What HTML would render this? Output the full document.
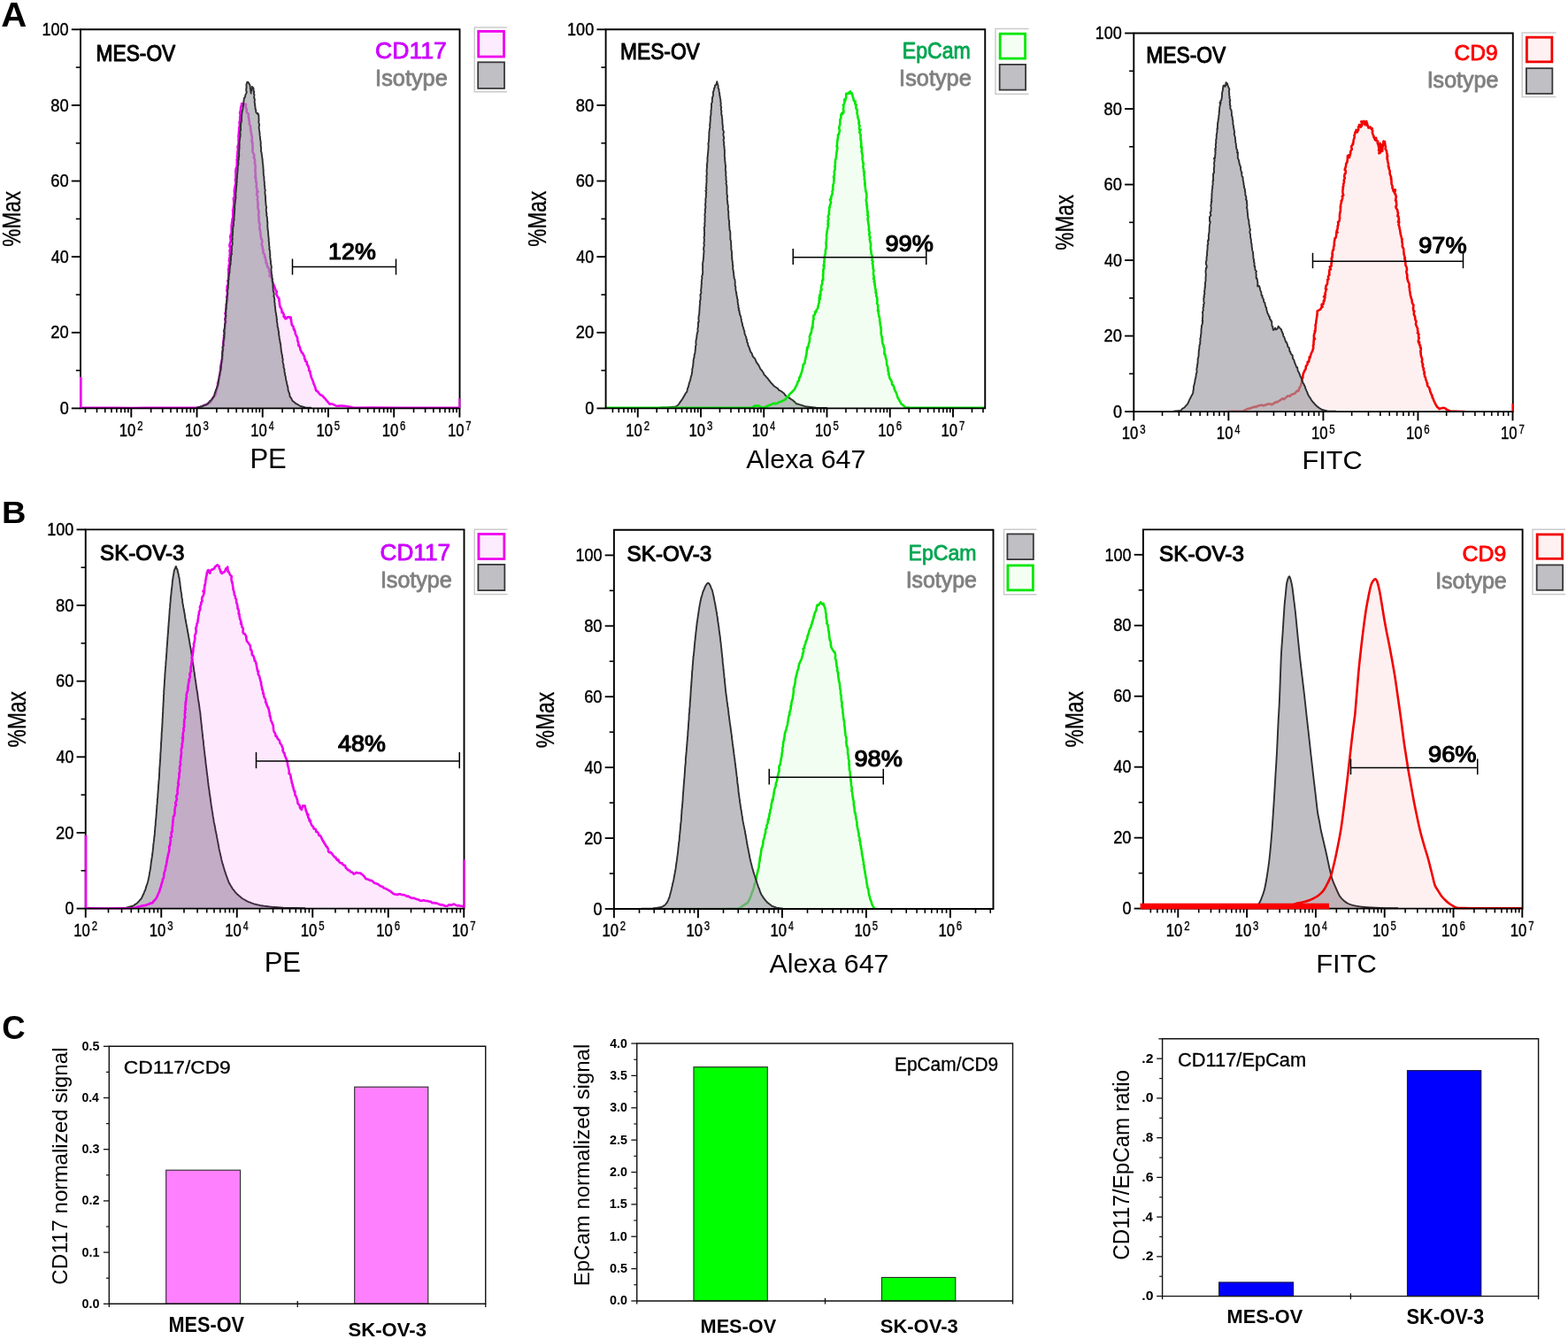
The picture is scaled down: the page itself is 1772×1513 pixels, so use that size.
<!DOCTYPE html>
<html lang="en"><head><meta charset="utf-8"><title>Flow cytometry of MES-OV and SK-OV-3: CD117, EpCam, CD9</title>
<style>
html,body{margin:0;padding:0;background:#fff}
body{width:1772px;height:1513px;overflow:hidden}
svg{display:block}
text{font-family:"Liberation Sans",Arial,Helvetica,sans-serif;white-space:pre}
</style></head><body>
<svg width="1772" height="1513" viewBox="0 0 1772 1513">
<rect width="1772" height="1513" fill="#fff"/>
<defs><clipPath id="cpA1"><rect x="89.8" y="33.3" width="430.9" height="428.95"/></clipPath><clipPath id="cpA2"><rect x="683.4" y="33.3" width="431.05" height="428.95"/></clipPath><clipPath id="cpA3"><rect x="1280.1" y="37.5" width="430.85" height="428.45"/></clipPath><clipPath id="cpB1"><rect x="95.55" y="598.4" width="430.15" height="429.05"/></clipPath><clipPath id="cpB2"><rect x="692.7" y="598.75" width="431" height="429.1"/></clipPath><clipPath id="cpB3"><rect x="1290.7" y="598.4" width="431.1" height="429.05"/></clipPath></defs>
<g clip-path="url(#cpA1)"><path d="M91.6,460.83L94.6,460.71L110,460.89L130,460.77L150,460.95L165,460.68L185,460.86L205,460.71L225,460.68L226.4,460.04L227.8,459.41L229.2,458.77L230.84,457.93L231.9,457.47L233.36,457.42L234.93,455.94L236.2,455.07L237.66,455.04L238.52,453.47L239.35,452.31L240.01,450.63L241.08,448.77L242.05,447.83L242.93,446.83L243.9,445.52L244.16,443.31L244.55,441.83L244.61,440.71L245.21,439.14L245.66,438.11L246.11,435.93L246.13,433.9L246.07,432.55L246.6,431.44L247.21,429.22L247.83,428.03L247.92,425.46L248.05,424.56L248.11,424.25L248.86,422.28L248.73,419.83L249.56,418.05L249.16,417.56L249.18,413.9L249.49,414.17L249.78,411.66L250.2,409.77L250.42,409.66L251.01,408.2L250.89,405.94L251.42,405.01L251.19,403.14L251.73,401.55L251.44,400.36L251.6,397.36L251.63,396.19L252.18,394.29L251.78,392.42L252.75,390.84L252.5,389.65L252.23,388.6L252.83,384.91L252.53,384.7L253.33,384.15L252.75,381.87L253.45,381.55L252.96,379.28L253.49,377.91L254.06,374.64L253.12,374.3L253.89,372.35L254.07,371L254.51,368.22L254.28,368.56L254.74,364.81L255.35,363.39L254.75,362.2L254.44,359.95L254.77,359.95L255.18,359.49L255.01,355.48L254.39,354.28L255.49,352.52L255.35,350.58L255.53,349.01L255.39,348.54L255.71,345.43L255.49,344.45L256.01,342.99L256.4,341.16L257.08,339.17L256.93,337.89L256.91,336.75L256.06,335.68L256.75,333.79L257.03,331.78L256.83,329.58L256.37,328.02L256.81,325.93L256.5,323.8L257.19,322.62L257.34,322.02L258.08,320.31L257.28,317.17L257.91,316.61L258.08,314.82L258.13,314.71L258.28,314.12L258.54,311.88L258.29,310.96L258.29,306.64L258.73,305.76L257.93,304.87L258.74,302.06L258.64,301.64L258.62,300.16L259.43,297.62L259.58,296.1L258.74,294.64L259.53,293.26L258.98,292.29L259.85,290.93L259.64,288L259.64,288.25L260,286.14L259.48,282.83L260.31,281.44L260.3,281.86L260.09,278.14L259.82,279.55L259.37,277.14L260.17,274.33L260.56,272.93L261.09,272.07L260.71,271.08L260.2,267.15L260.65,267.28L260.68,265.21L261.24,264.04L261.77,262.58L261.6,260.47L261.71,259L261.54,256.49L261.76,253.99L261.94,253.25L262.05,251.2L262.41,251.47L262.52,247.86L262.52,247.78L263.03,245.98L263.39,244.01L263.14,242.42L263.3,240.99L263.32,239.67L263.02,237.42L263.56,236.92L263.98,233.1L263.95,233.52L264.14,231.51L264.39,228.78L264.2,228.21L264.15,226.83L263.86,224.5L264.25,223.28L265.47,222.16L264.76,219.99L265.16,219.34L264.88,216.59L264.84,216.94L264.86,214.48L265.34,212.6L265.29,212.23L265.86,209.57L266.22,208.05L266.52,205.91L265.99,204.35L266.03,202.73L266.31,200.66L266.45,199.35L266.32,198.53L266.59,197.44L266.32,194.21L266.38,193.26L266.56,191.06L267.23,189.16L267.8,188.3L267.6,186.46L267.93,185.61L267.68,184.32L268.04,181.18L267.54,180.66L267.99,180.48L268.2,177.94L267.94,176.81L268.42,174.71L268.4,172.73L268.54,170.64L268.55,170.18L269.19,167.95L268.5,166.71L268.75,164.99L269.4,163.35L269.59,161.58L269.64,160.17L269.81,158.64L269.36,157.95L270.23,155.06L269.43,155.03L269.6,152.54L269.91,150.82L269.9,149.52L269.99,148.93L270.15,145.2L270.52,143.1L271.18,142.81L270.72,142.21L270.84,138.61L270.42,138.37L270.94,136.82L271.22,134.59L271.16,131.85L271.64,130.64L271.98,131.88L271.03,126.99L271.47,126.79L271.92,124.53L272.1,121.72L272.21,121.12L273.03,118.6L273.12,117.03L274.87,117.35L276.71,117.69L278.02,117.87L277.65,121.14L277.85,121.61L278.81,123.66L278.47,125.39L279.36,127.69L280.29,127.96L280.96,129.1L280.68,131.78L281.38,134.12L281.26,134.71L281.49,136.35L282.04,137.64L281.79,138.46L281.92,140.63L283.05,142.16L283.01,145.57L283.13,143.91L283.31,146.71L283.53,149.11L284.14,150.82L284.24,152.42L284.14,153.02L284.83,153.93L284.88,157.62L284.45,158.72L284.75,161.19L285.26,160.11L285.53,164.43L285.42,164.93L285.44,166.06L285.69,167.3L285.29,170.24L285.62,172.2L286.64,173.54L286.92,174.25L287.21,174.87L287.29,176.52L286.72,177.93L287.57,179.14L288.13,181.41L287.94,183.76L287.63,184.08L288.41,185.52L288.68,188.72L288.62,189.84L288.63,190.83L288.26,193.09L288.74,194.76L288.79,196.4L288.96,197.12L288.31,200.25L289.08,199.88L289.19,203.97L289.19,205.67L289.77,205.21L289.9,206.19L289.9,209.46L289.59,211.67L289.95,212.13L290.58,213.58L290.37,217.4L291.6,216.43L290.66,218.4L290,220.14L291.28,221.89L291.06,223.93L290.75,225.36L291.14,226.52L291.44,228.19L291.4,230.48L291.91,230.75L291.23,233.14L291.46,234.64L291.74,236.42L292.31,237.84L292.46,240.04L292.61,240.78L292.02,242.73L292.66,245.9L292.5,246.28L292.3,248.15L292.8,249.07L292.64,251.08L293.55,253.04L293.61,254.09L293.43,256.18L293.04,257.83L293.97,259.29L293.51,259.03L294.29,261.92L294.41,264.32L294.65,265.11L294.39,266.45L295.15,267.97L294.83,269.56L296.01,270.48L296.34,273.5L295.82,274.94L295.63,276.78L296.33,277.41L296.71,279.72L297.23,282.94L297.67,282.25L297.35,285.87L298.23,286.5L299.01,287.38L299,290.38L299.77,290.48L300.04,293.13L300.63,293.83L300.46,296.89L301.07,296.76L301.61,297.52L301.79,299.51L302.31,301.87L302.78,301.5L303.81,303.31L304.15,305.67L304.06,306.59L304.91,307.88L305.19,309.29L304.52,311.95L306.03,311.72L307.06,314.86L307.39,314.91L307.68,317.97L308.34,319.01L308.53,321.07L309.32,321.79L309.72,322.82L310.44,324.58L311.32,327.16L311.7,328.54L312.81,329.38L312.33,332.19L312.72,333.28L313.53,334.94L313.69,335.19L315.37,337.4L315.39,339.75L315.58,340.14L315.93,342.21L315.96,343.97L316.02,343.97L316.68,347L317.08,347.36L318.06,349.01L318.38,350.96L318.52,350.96L318.71,353.28L319.56,352.97L320.67,355L320.67,357.85L320.83,358.18L322.26,358.08L322.47,360.24L323.48,359.97L325.41,358.23L326.09,358.51L327.36,358.21L328.81,358.8L328.45,360.37L329.18,361.49L329.06,363.03L329.8,366.33L329.9,367.41L331.2,368.54L331.4,368.66L332.15,372.65L332.82,372.33L333.24,374.16L333.64,374.79L333.66,376.63L334.25,378.14L335.2,379.9L336.16,381.93L336.26,382.97L336.13,383.79L336.32,385.09L337.23,387.32L337.19,390.5L338.06,390.19L338.25,390.85L338.92,392.58L339.57,395.36L340.44,396.9L341.03,398.66L342.05,399.05L342.77,400.57L342.95,401.34L343.79,402.14L344.29,405.7L345.1,406.21L345.05,408.09L346.04,408.53L346.89,409.23L346.87,411.64L347.99,413.08L348.55,414.49L349.29,416.72L349.03,418.61L350.56,419.86L350.44,420.9L351.16,423.97L351.46,424.13L351.59,426.02L352.76,428.28L353.01,429.17L353.6,430.48L353.9,431.15L354.43,433.42L355.26,435.01L355.76,436.48L356.35,437.67L356.47,439.06L357.4,441.5L358.93,442.28L359.91,443.69L360.88,444.76L362.11,446.28L363.82,446.81L364.94,447.58L365.87,448.93L367.1,450.05L367.89,450.9L368.72,452.07L370.28,453.84L371.37,455.08L372.42,456.6L374.27,456.31L375.94,456.65L377.47,457.42L378.57,457.79L380,458.75L381.6,458.68L383.2,458.61L384.8,458.54L386.4,458.47L388.15,458.66L389.5,458.69L391,458.99L392.5,459.28L394,459.57L395.5,459.86L397,460.15L398.5,460.45L400,460.74L420,460.65L450,460.86L480,460.92L505,460.83L519.3,460.89L519.3,461.4L91.6,461.4Z" fill="#ee00ee" fill-opacity="0.09" stroke="none"/>
<path d="M91.6,460.83L94.6,460.71L110,460.89L130,460.77L150,460.95L165,460.68L185,460.86L205,460.71L225,460.68L226.4,460.04L227.8,459.41L229.2,458.77L230.84,457.93L231.9,457.47L233.36,457.42L234.93,455.94L236.2,455.07L237.66,455.04L238.52,453.47L239.35,452.31L240.01,450.63L241.08,448.77L242.05,447.83L242.93,446.83L243.9,445.52L244.16,443.31L244.55,441.83L244.61,440.71L245.21,439.14L245.66,438.11L246.11,435.93L246.13,433.9L246.07,432.55L246.6,431.44L247.21,429.22L247.83,428.03L247.92,425.46L248.05,424.56L248.11,424.25L248.86,422.28L248.73,419.83L249.56,418.05L249.16,417.56L249.18,413.9L249.49,414.17L249.78,411.66L250.2,409.77L250.42,409.66L251.01,408.2L250.89,405.94L251.42,405.01L251.19,403.14L251.73,401.55L251.44,400.36L251.6,397.36L251.63,396.19L252.18,394.29L251.78,392.42L252.75,390.84L252.5,389.65L252.23,388.6L252.83,384.91L252.53,384.7L253.33,384.15L252.75,381.87L253.45,381.55L252.96,379.28L253.49,377.91L254.06,374.64L253.12,374.3L253.89,372.35L254.07,371L254.51,368.22L254.28,368.56L254.74,364.81L255.35,363.39L254.75,362.2L254.44,359.95L254.77,359.95L255.18,359.49L255.01,355.48L254.39,354.28L255.49,352.52L255.35,350.58L255.53,349.01L255.39,348.54L255.71,345.43L255.49,344.45L256.01,342.99L256.4,341.16L257.08,339.17L256.93,337.89L256.91,336.75L256.06,335.68L256.75,333.79L257.03,331.78L256.83,329.58L256.37,328.02L256.81,325.93L256.5,323.8L257.19,322.62L257.34,322.02L258.08,320.31L257.28,317.17L257.91,316.61L258.08,314.82L258.13,314.71L258.28,314.12L258.54,311.88L258.29,310.96L258.29,306.64L258.73,305.76L257.93,304.87L258.74,302.06L258.64,301.64L258.62,300.16L259.43,297.62L259.58,296.1L258.74,294.64L259.53,293.26L258.98,292.29L259.85,290.93L259.64,288L259.64,288.25L260,286.14L259.48,282.83L260.31,281.44L260.3,281.86L260.09,278.14L259.82,279.55L259.37,277.14L260.17,274.33L260.56,272.93L261.09,272.07L260.71,271.08L260.2,267.15L260.65,267.28L260.68,265.21L261.24,264.04L261.77,262.58L261.6,260.47L261.71,259L261.54,256.49L261.76,253.99L261.94,253.25L262.05,251.2L262.41,251.47L262.52,247.86L262.52,247.78L263.03,245.98L263.39,244.01L263.14,242.42L263.3,240.99L263.32,239.67L263.02,237.42L263.56,236.92L263.98,233.1L263.95,233.52L264.14,231.51L264.39,228.78L264.2,228.21L264.15,226.83L263.86,224.5L264.25,223.28L265.47,222.16L264.76,219.99L265.16,219.34L264.88,216.59L264.84,216.94L264.86,214.48L265.34,212.6L265.29,212.23L265.86,209.57L266.22,208.05L266.52,205.91L265.99,204.35L266.03,202.73L266.31,200.66L266.45,199.35L266.32,198.53L266.59,197.44L266.32,194.21L266.38,193.26L266.56,191.06L267.23,189.16L267.8,188.3L267.6,186.46L267.93,185.61L267.68,184.32L268.04,181.18L267.54,180.66L267.99,180.48L268.2,177.94L267.94,176.81L268.42,174.71L268.4,172.73L268.54,170.64L268.55,170.18L269.19,167.95L268.5,166.71L268.75,164.99L269.4,163.35L269.59,161.58L269.64,160.17L269.81,158.64L269.36,157.95L270.23,155.06L269.43,155.03L269.6,152.54L269.91,150.82L269.9,149.52L269.99,148.93L270.15,145.2L270.52,143.1L271.18,142.81L270.72,142.21L270.84,138.61L270.42,138.37L270.94,136.82L271.22,134.59L271.16,131.85L271.64,130.64L271.98,131.88L271.03,126.99L271.47,126.79L271.92,124.53L272.1,121.72L272.21,121.12L273.03,118.6L273.12,117.03L274.87,117.35L276.71,117.69L278.02,117.87L277.65,121.14L277.85,121.61L278.81,123.66L278.47,125.39L279.36,127.69L280.29,127.96L280.96,129.1L280.68,131.78L281.38,134.12L281.26,134.71L281.49,136.35L282.04,137.64L281.79,138.46L281.92,140.63L283.05,142.16L283.01,145.57L283.13,143.91L283.31,146.71L283.53,149.11L284.14,150.82L284.24,152.42L284.14,153.02L284.83,153.93L284.88,157.62L284.45,158.72L284.75,161.19L285.26,160.11L285.53,164.43L285.42,164.93L285.44,166.06L285.69,167.3L285.29,170.24L285.62,172.2L286.64,173.54L286.92,174.25L287.21,174.87L287.29,176.52L286.72,177.93L287.57,179.14L288.13,181.41L287.94,183.76L287.63,184.08L288.41,185.52L288.68,188.72L288.62,189.84L288.63,190.83L288.26,193.09L288.74,194.76L288.79,196.4L288.96,197.12L288.31,200.25L289.08,199.88L289.19,203.97L289.19,205.67L289.77,205.21L289.9,206.19L289.9,209.46L289.59,211.67L289.95,212.13L290.58,213.58L290.37,217.4L291.6,216.43L290.66,218.4L290,220.14L291.28,221.89L291.06,223.93L290.75,225.36L291.14,226.52L291.44,228.19L291.4,230.48L291.91,230.75L291.23,233.14L291.46,234.64L291.74,236.42L292.31,237.84L292.46,240.04L292.61,240.78L292.02,242.73L292.66,245.9L292.5,246.28L292.3,248.15L292.8,249.07L292.64,251.08L293.55,253.04L293.61,254.09L293.43,256.18L293.04,257.83L293.97,259.29L293.51,259.03L294.29,261.92L294.41,264.32L294.65,265.11L294.39,266.45L295.15,267.97L294.83,269.56L296.01,270.48L296.34,273.5L295.82,274.94L295.63,276.78L296.33,277.41L296.71,279.72L297.23,282.94L297.67,282.25L297.35,285.87L298.23,286.5L299.01,287.38L299,290.38L299.77,290.48L300.04,293.13L300.63,293.83L300.46,296.89L301.07,296.76L301.61,297.52L301.79,299.51L302.31,301.87L302.78,301.5L303.81,303.31L304.15,305.67L304.06,306.59L304.91,307.88L305.19,309.29L304.52,311.95L306.03,311.72L307.06,314.86L307.39,314.91L307.68,317.97L308.34,319.01L308.53,321.07L309.32,321.79L309.72,322.82L310.44,324.58L311.32,327.16L311.7,328.54L312.81,329.38L312.33,332.19L312.72,333.28L313.53,334.94L313.69,335.19L315.37,337.4L315.39,339.75L315.58,340.14L315.93,342.21L315.96,343.97L316.02,343.97L316.68,347L317.08,347.36L318.06,349.01L318.38,350.96L318.52,350.96L318.71,353.28L319.56,352.97L320.67,355L320.67,357.85L320.83,358.18L322.26,358.08L322.47,360.24L323.48,359.97L325.41,358.23L326.09,358.51L327.36,358.21L328.81,358.8L328.45,360.37L329.18,361.49L329.06,363.03L329.8,366.33L329.9,367.41L331.2,368.54L331.4,368.66L332.15,372.65L332.82,372.33L333.24,374.16L333.64,374.79L333.66,376.63L334.25,378.14L335.2,379.9L336.16,381.93L336.26,382.97L336.13,383.79L336.32,385.09L337.23,387.32L337.19,390.5L338.06,390.19L338.25,390.85L338.92,392.58L339.57,395.36L340.44,396.9L341.03,398.66L342.05,399.05L342.77,400.57L342.95,401.34L343.79,402.14L344.29,405.7L345.1,406.21L345.05,408.09L346.04,408.53L346.89,409.23L346.87,411.64L347.99,413.08L348.55,414.49L349.29,416.72L349.03,418.61L350.56,419.86L350.44,420.9L351.16,423.97L351.46,424.13L351.59,426.02L352.76,428.28L353.01,429.17L353.6,430.48L353.9,431.15L354.43,433.42L355.26,435.01L355.76,436.48L356.35,437.67L356.47,439.06L357.4,441.5L358.93,442.28L359.91,443.69L360.88,444.76L362.11,446.28L363.82,446.81L364.94,447.58L365.87,448.93L367.1,450.05L367.89,450.9L368.72,452.07L370.28,453.84L371.37,455.08L372.42,456.6L374.27,456.31L375.94,456.65L377.47,457.42L378.57,457.79L380,458.75L381.6,458.68L383.2,458.61L384.8,458.54L386.4,458.47L388.15,458.66L389.5,458.69L391,458.99L392.5,459.28L394,459.57L395.5,459.86L397,460.15L398.5,460.45L400,460.74L420,460.65L450,460.86L480,460.92L505,460.83L519.3,460.89" fill="none" stroke="#ee00ee" stroke-width="2.6" stroke-linejoin="round" stroke-linecap="butt"/></g>
<g clip-path="url(#cpA1)"><path d="M222,460.6L228,459.3L229.4,458.69L230.72,458.1L232.27,457.59L233.69,456.75L235.01,456.29L235.9,454.99L236.94,453.38L238.05,452.58L239.23,451.34L240.28,450.19L241.24,448.8L242.02,447.05L242.37,445.57L242.86,444.08L243.44,442.4L243.87,441.21L244.58,439.5L245.1,438.42L245.42,436.3L246.23,435.44L246.56,433.5L247,431.66L247.03,430.15L247.25,427.95L247.57,426.69L247.78,425L248.22,424.15L248.31,422.08L248.8,420.41L249.08,419.3L249.44,417.53L249.9,415.46L249.87,414.19L249.91,412.26L250.09,410.91L250.39,409.71L250.34,407.76L250.76,406.7L250.94,404.91L250.83,403.2L251.16,402.11L251.2,399.39L251.26,398.15L251.57,396.67L251.95,395.98L251.77,393.72L251.62,393.07L251.82,391.09L252.6,390.31L252.39,387.88L252.58,385.69L252.85,383.73L253.05,382.46L253.45,381.1L253.36,378.81L253.41,378.35L253.68,376.65L253.39,375.3L253.35,372.44L253.82,371.77L253.88,370.41L253.95,368.83L254.02,366.42L254.4,365.82L254.58,364.25L254.72,362.84L254.35,360.87L254.81,359.55L254.81,357.8L255.4,357.06L255.01,354.7L255.29,353.35L254.96,352.22L255.22,349.54L255.74,349.22L255.73,346.47L255.76,345.96L255.96,343.72L256,342.53L256.24,340.52L255.99,339.27L256.59,337.96L256.49,336.37L257.08,334.17L257.06,332.52L257.29,331.3L257.14,329.72L257.17,328.07L257.63,326.47L257.85,324.66L257.87,323.93L257.8,322.56L258.09,319.21L258.2,318.58L257.92,317.32L258.55,316.05L258.3,312.88L258.76,312.05L258.71,311.07L258.93,309.3L259.53,307.92L259.52,306.3L259.59,304.65L259.78,302.82L259.85,301.49L260.23,299.14L260.66,298.59L260.55,296.73L260.85,294.18L261.13,293.08L260.81,291.56L261.14,290.28L261.2,287.99L261.98,287.36L261.56,284.62L261.93,283.2L261.88,282.56L261.96,280L261.83,278.2L262.5,277.02L262.74,274.95L262.52,273.52L262.41,271.06L262.94,270.11L262.54,268.56L262.57,266.99L262.85,266.15L263.04,263.72L263.15,262.84L263.15,260.79L262.94,258.86L263.42,257.81L263.36,256.07L264.07,254.74L263.97,252.9L263.95,252.07L264.09,249.62L264.77,248.1L264.22,246.25L264.65,245.07L264.7,243.96L264.82,241.68L264.99,240.3L265,238.74L265.24,236.85L265.35,235.51L264.92,234.17L265.38,232.87L265.39,230.63L265.82,228.9L265.72,227.63L266.09,225.25L266.34,224.78L266.43,223.33L266.4,221.72L266.43,219.31L266.28,218.21L266.67,216.84L266.74,215.1L266.84,213.54L267.12,211.86L267.03,210.39L267.53,208.72L267.18,207.35L267.8,205.71L267.47,203.39L267.85,202.11L267.9,200.56L267.96,199.16L268.09,197.24L268.39,195.65L268.18,194.82L268.57,193.36L268.72,191.33L268.67,189.42L269,187.3L269.37,185.94L269.48,184.51L269.29,182.75L269.11,181.63L269.79,180.52L269.75,178.31L270.1,176.77L270.31,175.02L269.95,173.86L270.17,172.01L270.3,170.19L270.31,169.41L270.61,166.57L270.44,164.94L270.71,163.32L270.54,161.87L270.58,159.86L270.89,158.47L271.03,157.27L271.19,155.36L271.55,154.14L271.58,153.08L271.7,151.16L271.13,149.2L271.64,148.41L272.17,146.17L271.86,143.74L272.03,142.97L272.02,141.45L272.37,139.2L272.34,138.75L272.95,136.7L273.09,135.25L272.96,134.07L273.14,131.81L273.2,129.31L273.41,127.99L273.61,126.83L273.81,125.54L274.25,124.03L274.63,121.89L274.46,121.3L274.88,120.07L275.12,117.53L275.32,115.73L275.37,114.45L275.81,111.89L275.7,110.93L276.81,110.09L277.18,108.15L277.46,106.94L278.04,105.86L278.75,104.35L278.23,102.23L278.31,100.44L278.58,98.17L278.65,97.62L278.34,95.94L278.89,94.15L279.36,92.78L280.59,93.02L281.42,94.5L282.45,96.27L282.87,98.73L282.77,99.75L283.09,100.98L283.31,102.91L283.7,105.59L283.59,104.38L284.32,101.58L284.58,100.34L284.95,99.08L284.92,97.85L286.59,99.85L286.46,101.04L286.59,103.12L287.22,103.41L286.9,106.18L287.38,106.88L287.4,108.14L287.04,110.1L287.83,111.92L287.81,113.79L287.57,115.21L287.96,116.91L288.08,119.01L288.29,119.34L288.5,121.09L288.57,123.03L289.27,124.49L289.24,126.6L290.83,128.73L291.28,127.87L292.22,129.54L292.44,131.94L292.45,133.27L292.53,135.48L292.57,136.49L292.33,137.55L292.44,138.71L293.12,141.07L292.71,142.69L292.6,143.64L292.82,146.14L292.96,146.85L293.37,149.19L293.49,150.82L293.58,152.63L293.72,153.65L294.12,155.49L293.88,156.51L294.27,158.11L294.53,159.71L294.79,161.56L294.67,162.79L294.61,164.14L294.86,165.71L295.12,167.46L295.08,169.01L294.91,170.44L295.55,172.55L295.77,173.9L295.72,174.33L296.23,176.84L296.21,177.8L296.64,180.08L296.67,180.94L296.82,183.54L297,185.17L297.3,186.28L297.32,188.17L297.48,190.04L297.58,191.89L297.81,192.43L297.64,194.68L297.8,195.68L297.86,197.68L298.1,198.76L298.56,200.58L298.34,201.26L298.55,204.03L298.78,205.61L298.86,206.2L298.81,209.12L299.2,210.46L299.21,211.79L299.2,213L299.86,214.73L299.44,216.47L299.38,218.34L299.74,219.8L299.78,220.85L300.11,223.43L300.02,223.1L300.03,225.63L300.17,226.94L300.37,229.19L300.48,230.67L300.6,232.26L301.22,234.44L300.96,235.22L300.73,236.75L300.92,238.79L301.15,240.8L301.55,241.53L301.13,243.39L301.72,244.94L301.87,246.18L301.98,247.92L302.06,250.35L302.37,250.57L302.37,253L302.27,254.49L302.28,256.43L302.7,257.78L302.4,258.85L302.91,260.62L302.93,262.07L303.23,263.99L303.15,265.03L303.41,266.84L303.5,268.86L303.78,269.4L303.63,272.18L303.93,273.17L304.19,274.65L304.08,276.97L304.22,277.46L304.59,279.91L304.27,281.55L304.86,282.71L305.04,284.7L305.28,285.68L305.14,287.76L305.35,287.98L305.18,290.66L305.64,292.56L305.69,294.01L306.06,295.73L305.82,296.99L306.38,298.62L306.31,299.56L306.81,301.16L306.83,302.33L306.39,304.91L306.65,306.1L306.83,308.37L307.04,310.25L307.54,311.5L307.37,312.34L307.46,313.73L307.87,315.32L307.72,317.18L308.12,319.49L308.18,320.02L308.5,320.99L308.33,323.96L308.56,324.68L308.68,326.82L308.73,329.11L308.96,329.38L309.59,330.82L309.65,332.96L309.36,335.12L309.78,335.34L309.83,336.11L310.4,338.96L310.02,340.45L310.44,342.31L310.73,342.95L310.54,345.16L311.1,346.94L311.04,349.19L311.38,350.22L311.28,351.08L311.75,353.21L312.09,355.14L312.15,356.59L312.57,357.46L312.62,359.96L313.05,360.56L312.72,361.95L313.16,364.34L313.42,365.73L313.63,367.9L313.49,368.71L314.03,370.09L314.4,371.39L314.59,373.71L315.01,374.75L315.17,376.41L314.93,377.45L315.53,379.72L315.72,381.92L316.05,383.27L316.36,385.7L316.56,385.85L316.53,387.54L317.12,388.35L317.27,391.11L317.4,392.13L317.66,394.4L317.79,396.54L318.11,397.56L318.37,399.1L318.45,400.23L319.04,401.71L318.99,403.93L319.52,405.21L319.73,406.49L319.44,408.18L319.76,409.68L320.15,411.09L320.64,413.29L320.44,414.91L321.14,416.53L321.43,417.22L321.36,418.39L321.53,420.63L322,421.42L322.06,423.7L322.42,424.58L322.9,426.16L323.03,427.9L323.35,429.73L323.74,430.85L324.09,432.6L324.26,433.76L324.7,435.6L325.18,437.05L325.5,438.67L325.49,440.33L325.92,441.77L326.37,443.18L326.97,444.33L327.37,445.96L327.49,447.82L328.27,448.92L329.29,450.1L329.87,451.75L330.86,453.21L332.28,454.06L333.54,455.4L335.04,456.41L336.34,456.96L337.53,457.75L338.78,458.53L340,459L345,460.5L352,460.8L352,461.4L222,461.4Z" fill="#9e9da4" fill-opacity="0.66" stroke="none"/>
<path d="M222,460.6L228,459.3L229.4,458.69L230.72,458.1L232.27,457.59L233.69,456.75L235.01,456.29L235.9,454.99L236.94,453.38L238.05,452.58L239.23,451.34L240.28,450.19L241.24,448.8L242.02,447.05L242.37,445.57L242.86,444.08L243.44,442.4L243.87,441.21L244.58,439.5L245.1,438.42L245.42,436.3L246.23,435.44L246.56,433.5L247,431.66L247.03,430.15L247.25,427.95L247.57,426.69L247.78,425L248.22,424.15L248.31,422.08L248.8,420.41L249.08,419.3L249.44,417.53L249.9,415.46L249.87,414.19L249.91,412.26L250.09,410.91L250.39,409.71L250.34,407.76L250.76,406.7L250.94,404.91L250.83,403.2L251.16,402.11L251.2,399.39L251.26,398.15L251.57,396.67L251.95,395.98L251.77,393.72L251.62,393.07L251.82,391.09L252.6,390.31L252.39,387.88L252.58,385.69L252.85,383.73L253.05,382.46L253.45,381.1L253.36,378.81L253.41,378.35L253.68,376.65L253.39,375.3L253.35,372.44L253.82,371.77L253.88,370.41L253.95,368.83L254.02,366.42L254.4,365.82L254.58,364.25L254.72,362.84L254.35,360.87L254.81,359.55L254.81,357.8L255.4,357.06L255.01,354.7L255.29,353.35L254.96,352.22L255.22,349.54L255.74,349.22L255.73,346.47L255.76,345.96L255.96,343.72L256,342.53L256.24,340.52L255.99,339.27L256.59,337.96L256.49,336.37L257.08,334.17L257.06,332.52L257.29,331.3L257.14,329.72L257.17,328.07L257.63,326.47L257.85,324.66L257.87,323.93L257.8,322.56L258.09,319.21L258.2,318.58L257.92,317.32L258.55,316.05L258.3,312.88L258.76,312.05L258.71,311.07L258.93,309.3L259.53,307.92L259.52,306.3L259.59,304.65L259.78,302.82L259.85,301.49L260.23,299.14L260.66,298.59L260.55,296.73L260.85,294.18L261.13,293.08L260.81,291.56L261.14,290.28L261.2,287.99L261.98,287.36L261.56,284.62L261.93,283.2L261.88,282.56L261.96,280L261.83,278.2L262.5,277.02L262.74,274.95L262.52,273.52L262.41,271.06L262.94,270.11L262.54,268.56L262.57,266.99L262.85,266.15L263.04,263.72L263.15,262.84L263.15,260.79L262.94,258.86L263.42,257.81L263.36,256.07L264.07,254.74L263.97,252.9L263.95,252.07L264.09,249.62L264.77,248.1L264.22,246.25L264.65,245.07L264.7,243.96L264.82,241.68L264.99,240.3L265,238.74L265.24,236.85L265.35,235.51L264.92,234.17L265.38,232.87L265.39,230.63L265.82,228.9L265.72,227.63L266.09,225.25L266.34,224.78L266.43,223.33L266.4,221.72L266.43,219.31L266.28,218.21L266.67,216.84L266.74,215.1L266.84,213.54L267.12,211.86L267.03,210.39L267.53,208.72L267.18,207.35L267.8,205.71L267.47,203.39L267.85,202.11L267.9,200.56L267.96,199.16L268.09,197.24L268.39,195.65L268.18,194.82L268.57,193.36L268.72,191.33L268.67,189.42L269,187.3L269.37,185.94L269.48,184.51L269.29,182.75L269.11,181.63L269.79,180.52L269.75,178.31L270.1,176.77L270.31,175.02L269.95,173.86L270.17,172.01L270.3,170.19L270.31,169.41L270.61,166.57L270.44,164.94L270.71,163.32L270.54,161.87L270.58,159.86L270.89,158.47L271.03,157.27L271.19,155.36L271.55,154.14L271.58,153.08L271.7,151.16L271.13,149.2L271.64,148.41L272.17,146.17L271.86,143.74L272.03,142.97L272.02,141.45L272.37,139.2L272.34,138.75L272.95,136.7L273.09,135.25L272.96,134.07L273.14,131.81L273.2,129.31L273.41,127.99L273.61,126.83L273.81,125.54L274.25,124.03L274.63,121.89L274.46,121.3L274.88,120.07L275.12,117.53L275.32,115.73L275.37,114.45L275.81,111.89L275.7,110.93L276.81,110.09L277.18,108.15L277.46,106.94L278.04,105.86L278.75,104.35L278.23,102.23L278.31,100.44L278.58,98.17L278.65,97.62L278.34,95.94L278.89,94.15L279.36,92.78L280.59,93.02L281.42,94.5L282.45,96.27L282.87,98.73L282.77,99.75L283.09,100.98L283.31,102.91L283.7,105.59L283.59,104.38L284.32,101.58L284.58,100.34L284.95,99.08L284.92,97.85L286.59,99.85L286.46,101.04L286.59,103.12L287.22,103.41L286.9,106.18L287.38,106.88L287.4,108.14L287.04,110.1L287.83,111.92L287.81,113.79L287.57,115.21L287.96,116.91L288.08,119.01L288.29,119.34L288.5,121.09L288.57,123.03L289.27,124.49L289.24,126.6L290.83,128.73L291.28,127.87L292.22,129.54L292.44,131.94L292.45,133.27L292.53,135.48L292.57,136.49L292.33,137.55L292.44,138.71L293.12,141.07L292.71,142.69L292.6,143.64L292.82,146.14L292.96,146.85L293.37,149.19L293.49,150.82L293.58,152.63L293.72,153.65L294.12,155.49L293.88,156.51L294.27,158.11L294.53,159.71L294.79,161.56L294.67,162.79L294.61,164.14L294.86,165.71L295.12,167.46L295.08,169.01L294.91,170.44L295.55,172.55L295.77,173.9L295.72,174.33L296.23,176.84L296.21,177.8L296.64,180.08L296.67,180.94L296.82,183.54L297,185.17L297.3,186.28L297.32,188.17L297.48,190.04L297.58,191.89L297.81,192.43L297.64,194.68L297.8,195.68L297.86,197.68L298.1,198.76L298.56,200.58L298.34,201.26L298.55,204.03L298.78,205.61L298.86,206.2L298.81,209.12L299.2,210.46L299.21,211.79L299.2,213L299.86,214.73L299.44,216.47L299.38,218.34L299.74,219.8L299.78,220.85L300.11,223.43L300.02,223.1L300.03,225.63L300.17,226.94L300.37,229.19L300.48,230.67L300.6,232.26L301.22,234.44L300.96,235.22L300.73,236.75L300.92,238.79L301.15,240.8L301.55,241.53L301.13,243.39L301.72,244.94L301.87,246.18L301.98,247.92L302.06,250.35L302.37,250.57L302.37,253L302.27,254.49L302.28,256.43L302.7,257.78L302.4,258.85L302.91,260.62L302.93,262.07L303.23,263.99L303.15,265.03L303.41,266.84L303.5,268.86L303.78,269.4L303.63,272.18L303.93,273.17L304.19,274.65L304.08,276.97L304.22,277.46L304.59,279.91L304.27,281.55L304.86,282.71L305.04,284.7L305.28,285.68L305.14,287.76L305.35,287.98L305.18,290.66L305.64,292.56L305.69,294.01L306.06,295.73L305.82,296.99L306.38,298.62L306.31,299.56L306.81,301.16L306.83,302.33L306.39,304.91L306.65,306.1L306.83,308.37L307.04,310.25L307.54,311.5L307.37,312.34L307.46,313.73L307.87,315.32L307.72,317.18L308.12,319.49L308.18,320.02L308.5,320.99L308.33,323.96L308.56,324.68L308.68,326.82L308.73,329.11L308.96,329.38L309.59,330.82L309.65,332.96L309.36,335.12L309.78,335.34L309.83,336.11L310.4,338.96L310.02,340.45L310.44,342.31L310.73,342.95L310.54,345.16L311.1,346.94L311.04,349.19L311.38,350.22L311.28,351.08L311.75,353.21L312.09,355.14L312.15,356.59L312.57,357.46L312.62,359.96L313.05,360.56L312.72,361.95L313.16,364.34L313.42,365.73L313.63,367.9L313.49,368.71L314.03,370.09L314.4,371.39L314.59,373.71L315.01,374.75L315.17,376.41L314.93,377.45L315.53,379.72L315.72,381.92L316.05,383.27L316.36,385.7L316.56,385.85L316.53,387.54L317.12,388.35L317.27,391.11L317.4,392.13L317.66,394.4L317.79,396.54L318.11,397.56L318.37,399.1L318.45,400.23L319.04,401.71L318.99,403.93L319.52,405.21L319.73,406.49L319.44,408.18L319.76,409.68L320.15,411.09L320.64,413.29L320.44,414.91L321.14,416.53L321.43,417.22L321.36,418.39L321.53,420.63L322,421.42L322.06,423.7L322.42,424.58L322.9,426.16L323.03,427.9L323.35,429.73L323.74,430.85L324.09,432.6L324.26,433.76L324.7,435.6L325.18,437.05L325.5,438.67L325.49,440.33L325.92,441.77L326.37,443.18L326.97,444.33L327.37,445.96L327.49,447.82L328.27,448.92L329.29,450.1L329.87,451.75L330.86,453.21L332.28,454.06L333.54,455.4L335.04,456.41L336.34,456.96L337.53,457.75L338.78,458.53L340,459L345,460.5L352,460.8" fill="none" stroke="#2e2e30" stroke-width="1.9" stroke-linejoin="round" stroke-linecap="butt"/></g>
<path d="M91,33.3L519.5,33.3L519.5,461.4L91,461.4Z" fill="none" stroke="#000" stroke-width="1.9"/>
<line x1="91.3" y1="426" x2="91.3" y2="460.8" stroke="#ee00ee" stroke-width="2.7"/>
<line x1="519.3" y1="450.3" x2="519.3" y2="460.8" stroke="#ee00ee" stroke-width="2.1"/>
<line x1="80.8" y1="461.4" x2="91" y2="461.4" stroke="#000" stroke-width="1.85" stroke-linecap="butt"/>
<text transform="matrix(0.8571 0.0000 0.0000 0.9639 67.6714 468.1180)" font-family='"Liberation Sans", Arial, Helvetica, sans-serif' font-size="21" fill="#000" stroke="#000" stroke-width="0.45" stroke-linejoin="round">0</text>
<line x1="85.8" y1="418.59" x2="91" y2="418.59" stroke="#000" stroke-width="1.6" stroke-linecap="butt"/>
<line x1="80.8" y1="375.78" x2="91" y2="375.78" stroke="#000" stroke-width="1.85" stroke-linecap="butt"/>
<text transform="matrix(0.8727 0.0000 0.0000 0.9639 57.2455 382.4980)" font-family='"Liberation Sans", Arial, Helvetica, sans-serif' font-size="21" fill="#000" stroke="#000" stroke-width="0.45" stroke-linejoin="round">20</text>
<line x1="85.8" y1="332.97" x2="91" y2="332.97" stroke="#000" stroke-width="1.6" stroke-linecap="butt"/>
<line x1="80.8" y1="290.16" x2="91" y2="290.16" stroke="#000" stroke-width="1.85" stroke-linecap="butt"/>
<text transform="matrix(0.8533 0.0000 0.0000 0.9639 57.6867 296.8780)" font-family='"Liberation Sans", Arial, Helvetica, sans-serif' font-size="21" fill="#000" stroke="#000" stroke-width="0.45" stroke-linejoin="round">40</text>
<line x1="85.8" y1="247.35" x2="91" y2="247.35" stroke="#000" stroke-width="1.6" stroke-linecap="butt"/>
<line x1="80.8" y1="204.54" x2="91" y2="204.54" stroke="#000" stroke-width="1.85" stroke-linecap="butt"/>
<text transform="matrix(0.8727 0.0000 0.0000 0.9639 57.2455 211.2580)" font-family='"Liberation Sans", Arial, Helvetica, sans-serif' font-size="21" fill="#000" stroke="#000" stroke-width="0.45" stroke-linejoin="round">60</text>
<line x1="85.8" y1="161.73" x2="91" y2="161.73" stroke="#000" stroke-width="1.6" stroke-linecap="butt"/>
<line x1="80.8" y1="118.92" x2="91" y2="118.92" stroke="#000" stroke-width="1.85" stroke-linecap="butt"/>
<text transform="matrix(0.8727 0.0000 0.0000 0.9639 57.2455 125.6380)" font-family='"Liberation Sans", Arial, Helvetica, sans-serif' font-size="21" fill="#000" stroke="#000" stroke-width="0.45" stroke-linejoin="round">80</text>
<line x1="85.8" y1="76.11" x2="91" y2="76.11" stroke="#000" stroke-width="1.6" stroke-linecap="butt"/>
<line x1="80.8" y1="33.3" x2="91" y2="33.3" stroke="#000" stroke-width="1.85" stroke-linecap="butt"/>
<text transform="matrix(0.8576 0.0000 0.0000 0.9639 47.5136 40.0180)" font-family='"Liberation Sans", Arial, Helvetica, sans-serif' font-size="21" fill="#000" stroke="#000" stroke-width="0.45" stroke-linejoin="round">100</text>
<line x1="96.42" y1="461.4" x2="96.42" y2="466.2" stroke="#000" stroke-width="1.6" stroke-linecap="butt"/>
<line x1="109.49" y1="461.4" x2="109.49" y2="466.2" stroke="#000" stroke-width="1.6" stroke-linecap="butt"/>
<line x1="118.76" y1="461.4" x2="118.76" y2="466.2" stroke="#000" stroke-width="1.6" stroke-linecap="butt"/>
<line x1="125.96" y1="461.4" x2="125.96" y2="466.2" stroke="#000" stroke-width="1.6" stroke-linecap="butt"/>
<line x1="131.83" y1="461.4" x2="131.83" y2="466.2" stroke="#000" stroke-width="1.6" stroke-linecap="butt"/>
<line x1="136.8" y1="461.4" x2="136.8" y2="466.2" stroke="#000" stroke-width="1.6" stroke-linecap="butt"/>
<line x1="141.11" y1="461.4" x2="141.11" y2="466.2" stroke="#000" stroke-width="1.6" stroke-linecap="butt"/>
<line x1="144.9" y1="461.4" x2="144.9" y2="466.2" stroke="#000" stroke-width="1.6" stroke-linecap="butt"/>
<line x1="148.3" y1="461.4" x2="148.3" y2="471.6" stroke="#000" stroke-width="1.9" stroke-linecap="butt"/>
<text transform="matrix(0.7953 0.0000 0.0000 0.9508 134.8071 492.7246)" font-family='"Liberation Sans", Arial, Helvetica, sans-serif' font-size="21" fill="#000" stroke="#000" stroke-width="0.45" stroke-linejoin="round">10</text>
<text transform="matrix(0.7857 0.0000 0.0000 0.9619 155.2071 485.8595)" font-family='"Liberation Sans", Arial, Helvetica, sans-serif' font-size="14.5" fill="#000" stroke="#000" stroke-width="0.35" stroke-linejoin="round">2</text>
<line x1="170.64" y1="461.4" x2="170.64" y2="466.2" stroke="#000" stroke-width="1.6" stroke-linecap="butt"/>
<line x1="183.71" y1="461.4" x2="183.71" y2="466.2" stroke="#000" stroke-width="1.6" stroke-linecap="butt"/>
<line x1="192.98" y1="461.4" x2="192.98" y2="466.2" stroke="#000" stroke-width="1.6" stroke-linecap="butt"/>
<line x1="200.18" y1="461.4" x2="200.18" y2="466.2" stroke="#000" stroke-width="1.6" stroke-linecap="butt"/>
<line x1="206.05" y1="461.4" x2="206.05" y2="466.2" stroke="#000" stroke-width="1.6" stroke-linecap="butt"/>
<line x1="211.02" y1="461.4" x2="211.02" y2="466.2" stroke="#000" stroke-width="1.6" stroke-linecap="butt"/>
<line x1="215.33" y1="461.4" x2="215.33" y2="466.2" stroke="#000" stroke-width="1.6" stroke-linecap="butt"/>
<line x1="219.12" y1="461.4" x2="219.12" y2="466.2" stroke="#000" stroke-width="1.6" stroke-linecap="butt"/>
<line x1="222.52" y1="461.4" x2="222.52" y2="471.6" stroke="#000" stroke-width="1.9" stroke-linecap="butt"/>
<text transform="matrix(0.7953 0.0000 0.0000 0.9508 209.0271 492.7246)" font-family='"Liberation Sans", Arial, Helvetica, sans-serif' font-size="21" fill="#000" stroke="#000" stroke-width="0.45" stroke-linejoin="round">10</text>
<text transform="matrix(0.7857 0.0000 0.0000 0.9619 229.4271 485.8595)" font-family='"Liberation Sans", Arial, Helvetica, sans-serif' font-size="14.5" fill="#000" stroke="#000" stroke-width="0.35" stroke-linejoin="round">3</text>
<line x1="244.86" y1="461.4" x2="244.86" y2="466.2" stroke="#000" stroke-width="1.6" stroke-linecap="butt"/>
<line x1="257.93" y1="461.4" x2="257.93" y2="466.2" stroke="#000" stroke-width="1.6" stroke-linecap="butt"/>
<line x1="267.2" y1="461.4" x2="267.2" y2="466.2" stroke="#000" stroke-width="1.6" stroke-linecap="butt"/>
<line x1="274.4" y1="461.4" x2="274.4" y2="466.2" stroke="#000" stroke-width="1.6" stroke-linecap="butt"/>
<line x1="280.27" y1="461.4" x2="280.27" y2="466.2" stroke="#000" stroke-width="1.6" stroke-linecap="butt"/>
<line x1="285.24" y1="461.4" x2="285.24" y2="466.2" stroke="#000" stroke-width="1.6" stroke-linecap="butt"/>
<line x1="289.55" y1="461.4" x2="289.55" y2="466.2" stroke="#000" stroke-width="1.6" stroke-linecap="butt"/>
<line x1="293.34" y1="461.4" x2="293.34" y2="466.2" stroke="#000" stroke-width="1.6" stroke-linecap="butt"/>
<line x1="296.74" y1="461.4" x2="296.74" y2="471.6" stroke="#000" stroke-width="1.9" stroke-linecap="butt"/>
<text transform="matrix(0.7953 0.0000 0.0000 0.9508 283.2471 492.7246)" font-family='"Liberation Sans", Arial, Helvetica, sans-serif' font-size="21" fill="#000" stroke="#000" stroke-width="0.45" stroke-linejoin="round">10</text>
<text transform="matrix(0.7333 0.0000 0.0000 0.9854 303.8567 485.8537)" font-family='"Liberation Sans", Arial, Helvetica, sans-serif' font-size="14.5" fill="#000" stroke="#000" stroke-width="0.35" stroke-linejoin="round">4</text>
<line x1="319.08" y1="461.4" x2="319.08" y2="466.2" stroke="#000" stroke-width="1.6" stroke-linecap="butt"/>
<line x1="332.15" y1="461.4" x2="332.15" y2="466.2" stroke="#000" stroke-width="1.6" stroke-linecap="butt"/>
<line x1="341.42" y1="461.4" x2="341.42" y2="466.2" stroke="#000" stroke-width="1.6" stroke-linecap="butt"/>
<line x1="348.62" y1="461.4" x2="348.62" y2="466.2" stroke="#000" stroke-width="1.6" stroke-linecap="butt"/>
<line x1="354.49" y1="461.4" x2="354.49" y2="466.2" stroke="#000" stroke-width="1.6" stroke-linecap="butt"/>
<line x1="359.46" y1="461.4" x2="359.46" y2="466.2" stroke="#000" stroke-width="1.6" stroke-linecap="butt"/>
<line x1="363.77" y1="461.4" x2="363.77" y2="466.2" stroke="#000" stroke-width="1.6" stroke-linecap="butt"/>
<line x1="367.56" y1="461.4" x2="367.56" y2="466.2" stroke="#000" stroke-width="1.6" stroke-linecap="butt"/>
<line x1="370.96" y1="461.4" x2="370.96" y2="471.6" stroke="#000" stroke-width="1.9" stroke-linecap="butt"/>
<text transform="matrix(0.7953 0.0000 0.0000 0.9508 357.4671 492.7246)" font-family='"Liberation Sans", Arial, Helvetica, sans-serif' font-size="21" fill="#000" stroke="#000" stroke-width="0.45" stroke-linejoin="round">10</text>
<text transform="matrix(0.7857 0.0000 0.0000 0.9854 377.8671 485.8537)" font-family='"Liberation Sans", Arial, Helvetica, sans-serif' font-size="14.5" fill="#000" stroke="#000" stroke-width="0.35" stroke-linejoin="round">5</text>
<line x1="393.3" y1="461.4" x2="393.3" y2="466.2" stroke="#000" stroke-width="1.6" stroke-linecap="butt"/>
<line x1="406.37" y1="461.4" x2="406.37" y2="466.2" stroke="#000" stroke-width="1.6" stroke-linecap="butt"/>
<line x1="415.64" y1="461.4" x2="415.64" y2="466.2" stroke="#000" stroke-width="1.6" stroke-linecap="butt"/>
<line x1="422.84" y1="461.4" x2="422.84" y2="466.2" stroke="#000" stroke-width="1.6" stroke-linecap="butt"/>
<line x1="428.71" y1="461.4" x2="428.71" y2="466.2" stroke="#000" stroke-width="1.6" stroke-linecap="butt"/>
<line x1="433.68" y1="461.4" x2="433.68" y2="466.2" stroke="#000" stroke-width="1.6" stroke-linecap="butt"/>
<line x1="437.99" y1="461.4" x2="437.99" y2="466.2" stroke="#000" stroke-width="1.6" stroke-linecap="butt"/>
<line x1="441.78" y1="461.4" x2="441.78" y2="466.2" stroke="#000" stroke-width="1.6" stroke-linecap="butt"/>
<line x1="445.18" y1="461.4" x2="445.18" y2="471.6" stroke="#000" stroke-width="1.9" stroke-linecap="butt"/>
<text transform="matrix(0.7953 0.0000 0.0000 0.9508 431.6871 492.7246)" font-family='"Liberation Sans", Arial, Helvetica, sans-serif' font-size="21" fill="#000" stroke="#000" stroke-width="0.45" stroke-linejoin="round">10</text>
<text transform="matrix(0.7857 0.0000 0.0000 0.9619 452.0871 485.8595)" font-family='"Liberation Sans", Arial, Helvetica, sans-serif' font-size="14.5" fill="#000" stroke="#000" stroke-width="0.35" stroke-linejoin="round">6</text>
<line x1="467.52" y1="461.4" x2="467.52" y2="466.2" stroke="#000" stroke-width="1.6" stroke-linecap="butt"/>
<line x1="480.59" y1="461.4" x2="480.59" y2="466.2" stroke="#000" stroke-width="1.6" stroke-linecap="butt"/>
<line x1="489.86" y1="461.4" x2="489.86" y2="466.2" stroke="#000" stroke-width="1.6" stroke-linecap="butt"/>
<line x1="497.06" y1="461.4" x2="497.06" y2="466.2" stroke="#000" stroke-width="1.6" stroke-linecap="butt"/>
<line x1="502.93" y1="461.4" x2="502.93" y2="466.2" stroke="#000" stroke-width="1.6" stroke-linecap="butt"/>
<line x1="507.9" y1="461.4" x2="507.9" y2="466.2" stroke="#000" stroke-width="1.6" stroke-linecap="butt"/>
<line x1="512.21" y1="461.4" x2="512.21" y2="466.2" stroke="#000" stroke-width="1.6" stroke-linecap="butt"/>
<line x1="516" y1="461.4" x2="516" y2="466.2" stroke="#000" stroke-width="1.6" stroke-linecap="butt"/>
<line x1="519.4" y1="461.4" x2="519.4" y2="471.6" stroke="#000" stroke-width="1.9" stroke-linecap="butt"/>
<text transform="matrix(0.7953 0.0000 0.0000 0.9508 505.9071 492.7246)" font-family='"Liberation Sans", Arial, Helvetica, sans-serif' font-size="21" fill="#000" stroke="#000" stroke-width="0.45" stroke-linejoin="round">10</text>
<text transform="matrix(0.7857 0.0000 0.0000 0.9854 526.3071 485.8537)" font-family='"Liberation Sans", Arial, Helvetica, sans-serif' font-size="14.5" fill="#000" stroke="#000" stroke-width="0.35" stroke-linejoin="round">7</text>
<text transform="matrix(0.8432 0.0000 0.0000 0.9259 108.5243 69.3056)" font-family='"Liberation Sans", Arial, Helvetica, sans-serif' font-size="27" fill="#000" stroke="#000" stroke-width="1.15" stroke-linejoin="round">MES-OV</text>
<text transform="matrix(0.9844 0.0000 0.0000 0.9550 424.0156 65.6838)" font-family='"Liberation Sans", Arial, Helvetica, sans-serif' font-size="27" fill="#cc00ff" stroke="#cc00ff" stroke-width="0.9" stroke-linejoin="round">CD117</text>
<text transform="matrix(0.9377 0.0000 0.0000 0.9500 424.1246 96.8000)" font-family='"Liberation Sans", Arial, Helvetica, sans-serif' font-size="27" fill="#808080" stroke="#808080" stroke-width="0.9" stroke-linejoin="round">Isotype</text>
<line x1="330.5" y1="301.6" x2="447.5" y2="301.6" stroke="#000" stroke-width="1.5" stroke-linecap="butt"/>
<line x1="330.5" y1="292.5" x2="330.5" y2="310.5" stroke="#000" stroke-width="1.5" stroke-linecap="butt"/>
<line x1="447.5" y1="292.5" x2="447.5" y2="310.5" stroke="#000" stroke-width="1.5" stroke-linecap="butt"/>
<text transform="matrix(0.9952 0.0000 0.0000 0.9333 371.0072 293.2000)" font-family='"Liberation Sans", Arial, Helvetica, sans-serif' font-size="27" fill="#000" stroke="#000" stroke-width="1.25" stroke-linejoin="round">12%</text>
<text transform="matrix(1.0345 0.0000 0.0000 1.0366 282.4138 528.7500)" font-family='"Liberation Sans", Arial, Helvetica, sans-serif' font-size="30" fill="#000">PE</text>
<path d="M573.2,31.1L536.3,31.1L536.3,103.65L573.2,103.65" fill="none" stroke="#cbcbcb" stroke-width="1.5"/>
<rect x="540.7" y="35.4" width="28.8" height="28.65" fill="#fdebfe" stroke="#ee00ee" stroke-width="2.8"/>
<rect x="540.2" y="70.3" width="29.8" height="29.6" fill="#c0bfc3" stroke="#38383a" stroke-width="1.8"/>
<text transform="matrix(0.0000 -0.8378 1.1039 0.0000 23.1981 278.6284)" font-family='"Liberation Sans", Arial, Helvetica, sans-serif' font-size="27" fill="#000" stroke="#000" stroke-width="0.3" stroke-linejoin="round">%Max</text>
<g clip-path="url(#cpA2)"><path d="M745,460.8L756,460.3L763.75,459.5L764.83,458.67L765.93,457.94L767.01,456.84L767.85,455.54L769.01,453.84L770.08,452.42L770.98,451.1L771.97,449.48L772.97,447.87L773.79,446.25L774.55,444.9L775.24,443.95L776.34,442.68L776.69,440.98L776.98,438.96L777.77,437.6L778.06,436.22L778.55,434.58L778.71,432.84L779.42,431.31L780,429.92L780.36,428.23L780.76,425.86L781.14,424.85L781.53,423.83L781.94,421.57L782.1,420.76L782.24,419.14L782.3,416.86L782.72,415.85L783.04,413.44L783.41,412.86L783.22,411.06L783.76,409.41L783.46,408.51L783.88,405.87L784.09,404.7L784.52,404.19L784.62,401.24L785.09,400.2L785.31,399.37L785.73,396.54L785.61,395.81L786.09,393.9L785.98,392.06L786.04,391.1L786.66,389.89L786.43,387.77L786.44,385.43L786.87,382.99L787.2,382.74L787.23,381.24L787.47,379.72L787.61,377.68L788.03,376.39L788.22,375.13L788.71,374.48L788.37,371.49L788.89,369.62L788.92,369.13L788.97,365.7L789.01,364.1L789.71,363.77L789.6,361.12L789.33,360.08L789.54,358.96L789.65,356.72L790.08,355.79L790.3,353.66L790.29,352.18L790.53,350.48L790.44,349.36L790.63,348.1L790.68,345.97L790.87,344.6L791.29,342.88L790.82,341.11L791.29,339.01L791.59,339.02L791.66,336.11L791.6,334.41L791.32,333.23L792.38,331.22L792.39,329.73L792.04,328.39L792.43,325.75L792.47,324.87L792.62,323.77L792.64,321.69L793.04,320.19L792.7,318.61L792.94,317.6L793.28,314.75L793.52,314.41L793.12,312.43L793.8,310.92L793.94,309.57L794.27,308.03L794.18,306.31L794.11,305.69L794.06,302.49L794.34,301.43L794.04,300.19L794.1,297.6L794.23,296.95L794.65,294.6L794.8,293.06L794.97,291.03L795.21,290.07L795.14,288.23L795.32,286.58L795.37,285.79L795.56,283.23L795.01,281.4L795.38,280.25L795.26,279.28L795.98,276.99L795.4,275.47L795.64,274.03L795.8,272.24L795.93,270.48L795.52,268.33L795.74,267.44L796.12,265.77L795.91,264.02L796.22,262.93L795.9,261.36L796,259.53L795.81,258.13L795.66,256.95L796.62,255.21L796.16,252.74L796.47,251.21L796.61,249.99L796.53,249.16L796.5,246.38L796.83,245.27L796.48,243.57L796.37,242.21L796.65,241.44L797.03,239.21L796.65,237.58L797.13,235.57L797.43,234.26L797.11,232.25L797.03,231.14L797.3,229.11L797.56,227.5L797.34,226.64L797.4,224.31L797.95,222.48L797.87,220.44L797.65,219.93L798.24,217.81L797.39,215.52L798.21,215L798.33,213.83L797.83,212.53L798.25,210.46L798.25,208.87L798.34,206.41L798.65,205.27L798.45,203.37L798.51,202.3L798.64,200.54L798.19,199.04L798.73,197.77L798.86,196.43L798.69,194.61L798.54,193L798.8,190.24L798.86,189.4L799.16,188.51L798.74,186.04L799.17,185.22L799.33,183.04L799.53,181.74L799.49,179.97L799.48,178.12L799.7,176.81L799.87,175.35L799.84,174.14L800.27,172.06L800.19,171.37L800.45,168.96L800.45,168.19L800.73,165.47L800.66,164.9L800.34,162.22L800.81,160.94L800.92,160.14L801.06,158.29L801.15,157.04L801.25,154.2L801.31,153.02L801.4,151.38L801.31,149.62L801.68,147.83L801.62,147.24L802.01,145.29L802.43,144.05L802.06,141.05L802.47,140.69L802.38,138.53L802.65,137.68L802.73,135.79L802.86,134.08L802.62,132.65L803.18,130.92L803.34,128.89L803.63,128.5L803.37,126.32L803.61,124.75L803.83,122.63L803.92,121.45L804.09,119.35L803.89,118.17L804.19,116.7L804.83,115.4L804.8,112.95L805.01,110.78L804.91,110.05L805.82,108.78L805.97,105.9L805.78,104.75L806.15,103.3L806.73,102.36L807.1,99.47L807.75,98.9L808.02,96.37L808.55,96.36L809.5,95.12L810.28,92.16L811,95.03L811.54,96.58L811.65,98.11L811.54,99.44L812.38,100.58L812.59,102.74L812.67,103.7L813.19,105.2L813.19,107.83L813.61,108.39L813.7,109.94L814.07,111.7L814.4,113.02L814.27,115.2L814.78,116.47L814.55,118.77L814.41,119.13L815.22,121.47L814.74,123.51L815.24,125.12L815.43,125.74L815.13,127.53L815.54,130.26L815.87,130.58L815.96,132.63L816.12,133.71L816.32,135.3L816.35,136.31L816.33,138.74L816.82,142.12L816.77,142.45L816.97,143.33L816.7,145.84L817.21,146.81L817.67,148.19L817.93,149.43L817.29,151.92L817.65,153.61L817.89,154.07L818.26,156.34L817.54,157.92L817.85,159.93L818.36,161.03L818.02,162.96L818.22,164.58L818.66,166.06L818.45,166.81L818.83,169.68L819.02,170.07L818.82,170.96L818.92,173.28L818.79,175.73L818.93,177.63L819.28,178.56L819.09,180.16L819.3,181.67L819.33,182.49L819.65,184.92L819.79,186.19L820.12,188.14L819.92,189.06L819.85,191.47L819.84,192.88L820.47,194.41L820.21,197.1L820.25,198.22L820.59,199.87L820.62,201.23L820.41,202.83L820.91,204.85L820.85,206.11L820.51,207.4L821.24,209.47L821.27,211L821.59,211.99L821.32,213.61L821.49,215.66L821.42,216.74L821.48,219.25L821.83,221.07L822.17,222.53L821.86,222.69L821.72,224.75L822,227.42L822.33,227.88L822.18,229.53L822.75,232.07L822.95,233.75L822.89,234.33L822.69,236.06L822.94,238.04L823.39,239.34L823.14,241.92L823.27,243L823.39,244.2L823.43,245.84L823.61,247.69L823.94,249.18L824.21,251.46L823.94,253.26L824.19,253.92L824.26,256.19L824.47,257.85L824.54,259.99L825.14,261.04L825.34,262.93L825.36,264.45L825.33,265.38L825.33,267.81L825.35,269.36L825.35,270.23L825.75,271.47L826.25,273.9L826.15,274.9L826.12,276.17L826.38,278.24L826.34,279.48L826.25,281.18L826.65,282.75L826.94,284.53L827.22,286.59L826.99,288.04L827.03,288.83L827.39,291.17L826.99,291.5L827.78,294.99L827.61,295.96L827.91,296.67L827.94,299.57L828.47,299.99L828.16,302.44L828.31,304.25L828.92,306.66L828.71,307.61L829.19,308.12L829.12,310.56L829.69,312.81L829.34,313.35L829.77,314.43L830.47,315.97L830.78,319.26L830.68,320.96L830.66,322.38L830.83,323.35L831.36,323.91L831.31,326.93L831.6,328.71L832.34,330.73L831.89,330.42L832.56,333.41L832.4,333.63L833.16,336.32L833.11,337.51L833.85,339.17L833.48,341.04L833.93,342.25L833.92,344.12L834.53,345.04L834.33,347.43L834.98,348.01L834.77,350.54L835.39,350.48L835.61,352.77L836.06,354.88L836.56,356.46L837.15,357.31L837.4,359.16L837.8,360.99L837.88,362.13L838.24,363.85L839.11,366.28L838.88,367.43L839.5,368.74L840,370L840.51,372.34L841.01,373.71L841.34,374.14L841.36,376.55L842.23,378.62L842.64,379.59L843.27,380.91L843.49,383.18L844.08,383.94L844.21,386.45L845.15,387.78L845.37,390.39L845.86,390.91L846.49,392.37L846.95,393.59L847.68,395.91L848.24,397.73L849.16,398.44L849.9,400.12L850.71,402.7L851.52,403.76L852.59,404.59L853.41,405.79L854.23,407.68L854.84,409.37L856.08,410.91L856.93,412.09L857.78,413.58L858.57,415.07L859.19,416.51L859.47,417.08L861.03,418.62L861.48,419.53L862.76,421.32L863.42,423.31L864.23,423.98L865.62,425.47L866.49,426.58L867.58,427.47L868.43,428.86L869.06,429.66L870.28,431.17L870.96,432.09L871.8,433.04L873.04,434.2L874.1,435.58L875.19,436.41L876.32,437.23L877.41,438.09L878.94,438.81L879.95,440.63L881.07,441.19L882.61,442.02L883.77,442.67L885.01,443.67L886.09,444.41L887.08,446.3L888.06,447.1L889.04,448.33L890.1,448.92L891.23,449.11L892.47,449.84L893.58,450.94L894.87,451.57L896.07,452.27L897.04,453.37L897.89,453.89L898.93,455.08L900.09,456.2L901.73,456.44L903.28,457.16L905.16,457.52L906.67,458.1L908.33,458.7L910,459.25L916,460L922.5,460.75L935,461L935,461.4L745,461.4Z" fill="#9e9da4" fill-opacity="0.66" stroke="none"/>
<path d="M745,460.8L756,460.3L763.75,459.5L764.83,458.67L765.93,457.94L767.01,456.84L767.85,455.54L769.01,453.84L770.08,452.42L770.98,451.1L771.97,449.48L772.97,447.87L773.79,446.25L774.55,444.9L775.24,443.95L776.34,442.68L776.69,440.98L776.98,438.96L777.77,437.6L778.06,436.22L778.55,434.58L778.71,432.84L779.42,431.31L780,429.92L780.36,428.23L780.76,425.86L781.14,424.85L781.53,423.83L781.94,421.57L782.1,420.76L782.24,419.14L782.3,416.86L782.72,415.85L783.04,413.44L783.41,412.86L783.22,411.06L783.76,409.41L783.46,408.51L783.88,405.87L784.09,404.7L784.52,404.19L784.62,401.24L785.09,400.2L785.31,399.37L785.73,396.54L785.61,395.81L786.09,393.9L785.98,392.06L786.04,391.1L786.66,389.89L786.43,387.77L786.44,385.43L786.87,382.99L787.2,382.74L787.23,381.24L787.47,379.72L787.61,377.68L788.03,376.39L788.22,375.13L788.71,374.48L788.37,371.49L788.89,369.62L788.92,369.13L788.97,365.7L789.01,364.1L789.71,363.77L789.6,361.12L789.33,360.08L789.54,358.96L789.65,356.72L790.08,355.79L790.3,353.66L790.29,352.18L790.53,350.48L790.44,349.36L790.63,348.1L790.68,345.97L790.87,344.6L791.29,342.88L790.82,341.11L791.29,339.01L791.59,339.02L791.66,336.11L791.6,334.41L791.32,333.23L792.38,331.22L792.39,329.73L792.04,328.39L792.43,325.75L792.47,324.87L792.62,323.77L792.64,321.69L793.04,320.19L792.7,318.61L792.94,317.6L793.28,314.75L793.52,314.41L793.12,312.43L793.8,310.92L793.94,309.57L794.27,308.03L794.18,306.31L794.11,305.69L794.06,302.49L794.34,301.43L794.04,300.19L794.1,297.6L794.23,296.95L794.65,294.6L794.8,293.06L794.97,291.03L795.21,290.07L795.14,288.23L795.32,286.58L795.37,285.79L795.56,283.23L795.01,281.4L795.38,280.25L795.26,279.28L795.98,276.99L795.4,275.47L795.64,274.03L795.8,272.24L795.93,270.48L795.52,268.33L795.74,267.44L796.12,265.77L795.91,264.02L796.22,262.93L795.9,261.36L796,259.53L795.81,258.13L795.66,256.95L796.62,255.21L796.16,252.74L796.47,251.21L796.61,249.99L796.53,249.16L796.5,246.38L796.83,245.27L796.48,243.57L796.37,242.21L796.65,241.44L797.03,239.21L796.65,237.58L797.13,235.57L797.43,234.26L797.11,232.25L797.03,231.14L797.3,229.11L797.56,227.5L797.34,226.64L797.4,224.31L797.95,222.48L797.87,220.44L797.65,219.93L798.24,217.81L797.39,215.52L798.21,215L798.33,213.83L797.83,212.53L798.25,210.46L798.25,208.87L798.34,206.41L798.65,205.27L798.45,203.37L798.51,202.3L798.64,200.54L798.19,199.04L798.73,197.77L798.86,196.43L798.69,194.61L798.54,193L798.8,190.24L798.86,189.4L799.16,188.51L798.74,186.04L799.17,185.22L799.33,183.04L799.53,181.74L799.49,179.97L799.48,178.12L799.7,176.81L799.87,175.35L799.84,174.14L800.27,172.06L800.19,171.37L800.45,168.96L800.45,168.19L800.73,165.47L800.66,164.9L800.34,162.22L800.81,160.94L800.92,160.14L801.06,158.29L801.15,157.04L801.25,154.2L801.31,153.02L801.4,151.38L801.31,149.62L801.68,147.83L801.62,147.24L802.01,145.29L802.43,144.05L802.06,141.05L802.47,140.69L802.38,138.53L802.65,137.68L802.73,135.79L802.86,134.08L802.62,132.65L803.18,130.92L803.34,128.89L803.63,128.5L803.37,126.32L803.61,124.75L803.83,122.63L803.92,121.45L804.09,119.35L803.89,118.17L804.19,116.7L804.83,115.4L804.8,112.95L805.01,110.78L804.91,110.05L805.82,108.78L805.97,105.9L805.78,104.75L806.15,103.3L806.73,102.36L807.1,99.47L807.75,98.9L808.02,96.37L808.55,96.36L809.5,95.12L810.28,92.16L811,95.03L811.54,96.58L811.65,98.11L811.54,99.44L812.38,100.58L812.59,102.74L812.67,103.7L813.19,105.2L813.19,107.83L813.61,108.39L813.7,109.94L814.07,111.7L814.4,113.02L814.27,115.2L814.78,116.47L814.55,118.77L814.41,119.13L815.22,121.47L814.74,123.51L815.24,125.12L815.43,125.74L815.13,127.53L815.54,130.26L815.87,130.58L815.96,132.63L816.12,133.71L816.32,135.3L816.35,136.31L816.33,138.74L816.82,142.12L816.77,142.45L816.97,143.33L816.7,145.84L817.21,146.81L817.67,148.19L817.93,149.43L817.29,151.92L817.65,153.61L817.89,154.07L818.26,156.34L817.54,157.92L817.85,159.93L818.36,161.03L818.02,162.96L818.22,164.58L818.66,166.06L818.45,166.81L818.83,169.68L819.02,170.07L818.82,170.96L818.92,173.28L818.79,175.73L818.93,177.63L819.28,178.56L819.09,180.16L819.3,181.67L819.33,182.49L819.65,184.92L819.79,186.19L820.12,188.14L819.92,189.06L819.85,191.47L819.84,192.88L820.47,194.41L820.21,197.1L820.25,198.22L820.59,199.87L820.62,201.23L820.41,202.83L820.91,204.85L820.85,206.11L820.51,207.4L821.24,209.47L821.27,211L821.59,211.99L821.32,213.61L821.49,215.66L821.42,216.74L821.48,219.25L821.83,221.07L822.17,222.53L821.86,222.69L821.72,224.75L822,227.42L822.33,227.88L822.18,229.53L822.75,232.07L822.95,233.75L822.89,234.33L822.69,236.06L822.94,238.04L823.39,239.34L823.14,241.92L823.27,243L823.39,244.2L823.43,245.84L823.61,247.69L823.94,249.18L824.21,251.46L823.94,253.26L824.19,253.92L824.26,256.19L824.47,257.85L824.54,259.99L825.14,261.04L825.34,262.93L825.36,264.45L825.33,265.38L825.33,267.81L825.35,269.36L825.35,270.23L825.75,271.47L826.25,273.9L826.15,274.9L826.12,276.17L826.38,278.24L826.34,279.48L826.25,281.18L826.65,282.75L826.94,284.53L827.22,286.59L826.99,288.04L827.03,288.83L827.39,291.17L826.99,291.5L827.78,294.99L827.61,295.96L827.91,296.67L827.94,299.57L828.47,299.99L828.16,302.44L828.31,304.25L828.92,306.66L828.71,307.61L829.19,308.12L829.12,310.56L829.69,312.81L829.34,313.35L829.77,314.43L830.47,315.97L830.78,319.26L830.68,320.96L830.66,322.38L830.83,323.35L831.36,323.91L831.31,326.93L831.6,328.71L832.34,330.73L831.89,330.42L832.56,333.41L832.4,333.63L833.16,336.32L833.11,337.51L833.85,339.17L833.48,341.04L833.93,342.25L833.92,344.12L834.53,345.04L834.33,347.43L834.98,348.01L834.77,350.54L835.39,350.48L835.61,352.77L836.06,354.88L836.56,356.46L837.15,357.31L837.4,359.16L837.8,360.99L837.88,362.13L838.24,363.85L839.11,366.28L838.88,367.43L839.5,368.74L840,370L840.51,372.34L841.01,373.71L841.34,374.14L841.36,376.55L842.23,378.62L842.64,379.59L843.27,380.91L843.49,383.18L844.08,383.94L844.21,386.45L845.15,387.78L845.37,390.39L845.86,390.91L846.49,392.37L846.95,393.59L847.68,395.91L848.24,397.73L849.16,398.44L849.9,400.12L850.71,402.7L851.52,403.76L852.59,404.59L853.41,405.79L854.23,407.68L854.84,409.37L856.08,410.91L856.93,412.09L857.78,413.58L858.57,415.07L859.19,416.51L859.47,417.08L861.03,418.62L861.48,419.53L862.76,421.32L863.42,423.31L864.23,423.98L865.62,425.47L866.49,426.58L867.58,427.47L868.43,428.86L869.06,429.66L870.28,431.17L870.96,432.09L871.8,433.04L873.04,434.2L874.1,435.58L875.19,436.41L876.32,437.23L877.41,438.09L878.94,438.81L879.95,440.63L881.07,441.19L882.61,442.02L883.77,442.67L885.01,443.67L886.09,444.41L887.08,446.3L888.06,447.1L889.04,448.33L890.1,448.92L891.23,449.11L892.47,449.84L893.58,450.94L894.87,451.57L896.07,452.27L897.04,453.37L897.89,453.89L898.93,455.08L900.09,456.2L901.73,456.44L903.28,457.16L905.16,457.52L906.67,458.1L908.33,458.7L910,459.25L916,460L922.5,460.75L935,461" fill="none" stroke="#2e2e30" stroke-width="1.9" stroke-linejoin="round" stroke-linecap="butt"/></g>
<g clip-path="url(#cpA2)"><path d="M684.5,460.82L720,460.82L760,460.7L800,460.76L830,460.76L845,460.76L850,460.64L853,458.6L854.67,458.5L856.33,458.4L858.07,458.73L859,459.44L860,460.58L864,460.49L865.5,459.74L867,459L868.41,458.27L870.03,457.59L871.59,457.21L873.28,455.98L875,455.91L876.61,456.1L878.52,455.72L880.12,454.39L881.13,454.14L882.68,453.63L883.88,453.17L885.94,452.22L887.62,451.26L888.64,449.79L889.73,448.25L891.08,447.74L891.82,446.04L892.93,444.75L894.24,443.73L894.97,442.98L896.47,441.55L897.95,439.85L898.66,438.75L898.94,437.26L900.16,435.71L900.56,434.63L901.29,432.86L901.61,431L902.64,430.31L903.28,428.16L903.08,426.7L904.29,425.81L904.41,424.68L904.94,423.64L905.7,421.14L906.21,420.02L906.54,418.27L906.8,417.55L907.4,415.03L907.46,412.69L908.12,411.5L909.23,410.96L909.52,409.42L909.96,406.39L910.18,405.7L910.71,403.77L910.62,403.45L910.99,401.97L911.25,401.23L911.69,397.41L911.74,395.56L912.37,394.96L912.04,392.71L913.1,392.4L913.64,390L913.84,388.78L913.94,388.38L914.87,386.09L914.88,383.56L915.28,382.36L914.73,380.88L915.21,379.44L916.15,376.26L916.57,376.59L917.06,374.63L917.34,371.9L917.76,369.51L918.37,370.45L918.45,367.71L918.28,366.85L918.84,364.51L918.65,362.84L919.5,360.57L919.73,360.14L919.18,358.56L919.71,356.19L920.88,355.43L921.23,352.2L922.21,352.69L922.43,352.12L922.56,350.44L923.99,348.77L924.5,347.33L924.42,345.73L924.97,344.96L924.95,343.83L925.97,341.34L925.58,340.42L925.9,338.54L925.75,336.17L926.87,338.07L926.24,333.28L927.33,333.81L927.33,330.18L927.41,328.34L927.91,328.24L928.78,327.26L928.09,326.42L927.94,325.01L928.6,321.68L929.26,320.84L929.28,319.16L929.12,316.71L930.36,316.36L930.11,314.99L930.11,311.69L929.92,310.21L930.25,310.12L930.52,307.42L930.18,305.99L930.62,303.75L930.96,304.17L931.35,300.59L931.53,299.66L930.6,300.57L931.63,296L931.31,295L932.02,293.28L931.45,292.18L931.97,290.76L931.95,288.5L932.31,287.99L932.75,287.28L932.82,283.75L933.06,281.62L933.64,281.07L933.63,279.75L933.8,277.88L933.52,275.79L933.59,273.24L933.98,272.5L933.78,270.71L934,270.62L934.23,268.84L933.97,266.45L934.27,263.52L934.5,263.32L934.63,260.97L935.14,259.22L935.21,257.9L935.5,257.24L936.05,255L935.35,253.22L936.14,252.17L935.52,249.5L936.34,248.15L936.52,247.27L935.74,245.1L936.23,243.05L937.17,242.32L936.7,240.13L937.06,238.31L937.1,237.28L937.32,235.71L937.16,234.47L937.83,233.76L937.96,231.67L938.43,230.85L939.1,228.47L937.95,225.34L939.23,225.1L939.29,221.82L939.88,221.26L940.21,219.94L940.46,219.83L940.77,217.41L940.47,215.86L941.5,214.21L940.98,212.41L941.45,211.15L941.38,209.42L941.94,207.68L942.1,206.96L942.56,203.04L942.35,201.91L942.88,201.02L941.97,199.96L942.98,197.62L943.02,196.41L942.72,193.69L943.61,191.57L943.81,190.83L943.57,188.27L943.21,188.31L943.74,187.9L943.81,185.08L944.04,183.08L943.71,183.65L944.31,179.76L945.11,178.25L944.92,176.67L945.1,175.79L945.34,173.01L945.36,173.17L945.42,172.43L945.75,170.46L946.42,166.72L945.44,165.28L945.94,164.75L946.06,161.59L946.19,160.41L946.59,157.61L946.53,157.63L946.82,156.58L947.06,154.32L946.98,153.27L947.06,152.02L947.93,152L948.76,148.08L948.99,147.44L948.14,144.85L948.48,143.3L948.84,141.89L949.39,140.38L949.31,138.99L949.41,138.1L949.42,135.06L950.45,133.6L950.34,133.51L950.42,129.38L951.15,128.79L951.48,127.66L951.24,129.19L952.2,128.98L951.89,127.46L953.3,127.34L953.51,124.93L952.79,124.32L953.39,120.84L953.39,120.22L952.83,118.64L953.65,118.46L954.54,115.26L954.18,112.62L955.06,114.19L955.41,112.91L956.12,110.09L956.25,108.96L956.16,105.99L956.98,105.59L959.18,105.76L959.84,104.03L960.31,104.88L960.92,103.24L961.77,105.61L962.84,105.3L963.43,107.47L963.4,108.34L964.75,111.89L964.54,113.19L965.88,114.6L966.8,114.66L966.21,116.83L967.09,119.01L967.55,118.13L967.35,121.12L967.72,123.23L968.79,123.69L968.51,128L968.83,128.85L969.45,131.43L969.46,131.88L969.5,133.22L969.9,134.12L970.4,135.14L971.02,138.27L970.44,138.38L970.78,140.96L971.65,141.93L970.93,144.36L971.29,146.51L972.67,146.65L971.17,149.13L972.25,151.44L972.84,152.98L972.63,153.52L972.5,155.7L972.56,157.95L972.91,157.82L973.21,161.8L973.31,161.68L973.36,162.65L973.15,166.62L973.91,166.19L973.93,170.12L973.77,172.07L973.54,171.06L974.34,173.42L974.54,175.47L975.04,176.25L974.56,177.78L974.61,179.42L975.08,182.12L975.23,184.24L976.05,184.69L975.71,185.74L975.42,188.55L975.62,189.61L976.12,191.56L976.09,194.22L976.95,194.24L976.92,195.66L976.41,196.54L976.52,198.52L976.98,200.17L976.77,202.72L977.19,203.11L977.33,203.62L977.23,208.35L977.64,206.43L977.54,210.57L977.76,210.06L977.94,212.49L978.09,213.9L978.65,217.06L978.59,216.37L979.4,219.38L979.13,221.04L979.53,222.84L979.09,224.88L978.94,225.07L978.83,226.62L979.61,230.06L979.14,231.24L980.21,232.75L979.7,233.81L980.04,235.75L980.14,237.77L980.34,239.49L980.7,239.16L980.52,243.55L980.21,242.7L981.28,244.73L980.49,247.26L980.82,249.13L981.42,251.58L981.31,252.49L981.65,254.01L981.66,253.93L981.98,256.87L982.04,257.24L981.81,259.64L982.2,260.56L982.92,263.64L982.18,264.22L982.53,265.8L982.99,268.34L983.43,268.38L982.75,270.23L983.2,272.26L983.22,273.22L984.07,274.84L983.92,277.5L984.17,277.13L983.7,280.96L983.9,280.97L984.23,282.87L984.34,283.21L984.56,284.6L984.64,287.02L985.72,289.07L985.21,290.74L985.9,292.79L985.45,294.21L986.02,294.26L986.62,295.94L985.76,297.64L986.4,298.72L986.53,300.77L986.61,303.46L986.64,303.9L987.47,305.65L987.08,307.13L986.95,309.77L987.43,311.43L987.64,312.91L987.96,313.53L987.01,314.61L988.54,317.74L987.63,318.31L988.77,320.41L988.27,321.88L988.72,322.53L988.92,323.31L989.07,325.63L989.84,327.79L989.5,330.7L990.05,330.44L990.34,331.5L990.24,334.62L990.25,335.03L991.15,335.68L991.25,337.96L991.44,339.99L991.22,342.26L991.07,342.49L992.48,345.95L992.02,347.46L992.51,349.42L991.9,350.68L993.16,351.58L992.39,351.92L992.82,353.71L993.41,358.04L993.45,357.98L993.87,358.6L994.28,360.88L994.05,361.72L994.67,364.99L994.73,366.89L995.27,369.29L995.6,369.69L995.37,370.63L995.84,373.19L995.68,375.07L995.67,375.5L995.66,377.02L996.72,380.96L996.63,381.65L997.27,383.82L996.82,384.17L997.1,385.43L997.24,387.42L998.19,389.79L998.58,390.39L998.5,391.59L999.41,393.45L999.45,394.91L999.53,398.7L999.34,398.33L999.46,400.31L1000.41,400.44L1000.74,403.54L1001.23,405.23L1001.67,406.33L1001.91,406.9L1002.12,410.15L1002,411.08L1002.47,413.12L1003.05,413.77L1003.34,415.04L1003.52,417.66L1003.64,419.57L1004.38,420.41L1004.02,422.87L1004.7,422.8L1004.83,425.03L1005.26,425.96L1005.65,427.9L1006.54,428.82L1007.19,430.14L1008.03,432.05L1008.04,434.25L1008.59,435.09L1009.31,435.07L1010.32,437.53L1010.74,439.68L1011.31,440.44L1011.82,442.38L1012.82,443.42L1013.35,445.45L1013.89,447.12L1014.27,448.2L1015.03,450.18L1016,451.36L1016.7,453.42L1017.73,454.53L1018.61,456.5L1020.13,457.44L1021.17,458.48L1022.33,459.45L1023.5,460.43L1027.5,460.64L1035,460.82L1060,460.79L1090,460.82L1113,460.82L1113,461.4L684.5,461.4Z" fill="#00e800" fill-opacity="0.05" stroke="none"/>
<path d="M684.5,460.82L720,460.82L760,460.7L800,460.76L830,460.76L845,460.76L850,460.64L853,458.6L854.67,458.5L856.33,458.4L858.07,458.73L859,459.44L860,460.58L864,460.49L865.5,459.74L867,459L868.41,458.27L870.03,457.59L871.59,457.21L873.28,455.98L875,455.91L876.61,456.1L878.52,455.72L880.12,454.39L881.13,454.14L882.68,453.63L883.88,453.17L885.94,452.22L887.62,451.26L888.64,449.79L889.73,448.25L891.08,447.74L891.82,446.04L892.93,444.75L894.24,443.73L894.97,442.98L896.47,441.55L897.95,439.85L898.66,438.75L898.94,437.26L900.16,435.71L900.56,434.63L901.29,432.86L901.61,431L902.64,430.31L903.28,428.16L903.08,426.7L904.29,425.81L904.41,424.68L904.94,423.64L905.7,421.14L906.21,420.02L906.54,418.27L906.8,417.55L907.4,415.03L907.46,412.69L908.12,411.5L909.23,410.96L909.52,409.42L909.96,406.39L910.18,405.7L910.71,403.77L910.62,403.45L910.99,401.97L911.25,401.23L911.69,397.41L911.74,395.56L912.37,394.96L912.04,392.71L913.1,392.4L913.64,390L913.84,388.78L913.94,388.38L914.87,386.09L914.88,383.56L915.28,382.36L914.73,380.88L915.21,379.44L916.15,376.26L916.57,376.59L917.06,374.63L917.34,371.9L917.76,369.51L918.37,370.45L918.45,367.71L918.28,366.85L918.84,364.51L918.65,362.84L919.5,360.57L919.73,360.14L919.18,358.56L919.71,356.19L920.88,355.43L921.23,352.2L922.21,352.69L922.43,352.12L922.56,350.44L923.99,348.77L924.5,347.33L924.42,345.73L924.97,344.96L924.95,343.83L925.97,341.34L925.58,340.42L925.9,338.54L925.75,336.17L926.87,338.07L926.24,333.28L927.33,333.81L927.33,330.18L927.41,328.34L927.91,328.24L928.78,327.26L928.09,326.42L927.94,325.01L928.6,321.68L929.26,320.84L929.28,319.16L929.12,316.71L930.36,316.36L930.11,314.99L930.11,311.69L929.92,310.21L930.25,310.12L930.52,307.42L930.18,305.99L930.62,303.75L930.96,304.17L931.35,300.59L931.53,299.66L930.6,300.57L931.63,296L931.31,295L932.02,293.28L931.45,292.18L931.97,290.76L931.95,288.5L932.31,287.99L932.75,287.28L932.82,283.75L933.06,281.62L933.64,281.07L933.63,279.75L933.8,277.88L933.52,275.79L933.59,273.24L933.98,272.5L933.78,270.71L934,270.62L934.23,268.84L933.97,266.45L934.27,263.52L934.5,263.32L934.63,260.97L935.14,259.22L935.21,257.9L935.5,257.24L936.05,255L935.35,253.22L936.14,252.17L935.52,249.5L936.34,248.15L936.52,247.27L935.74,245.1L936.23,243.05L937.17,242.32L936.7,240.13L937.06,238.31L937.1,237.28L937.32,235.71L937.16,234.47L937.83,233.76L937.96,231.67L938.43,230.85L939.1,228.47L937.95,225.34L939.23,225.1L939.29,221.82L939.88,221.26L940.21,219.94L940.46,219.83L940.77,217.41L940.47,215.86L941.5,214.21L940.98,212.41L941.45,211.15L941.38,209.42L941.94,207.68L942.1,206.96L942.56,203.04L942.35,201.91L942.88,201.02L941.97,199.96L942.98,197.62L943.02,196.41L942.72,193.69L943.61,191.57L943.81,190.83L943.57,188.27L943.21,188.31L943.74,187.9L943.81,185.08L944.04,183.08L943.71,183.65L944.31,179.76L945.11,178.25L944.92,176.67L945.1,175.79L945.34,173.01L945.36,173.17L945.42,172.43L945.75,170.46L946.42,166.72L945.44,165.28L945.94,164.75L946.06,161.59L946.19,160.41L946.59,157.61L946.53,157.63L946.82,156.58L947.06,154.32L946.98,153.27L947.06,152.02L947.93,152L948.76,148.08L948.99,147.44L948.14,144.85L948.48,143.3L948.84,141.89L949.39,140.38L949.31,138.99L949.41,138.1L949.42,135.06L950.45,133.6L950.34,133.51L950.42,129.38L951.15,128.79L951.48,127.66L951.24,129.19L952.2,128.98L951.89,127.46L953.3,127.34L953.51,124.93L952.79,124.32L953.39,120.84L953.39,120.22L952.83,118.64L953.65,118.46L954.54,115.26L954.18,112.62L955.06,114.19L955.41,112.91L956.12,110.09L956.25,108.96L956.16,105.99L956.98,105.59L959.18,105.76L959.84,104.03L960.31,104.88L960.92,103.24L961.77,105.61L962.84,105.3L963.43,107.47L963.4,108.34L964.75,111.89L964.54,113.19L965.88,114.6L966.8,114.66L966.21,116.83L967.09,119.01L967.55,118.13L967.35,121.12L967.72,123.23L968.79,123.69L968.51,128L968.83,128.85L969.45,131.43L969.46,131.88L969.5,133.22L969.9,134.12L970.4,135.14L971.02,138.27L970.44,138.38L970.78,140.96L971.65,141.93L970.93,144.36L971.29,146.51L972.67,146.65L971.17,149.13L972.25,151.44L972.84,152.98L972.63,153.52L972.5,155.7L972.56,157.95L972.91,157.82L973.21,161.8L973.31,161.68L973.36,162.65L973.15,166.62L973.91,166.19L973.93,170.12L973.77,172.07L973.54,171.06L974.34,173.42L974.54,175.47L975.04,176.25L974.56,177.78L974.61,179.42L975.08,182.12L975.23,184.24L976.05,184.69L975.71,185.74L975.42,188.55L975.62,189.61L976.12,191.56L976.09,194.22L976.95,194.24L976.92,195.66L976.41,196.54L976.52,198.52L976.98,200.17L976.77,202.72L977.19,203.11L977.33,203.62L977.23,208.35L977.64,206.43L977.54,210.57L977.76,210.06L977.94,212.49L978.09,213.9L978.65,217.06L978.59,216.37L979.4,219.38L979.13,221.04L979.53,222.84L979.09,224.88L978.94,225.07L978.83,226.62L979.61,230.06L979.14,231.24L980.21,232.75L979.7,233.81L980.04,235.75L980.14,237.77L980.34,239.49L980.7,239.16L980.52,243.55L980.21,242.7L981.28,244.73L980.49,247.26L980.82,249.13L981.42,251.58L981.31,252.49L981.65,254.01L981.66,253.93L981.98,256.87L982.04,257.24L981.81,259.64L982.2,260.56L982.92,263.64L982.18,264.22L982.53,265.8L982.99,268.34L983.43,268.38L982.75,270.23L983.2,272.26L983.22,273.22L984.07,274.84L983.92,277.5L984.17,277.13L983.7,280.96L983.9,280.97L984.23,282.87L984.34,283.21L984.56,284.6L984.64,287.02L985.72,289.07L985.21,290.74L985.9,292.79L985.45,294.21L986.02,294.26L986.62,295.94L985.76,297.64L986.4,298.72L986.53,300.77L986.61,303.46L986.64,303.9L987.47,305.65L987.08,307.13L986.95,309.77L987.43,311.43L987.64,312.91L987.96,313.53L987.01,314.61L988.54,317.74L987.63,318.31L988.77,320.41L988.27,321.88L988.72,322.53L988.92,323.31L989.07,325.63L989.84,327.79L989.5,330.7L990.05,330.44L990.34,331.5L990.24,334.62L990.25,335.03L991.15,335.68L991.25,337.96L991.44,339.99L991.22,342.26L991.07,342.49L992.48,345.95L992.02,347.46L992.51,349.42L991.9,350.68L993.16,351.58L992.39,351.92L992.82,353.71L993.41,358.04L993.45,357.98L993.87,358.6L994.28,360.88L994.05,361.72L994.67,364.99L994.73,366.89L995.27,369.29L995.6,369.69L995.37,370.63L995.84,373.19L995.68,375.07L995.67,375.5L995.66,377.02L996.72,380.96L996.63,381.65L997.27,383.82L996.82,384.17L997.1,385.43L997.24,387.42L998.19,389.79L998.58,390.39L998.5,391.59L999.41,393.45L999.45,394.91L999.53,398.7L999.34,398.33L999.46,400.31L1000.41,400.44L1000.74,403.54L1001.23,405.23L1001.67,406.33L1001.91,406.9L1002.12,410.15L1002,411.08L1002.47,413.12L1003.05,413.77L1003.34,415.04L1003.52,417.66L1003.64,419.57L1004.38,420.41L1004.02,422.87L1004.7,422.8L1004.83,425.03L1005.26,425.96L1005.65,427.9L1006.54,428.82L1007.19,430.14L1008.03,432.05L1008.04,434.25L1008.59,435.09L1009.31,435.07L1010.32,437.53L1010.74,439.68L1011.31,440.44L1011.82,442.38L1012.82,443.42L1013.35,445.45L1013.89,447.12L1014.27,448.2L1015.03,450.18L1016,451.36L1016.7,453.42L1017.73,454.53L1018.61,456.5L1020.13,457.44L1021.17,458.48L1022.33,459.45L1023.5,460.43L1027.5,460.64L1035,460.82L1060,460.79L1090,460.82L1113,460.82" fill="none" stroke="#00e800" stroke-width="2.6" stroke-linejoin="round" stroke-linecap="butt"/></g>
<path d="M684.6,33.3L1113.25,33.3L1113.25,461.4L684.6,461.4Z" fill="none" stroke="#000" stroke-width="1.9"/>
<line x1="674.4" y1="461.4" x2="684.6" y2="461.4" stroke="#000" stroke-width="1.85" stroke-linecap="butt"/>
<text transform="matrix(0.8571 0.0000 0.0000 0.9639 661.2714 468.1180)" font-family='"Liberation Sans", Arial, Helvetica, sans-serif' font-size="21" fill="#000" stroke="#000" stroke-width="0.45" stroke-linejoin="round">0</text>
<line x1="679.4" y1="418.59" x2="684.6" y2="418.59" stroke="#000" stroke-width="1.6" stroke-linecap="butt"/>
<line x1="674.4" y1="375.78" x2="684.6" y2="375.78" stroke="#000" stroke-width="1.85" stroke-linecap="butt"/>
<text transform="matrix(0.8727 0.0000 0.0000 0.9639 650.8455 382.4980)" font-family='"Liberation Sans", Arial, Helvetica, sans-serif' font-size="21" fill="#000" stroke="#000" stroke-width="0.45" stroke-linejoin="round">20</text>
<line x1="679.4" y1="332.97" x2="684.6" y2="332.97" stroke="#000" stroke-width="1.6" stroke-linecap="butt"/>
<line x1="674.4" y1="290.16" x2="684.6" y2="290.16" stroke="#000" stroke-width="1.85" stroke-linecap="butt"/>
<text transform="matrix(0.8533 0.0000 0.0000 0.9639 651.2867 296.8780)" font-family='"Liberation Sans", Arial, Helvetica, sans-serif' font-size="21" fill="#000" stroke="#000" stroke-width="0.45" stroke-linejoin="round">40</text>
<line x1="679.4" y1="247.35" x2="684.6" y2="247.35" stroke="#000" stroke-width="1.6" stroke-linecap="butt"/>
<line x1="674.4" y1="204.54" x2="684.6" y2="204.54" stroke="#000" stroke-width="1.85" stroke-linecap="butt"/>
<text transform="matrix(0.8727 0.0000 0.0000 0.9639 650.8455 211.2580)" font-family='"Liberation Sans", Arial, Helvetica, sans-serif' font-size="21" fill="#000" stroke="#000" stroke-width="0.45" stroke-linejoin="round">60</text>
<line x1="679.4" y1="161.73" x2="684.6" y2="161.73" stroke="#000" stroke-width="1.6" stroke-linecap="butt"/>
<line x1="674.4" y1="118.92" x2="684.6" y2="118.92" stroke="#000" stroke-width="1.85" stroke-linecap="butt"/>
<text transform="matrix(0.8727 0.0000 0.0000 0.9639 650.8455 125.6380)" font-family='"Liberation Sans", Arial, Helvetica, sans-serif' font-size="21" fill="#000" stroke="#000" stroke-width="0.45" stroke-linejoin="round">80</text>
<line x1="679.4" y1="76.11" x2="684.6" y2="76.11" stroke="#000" stroke-width="1.6" stroke-linecap="butt"/>
<line x1="674.4" y1="33.3" x2="684.6" y2="33.3" stroke="#000" stroke-width="1.85" stroke-linecap="butt"/>
<text transform="matrix(0.8576 0.0000 0.0000 0.9639 641.1136 40.0180)" font-family='"Liberation Sans", Arial, Helvetica, sans-serif' font-size="21" fill="#000" stroke="#000" stroke-width="0.45" stroke-linejoin="round">100</text>
<line x1="692.4" y1="461.4" x2="692.4" y2="466.2" stroke="#000" stroke-width="1.6" stroke-linecap="butt"/>
<line x1="699.3" y1="461.4" x2="699.3" y2="466.2" stroke="#000" stroke-width="1.6" stroke-linecap="butt"/>
<line x1="704.94" y1="461.4" x2="704.94" y2="466.2" stroke="#000" stroke-width="1.6" stroke-linecap="butt"/>
<line x1="709.71" y1="461.4" x2="709.71" y2="466.2" stroke="#000" stroke-width="1.6" stroke-linecap="butt"/>
<line x1="713.85" y1="461.4" x2="713.85" y2="466.2" stroke="#000" stroke-width="1.6" stroke-linecap="butt"/>
<line x1="717.49" y1="461.4" x2="717.49" y2="466.2" stroke="#000" stroke-width="1.6" stroke-linecap="butt"/>
<line x1="720.75" y1="461.4" x2="720.75" y2="471.6" stroke="#000" stroke-width="1.9" stroke-linecap="butt"/>
<text transform="matrix(0.7953 0.0000 0.0000 0.9508 707.2571 492.7246)" font-family='"Liberation Sans", Arial, Helvetica, sans-serif' font-size="21" fill="#000" stroke="#000" stroke-width="0.45" stroke-linejoin="round">10</text>
<text transform="matrix(0.7857 0.0000 0.0000 0.9619 727.6571 485.8595)" font-family='"Liberation Sans", Arial, Helvetica, sans-serif' font-size="14.5" fill="#000" stroke="#000" stroke-width="0.35" stroke-linejoin="round">2</text>
<line x1="742.2" y1="461.4" x2="742.2" y2="466.2" stroke="#000" stroke-width="1.6" stroke-linecap="butt"/>
<line x1="754.74" y1="461.4" x2="754.74" y2="466.2" stroke="#000" stroke-width="1.6" stroke-linecap="butt"/>
<line x1="763.65" y1="461.4" x2="763.65" y2="466.2" stroke="#000" stroke-width="1.6" stroke-linecap="butt"/>
<line x1="770.55" y1="461.4" x2="770.55" y2="466.2" stroke="#000" stroke-width="1.6" stroke-linecap="butt"/>
<line x1="776.19" y1="461.4" x2="776.19" y2="466.2" stroke="#000" stroke-width="1.6" stroke-linecap="butt"/>
<line x1="780.96" y1="461.4" x2="780.96" y2="466.2" stroke="#000" stroke-width="1.6" stroke-linecap="butt"/>
<line x1="785.1" y1="461.4" x2="785.1" y2="466.2" stroke="#000" stroke-width="1.6" stroke-linecap="butt"/>
<line x1="788.74" y1="461.4" x2="788.74" y2="466.2" stroke="#000" stroke-width="1.6" stroke-linecap="butt"/>
<line x1="792" y1="461.4" x2="792" y2="471.6" stroke="#000" stroke-width="1.9" stroke-linecap="butt"/>
<text transform="matrix(0.7953 0.0000 0.0000 0.9508 778.5071 492.7246)" font-family='"Liberation Sans", Arial, Helvetica, sans-serif' font-size="21" fill="#000" stroke="#000" stroke-width="0.45" stroke-linejoin="round">10</text>
<text transform="matrix(0.7857 0.0000 0.0000 0.9619 798.9071 485.8595)" font-family='"Liberation Sans", Arial, Helvetica, sans-serif' font-size="14.5" fill="#000" stroke="#000" stroke-width="0.35" stroke-linejoin="round">3</text>
<line x1="813.45" y1="461.4" x2="813.45" y2="466.2" stroke="#000" stroke-width="1.6" stroke-linecap="butt"/>
<line x1="825.99" y1="461.4" x2="825.99" y2="466.2" stroke="#000" stroke-width="1.6" stroke-linecap="butt"/>
<line x1="834.9" y1="461.4" x2="834.9" y2="466.2" stroke="#000" stroke-width="1.6" stroke-linecap="butt"/>
<line x1="841.8" y1="461.4" x2="841.8" y2="466.2" stroke="#000" stroke-width="1.6" stroke-linecap="butt"/>
<line x1="847.44" y1="461.4" x2="847.44" y2="466.2" stroke="#000" stroke-width="1.6" stroke-linecap="butt"/>
<line x1="852.21" y1="461.4" x2="852.21" y2="466.2" stroke="#000" stroke-width="1.6" stroke-linecap="butt"/>
<line x1="856.35" y1="461.4" x2="856.35" y2="466.2" stroke="#000" stroke-width="1.6" stroke-linecap="butt"/>
<line x1="859.99" y1="461.4" x2="859.99" y2="466.2" stroke="#000" stroke-width="1.6" stroke-linecap="butt"/>
<line x1="863.25" y1="461.4" x2="863.25" y2="471.6" stroke="#000" stroke-width="1.9" stroke-linecap="butt"/>
<text transform="matrix(0.7953 0.0000 0.0000 0.9508 849.7571 492.7246)" font-family='"Liberation Sans", Arial, Helvetica, sans-serif' font-size="21" fill="#000" stroke="#000" stroke-width="0.45" stroke-linejoin="round">10</text>
<text transform="matrix(0.7333 0.0000 0.0000 0.9854 870.3667 485.8537)" font-family='"Liberation Sans", Arial, Helvetica, sans-serif' font-size="14.5" fill="#000" stroke="#000" stroke-width="0.35" stroke-linejoin="round">4</text>
<line x1="884.7" y1="461.4" x2="884.7" y2="466.2" stroke="#000" stroke-width="1.6" stroke-linecap="butt"/>
<line x1="897.24" y1="461.4" x2="897.24" y2="466.2" stroke="#000" stroke-width="1.6" stroke-linecap="butt"/>
<line x1="906.15" y1="461.4" x2="906.15" y2="466.2" stroke="#000" stroke-width="1.6" stroke-linecap="butt"/>
<line x1="913.05" y1="461.4" x2="913.05" y2="466.2" stroke="#000" stroke-width="1.6" stroke-linecap="butt"/>
<line x1="918.69" y1="461.4" x2="918.69" y2="466.2" stroke="#000" stroke-width="1.6" stroke-linecap="butt"/>
<line x1="923.46" y1="461.4" x2="923.46" y2="466.2" stroke="#000" stroke-width="1.6" stroke-linecap="butt"/>
<line x1="927.6" y1="461.4" x2="927.6" y2="466.2" stroke="#000" stroke-width="1.6" stroke-linecap="butt"/>
<line x1="931.24" y1="461.4" x2="931.24" y2="466.2" stroke="#000" stroke-width="1.6" stroke-linecap="butt"/>
<line x1="934.5" y1="461.4" x2="934.5" y2="471.6" stroke="#000" stroke-width="1.9" stroke-linecap="butt"/>
<text transform="matrix(0.7953 0.0000 0.0000 0.9508 921.0071 492.7246)" font-family='"Liberation Sans", Arial, Helvetica, sans-serif' font-size="21" fill="#000" stroke="#000" stroke-width="0.45" stroke-linejoin="round">10</text>
<text transform="matrix(0.7857 0.0000 0.0000 0.9854 941.4071 485.8537)" font-family='"Liberation Sans", Arial, Helvetica, sans-serif' font-size="14.5" fill="#000" stroke="#000" stroke-width="0.35" stroke-linejoin="round">5</text>
<line x1="955.95" y1="461.4" x2="955.95" y2="466.2" stroke="#000" stroke-width="1.6" stroke-linecap="butt"/>
<line x1="968.49" y1="461.4" x2="968.49" y2="466.2" stroke="#000" stroke-width="1.6" stroke-linecap="butt"/>
<line x1="977.4" y1="461.4" x2="977.4" y2="466.2" stroke="#000" stroke-width="1.6" stroke-linecap="butt"/>
<line x1="984.3" y1="461.4" x2="984.3" y2="466.2" stroke="#000" stroke-width="1.6" stroke-linecap="butt"/>
<line x1="989.94" y1="461.4" x2="989.94" y2="466.2" stroke="#000" stroke-width="1.6" stroke-linecap="butt"/>
<line x1="994.71" y1="461.4" x2="994.71" y2="466.2" stroke="#000" stroke-width="1.6" stroke-linecap="butt"/>
<line x1="998.85" y1="461.4" x2="998.85" y2="466.2" stroke="#000" stroke-width="1.6" stroke-linecap="butt"/>
<line x1="1002.49" y1="461.4" x2="1002.49" y2="466.2" stroke="#000" stroke-width="1.6" stroke-linecap="butt"/>
<line x1="1005.75" y1="461.4" x2="1005.75" y2="471.6" stroke="#000" stroke-width="1.9" stroke-linecap="butt"/>
<text transform="matrix(0.7953 0.0000 0.0000 0.9508 992.2571 492.7246)" font-family='"Liberation Sans", Arial, Helvetica, sans-serif' font-size="21" fill="#000" stroke="#000" stroke-width="0.45" stroke-linejoin="round">10</text>
<text transform="matrix(0.7857 0.0000 0.0000 0.9619 1012.6571 485.8595)" font-family='"Liberation Sans", Arial, Helvetica, sans-serif' font-size="14.5" fill="#000" stroke="#000" stroke-width="0.35" stroke-linejoin="round">6</text>
<line x1="1027.2" y1="461.4" x2="1027.2" y2="466.2" stroke="#000" stroke-width="1.6" stroke-linecap="butt"/>
<line x1="1039.74" y1="461.4" x2="1039.74" y2="466.2" stroke="#000" stroke-width="1.6" stroke-linecap="butt"/>
<line x1="1048.65" y1="461.4" x2="1048.65" y2="466.2" stroke="#000" stroke-width="1.6" stroke-linecap="butt"/>
<line x1="1055.55" y1="461.4" x2="1055.55" y2="466.2" stroke="#000" stroke-width="1.6" stroke-linecap="butt"/>
<line x1="1061.19" y1="461.4" x2="1061.19" y2="466.2" stroke="#000" stroke-width="1.6" stroke-linecap="butt"/>
<line x1="1065.96" y1="461.4" x2="1065.96" y2="466.2" stroke="#000" stroke-width="1.6" stroke-linecap="butt"/>
<line x1="1070.1" y1="461.4" x2="1070.1" y2="466.2" stroke="#000" stroke-width="1.6" stroke-linecap="butt"/>
<line x1="1073.74" y1="461.4" x2="1073.74" y2="466.2" stroke="#000" stroke-width="1.6" stroke-linecap="butt"/>
<line x1="1077" y1="461.4" x2="1077" y2="471.6" stroke="#000" stroke-width="1.9" stroke-linecap="butt"/>
<text transform="matrix(0.7953 0.0000 0.0000 0.9508 1063.5071 492.7246)" font-family='"Liberation Sans", Arial, Helvetica, sans-serif' font-size="21" fill="#000" stroke="#000" stroke-width="0.45" stroke-linejoin="round">10</text>
<text transform="matrix(0.7857 0.0000 0.0000 0.9854 1083.9071 485.8537)" font-family='"Liberation Sans", Arial, Helvetica, sans-serif' font-size="14.5" fill="#000" stroke="#000" stroke-width="0.35" stroke-linejoin="round">7</text>
<line x1="1098.45" y1="461.4" x2="1098.45" y2="466.2" stroke="#000" stroke-width="1.6" stroke-linecap="butt"/>
<line x1="1110.99" y1="461.4" x2="1110.99" y2="466.2" stroke="#000" stroke-width="1.6" stroke-linecap="butt"/>
<text transform="matrix(0.8432 0.0000 0.0000 0.9259 701.0243 66.8056)" font-family='"Liberation Sans", Arial, Helvetica, sans-serif' font-size="27" fill="#000" stroke="#000" stroke-width="1.15" stroke-linejoin="round">MES-OV</text>
<text transform="matrix(0.8563 0.0000 0.0000 0.9208 1019.7514 65.7252)" font-family='"Liberation Sans", Arial, Helvetica, sans-serif' font-size="27" fill="#00a651" stroke="#00a651" stroke-width="0.9" stroke-linejoin="round">EpCam</text>
<text transform="matrix(0.9377 0.0000 0.0000 0.9500 1016.1246 96.8000)" font-family='"Liberation Sans", Arial, Helvetica, sans-serif' font-size="27" fill="#808080" stroke="#808080" stroke-width="0.9" stroke-linejoin="round">Isotype</text>
<line x1="896.25" y1="290.75" x2="1046.75" y2="290.75" stroke="#000" stroke-width="1.5" stroke-linecap="butt"/>
<line x1="896.25" y1="281" x2="896.25" y2="298.9" stroke="#000" stroke-width="1.5" stroke-linecap="butt"/>
<line x1="1046.75" y1="281" x2="1046.75" y2="298.9" stroke="#000" stroke-width="1.5" stroke-linecap="butt"/>
<text transform="matrix(1.0047 0.0000 0.0000 0.9383 1000.4965 284.2963)" font-family='"Liberation Sans", Arial, Helvetica, sans-serif' font-size="27" fill="#000" stroke="#000" stroke-width="1.25" stroke-linejoin="round">99%</text>
<text transform="matrix(1.0133 0.0000 0.0000 0.9659 843.2500 528.5085)" font-family='"Liberation Sans", Arial, Helvetica, sans-serif' font-size="30" fill="#000">Alexa 647</text>
<path d="M1162.6,32.5L1125,32.5L1125,106.25L1162.6,106.25" fill="none" stroke="#cbcbcb" stroke-width="1.5"/>
<rect x="1130.15" y="38.15" width="28.45" height="27.95" fill="#f4fef3" stroke="#00e800" stroke-width="2.8"/>
<rect x="1129.65" y="72.9" width="29.45" height="28.7" fill="#c0bfc3" stroke="#38383a" stroke-width="1.8"/>
<text transform="matrix(0.0000 -0.8378 1.1169 0.0000 616.9416 278.6284)" font-family='"Liberation Sans", Arial, Helvetica, sans-serif' font-size="27" fill="#000" stroke="#000" stroke-width="0.3" stroke-linejoin="round">%Max</text>
<g clip-path="url(#cpA3)"><path d="M1386,465.37L1389,465.16L1396,464.86L1404,464.74L1405.5,464.06L1407,463.37L1408.5,462.69L1410.11,462L1411.77,461.62L1413,461.42L1415.13,460.27L1416.72,460.11L1417.98,459.44L1419.48,460.06L1420.86,458.89L1422.48,458.59L1423.96,457.93L1425.71,457.57L1427.42,458.47L1429.06,457.72L1430.33,457.6L1432.14,456.63L1434.03,456.48L1435.4,456.42L1436.82,457.24L1437.99,456.81L1439.19,456.25L1440.32,454.86L1441.49,454.9L1442.66,454.15L1443.44,454.49L1445.22,453.06L1446.59,452.36L1447.49,451.67L1449.5,450.24L1450.94,451.21L1452.42,449.83L1453.92,448.71L1455.16,447.35L1456.7,447.47L1457.6,447.72L1459.44,446.05L1460.95,445.37L1461.71,445.06L1463.54,444.42L1465.82,441.49L1467.26,441.92L1467.99,440.61L1468.08,438.68L1469.19,437.23L1469.5,436.88L1470.2,435.15L1470.37,433.69L1471.26,431.55L1471.52,430.17L1471.45,427.3L1472.4,426.62L1472.2,426.01L1472.42,423.76L1472.88,422.46L1472.99,421.64L1474.38,419.13L1474.24,418.56L1475.54,417.18L1475.86,414.13L1475.85,413.65L1477.49,411.78L1477.72,408.78L1478.54,408.61L1479.02,408.85L1479.69,405.58L1479.77,403.19L1480.39,404.3L1481.06,401.73L1481.3,400.75L1481.95,399.01L1483.55,395.91L1483.21,396.56L1483.85,394.05L1484.3,393.51L1483.91,390.19L1484.57,389.66L1484.49,387.55L1484.49,387.29L1484.86,382.6L1486.13,382.99L1484.86,381.28L1484.89,378.97L1485.18,377.4L1486.08,375.67L1485.65,374.03L1486.32,374.5L1486.57,371.53L1486.77,368.82L1486.79,367.4L1486.4,368.04L1487.26,364.84L1487.32,364.35L1487.41,362.72L1487.68,360.96L1487.81,360.31L1488.37,356.54L1488.62,354.16L1488.68,354.27L1488.69,351.34L1490.25,350.57L1492.28,349.6L1492.93,348L1494.66,346.42L1493.57,346.09L1493.72,343.72L1495.53,343.67L1495.73,341.7L1495.95,339.61L1496.61,340L1496.96,337.48L1497.49,335.82L1496,335.35L1497.91,333L1497.32,332.1L1498.29,328.78L1498.61,327.09L1499.17,326.76L1498,326.56L1498.7,322.58L1499.56,321.83L1500.02,320.56L1500.16,318.42L1500.37,316.85L1500.28,315.91L1501.37,315.39L1500.93,312.45L1502.57,310.31L1501.93,310.53L1502.35,307.78L1502.27,305.85L1503.17,303.3L1503.94,304.27L1502.79,301.49L1504.63,300.55L1504.49,297.18L1504.8,297.17L1505.08,293.62L1504.77,291.61L1504.59,292.85L1505.72,290.27L1505.42,289.89L1506.07,287.68L1505.41,287.21L1506.19,282.82L1506.75,281.98L1507.1,282.23L1507.08,279.25L1507.73,277.39L1508.05,277.11L1507.72,275.91L1507.99,272.56L1508.1,271.52L1508.34,271.64L1508.4,269.41L1509.58,268.62L1510.24,265.1L1510.05,263.4L1511.57,262.6L1510.47,260.85L1510.51,261.36L1511.56,258.71L1511.77,255.58L1511.74,254.9L1512.38,254.25L1512.27,250.68L1512.04,250.86L1513.26,250.43L1513.78,248.29L1514.16,246.07L1513.83,244.78L1513.94,243.87L1514.17,240.76L1514.37,240.82L1514.91,237.45L1515,238.02L1514.82,234.45L1515.27,233.58L1514.82,233.95L1515.16,231.11L1516.02,228.44L1515.66,227.06L1516.09,226.56L1516.25,227.11L1517.3,223.05L1516.83,221.5L1516.8,222.25L1518.22,220.62L1517.34,217.48L1517.4,214.92L1517.71,212.86L1517.95,212.4L1517.54,211.36L1518.39,209.82L1518.1,208.04L1518.97,206.11L1519.08,204.97L1518.61,204.03L1519.83,200.96L1519.23,199.7L1519.54,197.12L1520.68,195.6L1520.59,195.97L1520.76,192.93L1519.62,191.64L1520.62,189.29L1520.73,188.89L1521.21,186.08L1521.22,184.65L1522.35,183.69L1522.41,181.95L1522.74,181.84L1522.81,178.48L1522.94,178.65L1522.94,176.04L1524.96,178.17L1524.24,175.37L1525.22,176.57L1525.86,174.84L1526.29,172.65L1526.06,171.91L1526.4,170.75L1527.81,168.66L1527.17,165.94L1527.37,164.98L1529.17,162.89L1528.65,162.42L1529.45,161.11L1529.58,158.23L1529.72,157.89L1530.81,154.82L1530.43,153.07L1531.1,151.53L1531.45,150.6L1531.33,149.63L1532.46,148.37L1532.58,146.82L1533.89,149.47L1534.9,146.11L1535.14,146.88L1535.24,142.94L1535.92,142.71L1535.98,140.99L1537.49,141.37L1537.75,143.65L1539.26,141.53L1539.29,140.27L1538.38,137.35L1540.77,137.49L1541.64,136.91L1542.18,137.83L1541.77,139.59L1542.98,141.18L1543.43,139.36L1544.31,137.07L1544.42,139.44L1545.08,139.25L1545.27,141.81L1545.63,141.64L1546.56,144.5L1548.66,143.55L1549.02,145.07L1550.81,145.01L1550.11,145.94L1551.27,148.01L1550.78,149.68L1551.72,152.3L1552.65,154.39L1552.39,154.91L1553.26,155.95L1553.81,157.89L1555,158.87L1555.17,155.73L1554.98,157.82L1556.04,158.66L1557.24,159.86L1556.68,161.52L1557.61,163.86L1557.73,164.05L1557.93,165.43L1558.51,168.6L1557.97,169.65L1559.13,171.06L1558.47,173.24L1560.01,172.4L1558.5,169.41L1559.59,169.75L1559.42,166.83L1559.73,164.65L1560.12,162.87L1559.6,161.93L1560.56,164.87L1561.06,163.87L1561.87,166.05L1561,169.48L1562.2,170.75L1562.29,167.91L1562.31,167.35L1562.85,164.25L1562.71,163.34L1563.22,162.1L1563.52,159.54L1564.09,162.07L1564.97,160.03L1565.5,164.69L1565.99,166L1565.53,168.21L1565.8,168.5L1566.96,170.4L1567.34,173.65L1567.33,173.47L1567.82,174.43L1567.6,177.75L1568.17,176.34L1567.51,179.53L1568.11,180.16L1568.21,182.62L1569.05,184.9L1568.91,188.16L1569.76,188.81L1569.55,190.12L1569.92,191.38L1570.11,191.79L1570.75,193.39L1570.61,196.21L1571.32,198.29L1571.9,199.4L1571.94,202.66L1572.37,201.36L1572.11,202.85L1572.5,203.74L1572.54,207.81L1572.92,208.74L1573.58,210.13L1573.45,212.51L1574.24,213.33L1574,213.07L1574.86,216.4L1576.23,216.27L1576.54,216.38L1576.36,214.65L1576.45,215.37L1576.86,214.4L1576.3,216.74L1576.23,218.97L1576.59,218.91L1577.06,219.15L1577.42,221.26L1577.92,221.76L1577.03,226.57L1577.56,226.14L1578,228.07L1578.08,229.44L1578.23,232.47L1577.34,233.31L1577.9,235.35L1578.56,236.15L1579.49,237.88L1579.29,238.93L1580.07,240.51L1579.4,244.27L1580.2,244.12L1580.64,245.69L1580.84,247.81L1581.06,247.95L1579.87,250.65L1581.27,250.81L1580.48,254.15L1581.19,255.49L1581.55,257.01L1581.57,257.85L1582.19,260.28L1582.43,261.94L1582.73,263.69L1582.58,263.81L1583.66,267.61L1583.7,267.62L1584,269.72L1584.46,269.8L1584.52,270.56L1584.32,272.8L1584.96,275.64L1584.84,277.31L1584.76,278.42L1585.02,278.99L1586.05,280.75L1586.32,283.23L1586.43,283.8L1586.51,287.14L1586.67,287.44L1587.29,289.71L1587.9,291.48L1587.17,292.28L1587.91,293.42L1588.24,295.25L1588.33,297.45L1588.38,299.23L1588.99,300.88L1589.46,301.57L1589.81,303.24L1590.05,305.22L1589.23,306.76L1589.97,309.88L1590.32,310.17L1590.34,312.12L1590.24,314.1L1590.62,315.61L1590.74,316.18L1591.33,318.24L1592.22,319.87L1592.71,321.52L1592.44,324.29L1592.62,324.66L1593,325.32L1592.87,327.54L1593.25,328.83L1593.65,331.08L1593.83,333.51L1594.17,334.4L1594.51,335.64L1595.04,337.62L1595.59,338.81L1595.77,341.96L1595.85,341.34L1596.25,343.14L1597.47,344.67L1597.21,346.66L1597.2,348.79L1596.94,348.23L1597.4,351.05L1598.44,351.62L1597.96,352.82L1597.83,355.33L1599.08,357.51L1599.13,358.67L1599.15,359.28L1599.66,361.92L1600.51,363.02L1599.96,366.26L1600.3,367.3L1600.75,368.31L1601.73,370.36L1602.24,371.3L1601.87,372.43L1602.55,375.01L1601.84,376.1L1603.63,377.89L1603.11,377.86L1603.09,380.95L1603.73,381.56L1602.82,385.02L1603.1,387.38L1604.08,386.38L1604.13,389.79L1605.02,390.13L1604.95,392.39L1605.46,392.33L1605.9,394.18L1605.29,397.29L1605.64,397.42L1605.65,400.55L1606.14,402.64L1606.33,403.3L1607.21,405.78L1607.2,407.07L1606.75,408.59L1607.65,410.79L1608.19,412.26L1607.58,412.82L1608.11,414.94L1609.09,416.33L1608.59,417.37L1608.79,418.3L1610.02,420.94L1609.33,421.85L1610.02,423.82L1610.01,425.34L1611.07,426.75L1610.99,427.15L1611.32,428.79L1611.92,430.31L1612.68,432.71L1613.32,433.58L1612.85,434.27L1613.47,436.37L1614.9,437.66L1615.4,438.79L1615.84,440.4L1616.52,443.27L1617.2,444.24L1617.76,446.18L1618.32,446.49L1618.73,449.25L1619.35,449.81L1620.25,452.35L1620.69,453.31L1621.53,455.03L1621.92,455.95L1622.83,457.58L1623.89,459.26L1624.29,460.08L1625.68,460.83L1626.49,462.13L1628.21,461.54L1630.23,460.95L1631.77,460.85L1633.37,461.54L1634.8,462.65L1636.2,463.33L1637.6,464L1639,464.68L1645,464.8L1651.5,465.07L1657,465.37L1657,465.1L1386,465.1Z" fill="#f20000" fill-opacity="0.06" stroke="none"/>
<path d="M1386,465.37L1389,465.16L1396,464.86L1404,464.74L1405.5,464.06L1407,463.37L1408.5,462.69L1410.11,462L1411.77,461.62L1413,461.42L1415.13,460.27L1416.72,460.11L1417.98,459.44L1419.48,460.06L1420.86,458.89L1422.48,458.59L1423.96,457.93L1425.71,457.57L1427.42,458.47L1429.06,457.72L1430.33,457.6L1432.14,456.63L1434.03,456.48L1435.4,456.42L1436.82,457.24L1437.99,456.81L1439.19,456.25L1440.32,454.86L1441.49,454.9L1442.66,454.15L1443.44,454.49L1445.22,453.06L1446.59,452.36L1447.49,451.67L1449.5,450.24L1450.94,451.21L1452.42,449.83L1453.92,448.71L1455.16,447.35L1456.7,447.47L1457.6,447.72L1459.44,446.05L1460.95,445.37L1461.71,445.06L1463.54,444.42L1465.82,441.49L1467.26,441.92L1467.99,440.61L1468.08,438.68L1469.19,437.23L1469.5,436.88L1470.2,435.15L1470.37,433.69L1471.26,431.55L1471.52,430.17L1471.45,427.3L1472.4,426.62L1472.2,426.01L1472.42,423.76L1472.88,422.46L1472.99,421.64L1474.38,419.13L1474.24,418.56L1475.54,417.18L1475.86,414.13L1475.85,413.65L1477.49,411.78L1477.72,408.78L1478.54,408.61L1479.02,408.85L1479.69,405.58L1479.77,403.19L1480.39,404.3L1481.06,401.73L1481.3,400.75L1481.95,399.01L1483.55,395.91L1483.21,396.56L1483.85,394.05L1484.3,393.51L1483.91,390.19L1484.57,389.66L1484.49,387.55L1484.49,387.29L1484.86,382.6L1486.13,382.99L1484.86,381.28L1484.89,378.97L1485.18,377.4L1486.08,375.67L1485.65,374.03L1486.32,374.5L1486.57,371.53L1486.77,368.82L1486.79,367.4L1486.4,368.04L1487.26,364.84L1487.32,364.35L1487.41,362.72L1487.68,360.96L1487.81,360.31L1488.37,356.54L1488.62,354.16L1488.68,354.27L1488.69,351.34L1490.25,350.57L1492.28,349.6L1492.93,348L1494.66,346.42L1493.57,346.09L1493.72,343.72L1495.53,343.67L1495.73,341.7L1495.95,339.61L1496.61,340L1496.96,337.48L1497.49,335.82L1496,335.35L1497.91,333L1497.32,332.1L1498.29,328.78L1498.61,327.09L1499.17,326.76L1498,326.56L1498.7,322.58L1499.56,321.83L1500.02,320.56L1500.16,318.42L1500.37,316.85L1500.28,315.91L1501.37,315.39L1500.93,312.45L1502.57,310.31L1501.93,310.53L1502.35,307.78L1502.27,305.85L1503.17,303.3L1503.94,304.27L1502.79,301.49L1504.63,300.55L1504.49,297.18L1504.8,297.17L1505.08,293.62L1504.77,291.61L1504.59,292.85L1505.72,290.27L1505.42,289.89L1506.07,287.68L1505.41,287.21L1506.19,282.82L1506.75,281.98L1507.1,282.23L1507.08,279.25L1507.73,277.39L1508.05,277.11L1507.72,275.91L1507.99,272.56L1508.1,271.52L1508.34,271.64L1508.4,269.41L1509.58,268.62L1510.24,265.1L1510.05,263.4L1511.57,262.6L1510.47,260.85L1510.51,261.36L1511.56,258.71L1511.77,255.58L1511.74,254.9L1512.38,254.25L1512.27,250.68L1512.04,250.86L1513.26,250.43L1513.78,248.29L1514.16,246.07L1513.83,244.78L1513.94,243.87L1514.17,240.76L1514.37,240.82L1514.91,237.45L1515,238.02L1514.82,234.45L1515.27,233.58L1514.82,233.95L1515.16,231.11L1516.02,228.44L1515.66,227.06L1516.09,226.56L1516.25,227.11L1517.3,223.05L1516.83,221.5L1516.8,222.25L1518.22,220.62L1517.34,217.48L1517.4,214.92L1517.71,212.86L1517.95,212.4L1517.54,211.36L1518.39,209.82L1518.1,208.04L1518.97,206.11L1519.08,204.97L1518.61,204.03L1519.83,200.96L1519.23,199.7L1519.54,197.12L1520.68,195.6L1520.59,195.97L1520.76,192.93L1519.62,191.64L1520.62,189.29L1520.73,188.89L1521.21,186.08L1521.22,184.65L1522.35,183.69L1522.41,181.95L1522.74,181.84L1522.81,178.48L1522.94,178.65L1522.94,176.04L1524.96,178.17L1524.24,175.37L1525.22,176.57L1525.86,174.84L1526.29,172.65L1526.06,171.91L1526.4,170.75L1527.81,168.66L1527.17,165.94L1527.37,164.98L1529.17,162.89L1528.65,162.42L1529.45,161.11L1529.58,158.23L1529.72,157.89L1530.81,154.82L1530.43,153.07L1531.1,151.53L1531.45,150.6L1531.33,149.63L1532.46,148.37L1532.58,146.82L1533.89,149.47L1534.9,146.11L1535.14,146.88L1535.24,142.94L1535.92,142.71L1535.98,140.99L1537.49,141.37L1537.75,143.65L1539.26,141.53L1539.29,140.27L1538.38,137.35L1540.77,137.49L1541.64,136.91L1542.18,137.83L1541.77,139.59L1542.98,141.18L1543.43,139.36L1544.31,137.07L1544.42,139.44L1545.08,139.25L1545.27,141.81L1545.63,141.64L1546.56,144.5L1548.66,143.55L1549.02,145.07L1550.81,145.01L1550.11,145.94L1551.27,148.01L1550.78,149.68L1551.72,152.3L1552.65,154.39L1552.39,154.91L1553.26,155.95L1553.81,157.89L1555,158.87L1555.17,155.73L1554.98,157.82L1556.04,158.66L1557.24,159.86L1556.68,161.52L1557.61,163.86L1557.73,164.05L1557.93,165.43L1558.51,168.6L1557.97,169.65L1559.13,171.06L1558.47,173.24L1560.01,172.4L1558.5,169.41L1559.59,169.75L1559.42,166.83L1559.73,164.65L1560.12,162.87L1559.6,161.93L1560.56,164.87L1561.06,163.87L1561.87,166.05L1561,169.48L1562.2,170.75L1562.29,167.91L1562.31,167.35L1562.85,164.25L1562.71,163.34L1563.22,162.1L1563.52,159.54L1564.09,162.07L1564.97,160.03L1565.5,164.69L1565.99,166L1565.53,168.21L1565.8,168.5L1566.96,170.4L1567.34,173.65L1567.33,173.47L1567.82,174.43L1567.6,177.75L1568.17,176.34L1567.51,179.53L1568.11,180.16L1568.21,182.62L1569.05,184.9L1568.91,188.16L1569.76,188.81L1569.55,190.12L1569.92,191.38L1570.11,191.79L1570.75,193.39L1570.61,196.21L1571.32,198.29L1571.9,199.4L1571.94,202.66L1572.37,201.36L1572.11,202.85L1572.5,203.74L1572.54,207.81L1572.92,208.74L1573.58,210.13L1573.45,212.51L1574.24,213.33L1574,213.07L1574.86,216.4L1576.23,216.27L1576.54,216.38L1576.36,214.65L1576.45,215.37L1576.86,214.4L1576.3,216.74L1576.23,218.97L1576.59,218.91L1577.06,219.15L1577.42,221.26L1577.92,221.76L1577.03,226.57L1577.56,226.14L1578,228.07L1578.08,229.44L1578.23,232.47L1577.34,233.31L1577.9,235.35L1578.56,236.15L1579.49,237.88L1579.29,238.93L1580.07,240.51L1579.4,244.27L1580.2,244.12L1580.64,245.69L1580.84,247.81L1581.06,247.95L1579.87,250.65L1581.27,250.81L1580.48,254.15L1581.19,255.49L1581.55,257.01L1581.57,257.85L1582.19,260.28L1582.43,261.94L1582.73,263.69L1582.58,263.81L1583.66,267.61L1583.7,267.62L1584,269.72L1584.46,269.8L1584.52,270.56L1584.32,272.8L1584.96,275.64L1584.84,277.31L1584.76,278.42L1585.02,278.99L1586.05,280.75L1586.32,283.23L1586.43,283.8L1586.51,287.14L1586.67,287.44L1587.29,289.71L1587.9,291.48L1587.17,292.28L1587.91,293.42L1588.24,295.25L1588.33,297.45L1588.38,299.23L1588.99,300.88L1589.46,301.57L1589.81,303.24L1590.05,305.22L1589.23,306.76L1589.97,309.88L1590.32,310.17L1590.34,312.12L1590.24,314.1L1590.62,315.61L1590.74,316.18L1591.33,318.24L1592.22,319.87L1592.71,321.52L1592.44,324.29L1592.62,324.66L1593,325.32L1592.87,327.54L1593.25,328.83L1593.65,331.08L1593.83,333.51L1594.17,334.4L1594.51,335.64L1595.04,337.62L1595.59,338.81L1595.77,341.96L1595.85,341.34L1596.25,343.14L1597.47,344.67L1597.21,346.66L1597.2,348.79L1596.94,348.23L1597.4,351.05L1598.44,351.62L1597.96,352.82L1597.83,355.33L1599.08,357.51L1599.13,358.67L1599.15,359.28L1599.66,361.92L1600.51,363.02L1599.96,366.26L1600.3,367.3L1600.75,368.31L1601.73,370.36L1602.24,371.3L1601.87,372.43L1602.55,375.01L1601.84,376.1L1603.63,377.89L1603.11,377.86L1603.09,380.95L1603.73,381.56L1602.82,385.02L1603.1,387.38L1604.08,386.38L1604.13,389.79L1605.02,390.13L1604.95,392.39L1605.46,392.33L1605.9,394.18L1605.29,397.29L1605.64,397.42L1605.65,400.55L1606.14,402.64L1606.33,403.3L1607.21,405.78L1607.2,407.07L1606.75,408.59L1607.65,410.79L1608.19,412.26L1607.58,412.82L1608.11,414.94L1609.09,416.33L1608.59,417.37L1608.79,418.3L1610.02,420.94L1609.33,421.85L1610.02,423.82L1610.01,425.34L1611.07,426.75L1610.99,427.15L1611.32,428.79L1611.92,430.31L1612.68,432.71L1613.32,433.58L1612.85,434.27L1613.47,436.37L1614.9,437.66L1615.4,438.79L1615.84,440.4L1616.52,443.27L1617.2,444.24L1617.76,446.18L1618.32,446.49L1618.73,449.25L1619.35,449.81L1620.25,452.35L1620.69,453.31L1621.53,455.03L1621.92,455.95L1622.83,457.58L1623.89,459.26L1624.29,460.08L1625.68,460.83L1626.49,462.13L1628.21,461.54L1630.23,460.95L1631.77,460.85L1633.37,461.54L1634.8,462.65L1636.2,463.33L1637.6,464L1639,464.68L1645,464.8L1651.5,465.07L1657,465.37" fill="none" stroke="#f20000" stroke-width="2.6" stroke-linejoin="round" stroke-linecap="butt"/></g>
<g clip-path="url(#cpA3)"><path d="M1326,464.6L1334,464L1335.25,462.92L1336.38,461.7L1337.69,461L1339.05,460.03L1340.07,458.5L1341.58,457.3L1342.08,456.37L1342.82,455.02L1343.61,453.14L1344.28,451.5L1345.08,450.29L1345.56,449.2L1346.31,447.63L1347.22,446.05L1347.63,445.48L1348.39,443.27L1348.33,441.66L1348.87,440.19L1348.94,438.87L1348.83,437.48L1349.5,434.86L1349.84,433.82L1350.06,432.58L1350.5,430.82L1350.41,429.73L1350.98,427.6L1351.14,427.28L1351.57,425.12L1351.7,423.32L1352.2,421.21L1352.6,420.55L1352.53,418.63L1352.28,417.32L1352.64,415.49L1353.09,413.75L1353.01,412.15L1353.53,410.72L1353.53,409.52L1353.64,408.37L1353.61,405.32L1353.93,405.16L1354.5,402.37L1354.57,402.3L1354.61,399.1L1354.84,397.42L1354.72,396.52L1355.32,394.04L1355.33,392.63L1355.43,391.66L1355.47,390.23L1356.44,388.39L1356.1,387.33L1356.62,384.56L1356.34,384.08L1356.31,382.59L1356.92,381.05L1356.95,379.1L1357.19,377.86L1357.42,376.53L1357.53,374.94L1357.42,373.02L1357.73,370.97L1358.01,369.09L1357.83,368.47L1358.71,366.43L1359.28,362.68L1358.65,362.7L1358.95,361.94L1358.93,360.18L1359.04,359.5L1359.24,357.3L1359.22,353.78L1358.91,353.4L1359.2,351.94L1359.93,350.38L1359.55,348.87L1359.63,347.52L1360.44,345.85L1359.94,344.36L1360.88,342.73L1360.35,340.69L1360.4,338.88L1360.13,337.57L1360.94,335.63L1360.45,335.26L1360.87,333L1361.44,331.79L1361.02,329.76L1361.32,328.27L1361.53,326.47L1361.59,324.65L1361.88,324.99L1362,321.86L1361.82,320.94L1362.06,318.79L1362.45,317.92L1362.56,315.22L1362.47,314.02L1362.64,311.99L1362.82,311.77L1362.61,307.99L1362.55,306.98L1362.46,305.84L1362.97,304.47L1362.83,302.92L1363.65,302.5L1363.69,300.2L1362.97,298.66L1362.87,295.51L1363.29,294.72L1363.59,294.07L1363.56,291.58L1363.54,290.43L1364.14,288.25L1364.01,286.42L1364.1,285.84L1364.17,284.6L1364.52,281.36L1364.66,280.6L1364.66,278.92L1364.55,276.87L1365.36,275.86L1365.03,273.68L1365.1,271.29L1365.94,271.56L1365.92,268.67L1365.88,266.91L1365.78,266.1L1366.28,263.3L1366.62,262.03L1366.56,261.21L1366.67,258.09L1366.72,257.35L1366.8,256.12L1366.99,254.14L1367.18,253.35L1367.76,250.75L1366.95,249.87L1367.05,248.35L1366.88,245.35L1367.63,244.17L1368.5,243.23L1367.71,240.85L1367.7,239.61L1368.44,239.39L1368.61,236.2L1368.75,234.63L1368.28,232.34L1368.5,231.67L1368.88,229.92L1368.8,227.65L1369.46,227.54L1368.98,225.4L1369.36,224.39L1369.35,220.69L1369.52,220.14L1369.41,218.47L1369.63,217.38L1369.71,215.05L1369.81,213.76L1370.36,212.16L1370.09,210.78L1370.72,208.22L1370.66,208.03L1370.53,204.58L1371.29,204.05L1370.95,202.66L1371.17,200.8L1370.97,199.28L1371.11,197.17L1371.16,196.01L1372.08,195.27L1371.87,191.77L1371.98,190.23L1371.75,190.39L1372.32,188.02L1372.27,186.17L1372.02,184.71L1372.15,183.71L1372.7,181L1371.89,178.84L1373.05,178.73L1373.15,177.71L1373.23,175.04L1373.58,172.91L1373.5,172.55L1373.32,170.31L1373.94,169.35L1373.17,168.6L1374.12,166.05L1373.77,164.19L1373.89,162.21L1374.42,161.38L1374.19,160.2L1374.18,157.84L1374.61,156.81L1374.79,154.67L1374.72,152.26L1375.19,150.93L1375.29,150.32L1375.52,147.93L1375.42,145.3L1375.98,145.48L1375.89,142.28L1376.09,141.13L1376.01,139.01L1376.22,139.11L1376.6,136.97L1376.76,134.94L1377.05,134.12L1377.31,131.84L1377.29,130.25L1377.8,128.98L1377.62,126.2L1377.9,126.51L1378.04,124.19L1378.16,122.08L1378.33,120.8L1378.93,118.52L1378.5,115.77L1379.51,116.88L1379.41,114.02L1380.15,113.28L1380.78,110.48L1380.81,109.96L1381.02,107.76L1381,105.12L1381.19,104.72L1381.32,103.78L1381.81,102.39L1382.01,99.66L1382.28,98.96L1382.32,97.24L1383.2,96.36L1384.55,97.83L1385.02,95.86L1385.29,96.33L1385.44,93.25L1385.92,93.3L1387.23,94.82L1387.2,95.6L1387.62,97.06L1388.34,98.35L1388.64,99.43L1389.39,100.75L1388.78,103.51L1389.34,105.93L1389.05,106.87L1389.26,107.95L1389.69,109.77L1389.34,110L1390.34,113.94L1389.52,114.81L1389.69,114.61L1390.13,117.33L1389.69,118.34L1390.66,119.81L1390.2,121.59L1390.83,123.62L1391.54,124.5L1391.79,126.16L1391.93,126.96L1391.87,130.61L1392.43,131.24L1392.83,133.66L1392.75,135.06L1393.29,135.74L1393.41,137.1L1393.29,139.84L1393.44,140.29L1393.93,142.1L1394.05,143.95L1394.53,146.07L1394.77,147.6L1395.12,149.74L1395.07,150.11L1394.65,151.33L1395.52,153.94L1395.93,155.5L1395.88,156.97L1396.16,158.29L1396.2,160.79L1396.93,162.77L1396.83,164.6L1397.12,165.67L1397.27,168L1397.74,168.52L1398.4,170.1L1397.98,172.42L1399.03,172.26L1398.73,175.13L1398.9,175.95L1398.75,178.4L1399.34,179.63L1400.23,181.82L1400.18,182.77L1400.41,182.58L1400.44,184.41L1401.44,187.09L1401.32,187.27L1402.24,188.93L1401.92,189.95L1402.09,191.27L1402.93,194.43L1403.6,195.15L1403.16,195.85L1403.48,198.4L1403.72,199.5L1404.47,200.11L1404.61,202.15L1404.83,204.29L1405.28,205.78L1405.44,207.96L1405.76,209.73L1406.11,210.5L1405.85,211.99L1406.79,213.24L1406.88,215.5L1407.36,217.72L1407.38,218.37L1407.27,220.01L1408.14,221.82L1408.43,223.76L1407.99,225.65L1408.53,225.61L1409.19,227.46L1408.89,229.64L1409.27,230.26L1409.41,232.68L1408.84,234.92L1409.24,235.06L1409.78,237.87L1409.55,239L1409.87,239.92L1410.12,242.55L1410.15,244.43L1410.48,245.14L1410.41,246.86L1411.31,248.94L1411.27,249.92L1411.46,251.08L1411.4,253.21L1412,254.54L1412.15,256.63L1412.43,257.96L1413.03,259.72L1412.28,261.69L1412.45,263.19L1412.98,264.38L1413.06,265.7L1413.12,268.21L1413.37,268.69L1413.58,270.04L1413.88,270.79L1413.88,273.91L1414.54,276.04L1414.64,276.76L1414.62,278.85L1414.96,280.44L1415.19,282.4L1415.38,283.3L1416.16,285.58L1416,286.82L1416.28,288.27L1416.35,290.04L1416.46,292.07L1417.35,293.93L1416.86,294.5L1417.23,296.59L1417.61,296.76L1417.54,300.93L1418.3,301.04L1418.3,303.22L1418.49,305.08L1418.87,305.4L1419.97,306.62L1419.29,308.41L1419.77,310.1L1419.59,312.33L1419.79,314.71L1420.29,314L1420.92,316.47L1421.09,318.47L1421.48,319.18L1421.21,321.34L1421.19,323.49L1422.72,322.81L1423.15,323.62L1423.77,325.4L1424.1,327.13L1424.53,328.85L1425.33,330.06L1425.36,330.63L1425.64,333.88L1426.65,334.25L1426.59,336.57L1427.56,337.25L1428.11,339.21L1428.3,341.28L1429.56,342.18L1429.5,343.57L1429.79,344.4L1430.51,347.36L1431.2,347.69L1431.19,349.62L1431.61,350.8L1432.41,353.87L1432.89,354.53L1433.84,356.49L1433.94,357.4L1434.89,358.03L1434.98,360.26L1436.29,361.62L1436.21,362.63L1437.24,363.16L1437.35,367.19L1437.69,368.94L1438.4,369.22L1438.44,371.55L1439,372.92L1439.89,372.4L1441.15,370.54L1441.77,372.35L1442.43,372.24L1443.93,370.9L1444.59,368.65L1446.52,370.82L1448.15,372.5L1448.34,374.14L1448.88,374.91L1449.92,377.77L1449.94,376.95L1450.32,379.86L1451.31,380.97L1452.06,383.32L1452.81,385.51L1453.44,386.78L1453.98,386.97L1454.65,388.65L1455.02,389.78L1455.58,392.27L1456.78,392.91L1457.27,395.41L1457.45,397.2L1458.2,397.25L1458.66,399.45L1459.78,400.84L1460.73,401.57L1460.76,403.58L1461.32,405.6L1462.43,407.04L1462.74,408.2L1463.17,410.06L1464.12,411.86L1464.72,413.68L1465.18,415.07L1466.13,415.01L1466.46,417.65L1466.87,419.48L1467.64,420.43L1468.39,422.18L1469.07,423.7L1469.41,425.14L1470.3,426.45L1470.81,427.89L1471.43,430.66L1471.94,431.35L1472.57,432.77L1473.44,433.81L1474.04,435.62L1474.86,436.75L1475.15,438.61L1476.05,440.41L1476.56,441.56L1477.37,443.28L1477.82,445.01L1478.25,445.82L1479.17,447.6L1480,448.72L1480.96,450.14L1481.68,451.69L1482.82,453.11L1483.57,454.31L1484.51,454.84L1485.59,456.48L1486.67,457.51L1487.53,458.29L1488.71,459.47L1490.05,460.33L1491.2,461.22L1492.67,462.17L1494,463L1500,464.4L1510,464.8L1510,465.1L1326,465.1Z" fill="#9e9da4" fill-opacity="0.66" stroke="none"/>
<path d="M1326,464.6L1334,464L1335.25,462.92L1336.38,461.7L1337.69,461L1339.05,460.03L1340.07,458.5L1341.58,457.3L1342.08,456.37L1342.82,455.02L1343.61,453.14L1344.28,451.5L1345.08,450.29L1345.56,449.2L1346.31,447.63L1347.22,446.05L1347.63,445.48L1348.39,443.27L1348.33,441.66L1348.87,440.19L1348.94,438.87L1348.83,437.48L1349.5,434.86L1349.84,433.82L1350.06,432.58L1350.5,430.82L1350.41,429.73L1350.98,427.6L1351.14,427.28L1351.57,425.12L1351.7,423.32L1352.2,421.21L1352.6,420.55L1352.53,418.63L1352.28,417.32L1352.64,415.49L1353.09,413.75L1353.01,412.15L1353.53,410.72L1353.53,409.52L1353.64,408.37L1353.61,405.32L1353.93,405.16L1354.5,402.37L1354.57,402.3L1354.61,399.1L1354.84,397.42L1354.72,396.52L1355.32,394.04L1355.33,392.63L1355.43,391.66L1355.47,390.23L1356.44,388.39L1356.1,387.33L1356.62,384.56L1356.34,384.08L1356.31,382.59L1356.92,381.05L1356.95,379.1L1357.19,377.86L1357.42,376.53L1357.53,374.94L1357.42,373.02L1357.73,370.97L1358.01,369.09L1357.83,368.47L1358.71,366.43L1359.28,362.68L1358.65,362.7L1358.95,361.94L1358.93,360.18L1359.04,359.5L1359.24,357.3L1359.22,353.78L1358.91,353.4L1359.2,351.94L1359.93,350.38L1359.55,348.87L1359.63,347.52L1360.44,345.85L1359.94,344.36L1360.88,342.73L1360.35,340.69L1360.4,338.88L1360.13,337.57L1360.94,335.63L1360.45,335.26L1360.87,333L1361.44,331.79L1361.02,329.76L1361.32,328.27L1361.53,326.47L1361.59,324.65L1361.88,324.99L1362,321.86L1361.82,320.94L1362.06,318.79L1362.45,317.92L1362.56,315.22L1362.47,314.02L1362.64,311.99L1362.82,311.77L1362.61,307.99L1362.55,306.98L1362.46,305.84L1362.97,304.47L1362.83,302.92L1363.65,302.5L1363.69,300.2L1362.97,298.66L1362.87,295.51L1363.29,294.72L1363.59,294.07L1363.56,291.58L1363.54,290.43L1364.14,288.25L1364.01,286.42L1364.1,285.84L1364.17,284.6L1364.52,281.36L1364.66,280.6L1364.66,278.92L1364.55,276.87L1365.36,275.86L1365.03,273.68L1365.1,271.29L1365.94,271.56L1365.92,268.67L1365.88,266.91L1365.78,266.1L1366.28,263.3L1366.62,262.03L1366.56,261.21L1366.67,258.09L1366.72,257.35L1366.8,256.12L1366.99,254.14L1367.18,253.35L1367.76,250.75L1366.95,249.87L1367.05,248.35L1366.88,245.35L1367.63,244.17L1368.5,243.23L1367.71,240.85L1367.7,239.61L1368.44,239.39L1368.61,236.2L1368.75,234.63L1368.28,232.34L1368.5,231.67L1368.88,229.92L1368.8,227.65L1369.46,227.54L1368.98,225.4L1369.36,224.39L1369.35,220.69L1369.52,220.14L1369.41,218.47L1369.63,217.38L1369.71,215.05L1369.81,213.76L1370.36,212.16L1370.09,210.78L1370.72,208.22L1370.66,208.03L1370.53,204.58L1371.29,204.05L1370.95,202.66L1371.17,200.8L1370.97,199.28L1371.11,197.17L1371.16,196.01L1372.08,195.27L1371.87,191.77L1371.98,190.23L1371.75,190.39L1372.32,188.02L1372.27,186.17L1372.02,184.71L1372.15,183.71L1372.7,181L1371.89,178.84L1373.05,178.73L1373.15,177.71L1373.23,175.04L1373.58,172.91L1373.5,172.55L1373.32,170.31L1373.94,169.35L1373.17,168.6L1374.12,166.05L1373.77,164.19L1373.89,162.21L1374.42,161.38L1374.19,160.2L1374.18,157.84L1374.61,156.81L1374.79,154.67L1374.72,152.26L1375.19,150.93L1375.29,150.32L1375.52,147.93L1375.42,145.3L1375.98,145.48L1375.89,142.28L1376.09,141.13L1376.01,139.01L1376.22,139.11L1376.6,136.97L1376.76,134.94L1377.05,134.12L1377.31,131.84L1377.29,130.25L1377.8,128.98L1377.62,126.2L1377.9,126.51L1378.04,124.19L1378.16,122.08L1378.33,120.8L1378.93,118.52L1378.5,115.77L1379.51,116.88L1379.41,114.02L1380.15,113.28L1380.78,110.48L1380.81,109.96L1381.02,107.76L1381,105.12L1381.19,104.72L1381.32,103.78L1381.81,102.39L1382.01,99.66L1382.28,98.96L1382.32,97.24L1383.2,96.36L1384.55,97.83L1385.02,95.86L1385.29,96.33L1385.44,93.25L1385.92,93.3L1387.23,94.82L1387.2,95.6L1387.62,97.06L1388.34,98.35L1388.64,99.43L1389.39,100.75L1388.78,103.51L1389.34,105.93L1389.05,106.87L1389.26,107.95L1389.69,109.77L1389.34,110L1390.34,113.94L1389.52,114.81L1389.69,114.61L1390.13,117.33L1389.69,118.34L1390.66,119.81L1390.2,121.59L1390.83,123.62L1391.54,124.5L1391.79,126.16L1391.93,126.96L1391.87,130.61L1392.43,131.24L1392.83,133.66L1392.75,135.06L1393.29,135.74L1393.41,137.1L1393.29,139.84L1393.44,140.29L1393.93,142.1L1394.05,143.95L1394.53,146.07L1394.77,147.6L1395.12,149.74L1395.07,150.11L1394.65,151.33L1395.52,153.94L1395.93,155.5L1395.88,156.97L1396.16,158.29L1396.2,160.79L1396.93,162.77L1396.83,164.6L1397.12,165.67L1397.27,168L1397.74,168.52L1398.4,170.1L1397.98,172.42L1399.03,172.26L1398.73,175.13L1398.9,175.95L1398.75,178.4L1399.34,179.63L1400.23,181.82L1400.18,182.77L1400.41,182.58L1400.44,184.41L1401.44,187.09L1401.32,187.27L1402.24,188.93L1401.92,189.95L1402.09,191.27L1402.93,194.43L1403.6,195.15L1403.16,195.85L1403.48,198.4L1403.72,199.5L1404.47,200.11L1404.61,202.15L1404.83,204.29L1405.28,205.78L1405.44,207.96L1405.76,209.73L1406.11,210.5L1405.85,211.99L1406.79,213.24L1406.88,215.5L1407.36,217.72L1407.38,218.37L1407.27,220.01L1408.14,221.82L1408.43,223.76L1407.99,225.65L1408.53,225.61L1409.19,227.46L1408.89,229.64L1409.27,230.26L1409.41,232.68L1408.84,234.92L1409.24,235.06L1409.78,237.87L1409.55,239L1409.87,239.92L1410.12,242.55L1410.15,244.43L1410.48,245.14L1410.41,246.86L1411.31,248.94L1411.27,249.92L1411.46,251.08L1411.4,253.21L1412,254.54L1412.15,256.63L1412.43,257.96L1413.03,259.72L1412.28,261.69L1412.45,263.19L1412.98,264.38L1413.06,265.7L1413.12,268.21L1413.37,268.69L1413.58,270.04L1413.88,270.79L1413.88,273.91L1414.54,276.04L1414.64,276.76L1414.62,278.85L1414.96,280.44L1415.19,282.4L1415.38,283.3L1416.16,285.58L1416,286.82L1416.28,288.27L1416.35,290.04L1416.46,292.07L1417.35,293.93L1416.86,294.5L1417.23,296.59L1417.61,296.76L1417.54,300.93L1418.3,301.04L1418.3,303.22L1418.49,305.08L1418.87,305.4L1419.97,306.62L1419.29,308.41L1419.77,310.1L1419.59,312.33L1419.79,314.71L1420.29,314L1420.92,316.47L1421.09,318.47L1421.48,319.18L1421.21,321.34L1421.19,323.49L1422.72,322.81L1423.15,323.62L1423.77,325.4L1424.1,327.13L1424.53,328.85L1425.33,330.06L1425.36,330.63L1425.64,333.88L1426.65,334.25L1426.59,336.57L1427.56,337.25L1428.11,339.21L1428.3,341.28L1429.56,342.18L1429.5,343.57L1429.79,344.4L1430.51,347.36L1431.2,347.69L1431.19,349.62L1431.61,350.8L1432.41,353.87L1432.89,354.53L1433.84,356.49L1433.94,357.4L1434.89,358.03L1434.98,360.26L1436.29,361.62L1436.21,362.63L1437.24,363.16L1437.35,367.19L1437.69,368.94L1438.4,369.22L1438.44,371.55L1439,372.92L1439.89,372.4L1441.15,370.54L1441.77,372.35L1442.43,372.24L1443.93,370.9L1444.59,368.65L1446.52,370.82L1448.15,372.5L1448.34,374.14L1448.88,374.91L1449.92,377.77L1449.94,376.95L1450.32,379.86L1451.31,380.97L1452.06,383.32L1452.81,385.51L1453.44,386.78L1453.98,386.97L1454.65,388.65L1455.02,389.78L1455.58,392.27L1456.78,392.91L1457.27,395.41L1457.45,397.2L1458.2,397.25L1458.66,399.45L1459.78,400.84L1460.73,401.57L1460.76,403.58L1461.32,405.6L1462.43,407.04L1462.74,408.2L1463.17,410.06L1464.12,411.86L1464.72,413.68L1465.18,415.07L1466.13,415.01L1466.46,417.65L1466.87,419.48L1467.64,420.43L1468.39,422.18L1469.07,423.7L1469.41,425.14L1470.3,426.45L1470.81,427.89L1471.43,430.66L1471.94,431.35L1472.57,432.77L1473.44,433.81L1474.04,435.62L1474.86,436.75L1475.15,438.61L1476.05,440.41L1476.56,441.56L1477.37,443.28L1477.82,445.01L1478.25,445.82L1479.17,447.6L1480,448.72L1480.96,450.14L1481.68,451.69L1482.82,453.11L1483.57,454.31L1484.51,454.84L1485.59,456.48L1486.67,457.51L1487.53,458.29L1488.71,459.47L1490.05,460.33L1491.2,461.22L1492.67,462.17L1494,463L1500,464.4L1510,464.8" fill="none" stroke="#2e2e30" stroke-width="1.9" stroke-linejoin="round" stroke-linecap="butt"/></g>
<path d="M1281.3,37.5L1709.75,37.5L1709.75,465.1L1281.3,465.1Z" fill="none" stroke="#000" stroke-width="1.9"/>
<line x1="1709.6" y1="456" x2="1709.6" y2="464.5" stroke="#f20000" stroke-width="2.1"/>
<line x1="1271.1" y1="465.1" x2="1281.3" y2="465.1" stroke="#000" stroke-width="1.85" stroke-linecap="butt"/>
<text transform="matrix(0.8571 0.0000 0.0000 0.9639 1257.9714 471.8180)" font-family='"Liberation Sans", Arial, Helvetica, sans-serif' font-size="21" fill="#000" stroke="#000" stroke-width="0.45" stroke-linejoin="round">0</text>
<line x1="1276.1" y1="422.34" x2="1281.3" y2="422.34" stroke="#000" stroke-width="1.6" stroke-linecap="butt"/>
<line x1="1271.1" y1="379.58" x2="1281.3" y2="379.58" stroke="#000" stroke-width="1.85" stroke-linecap="butt"/>
<text transform="matrix(0.8727 0.0000 0.0000 0.9639 1247.5455 386.2980)" font-family='"Liberation Sans", Arial, Helvetica, sans-serif' font-size="21" fill="#000" stroke="#000" stroke-width="0.45" stroke-linejoin="round">20</text>
<line x1="1276.1" y1="336.82" x2="1281.3" y2="336.82" stroke="#000" stroke-width="1.6" stroke-linecap="butt"/>
<line x1="1271.1" y1="294.06" x2="1281.3" y2="294.06" stroke="#000" stroke-width="1.85" stroke-linecap="butt"/>
<text transform="matrix(0.8533 0.0000 0.0000 0.9639 1247.9867 300.7780)" font-family='"Liberation Sans", Arial, Helvetica, sans-serif' font-size="21" fill="#000" stroke="#000" stroke-width="0.45" stroke-linejoin="round">40</text>
<line x1="1276.1" y1="251.3" x2="1281.3" y2="251.3" stroke="#000" stroke-width="1.6" stroke-linecap="butt"/>
<line x1="1271.1" y1="208.54" x2="1281.3" y2="208.54" stroke="#000" stroke-width="1.85" stroke-linecap="butt"/>
<text transform="matrix(0.8727 0.0000 0.0000 0.9639 1247.5455 215.2580)" font-family='"Liberation Sans", Arial, Helvetica, sans-serif' font-size="21" fill="#000" stroke="#000" stroke-width="0.45" stroke-linejoin="round">60</text>
<line x1="1276.1" y1="165.78" x2="1281.3" y2="165.78" stroke="#000" stroke-width="1.6" stroke-linecap="butt"/>
<line x1="1271.1" y1="123.02" x2="1281.3" y2="123.02" stroke="#000" stroke-width="1.85" stroke-linecap="butt"/>
<text transform="matrix(0.8727 0.0000 0.0000 0.9639 1247.5455 129.7380)" font-family='"Liberation Sans", Arial, Helvetica, sans-serif' font-size="21" fill="#000" stroke="#000" stroke-width="0.45" stroke-linejoin="round">80</text>
<line x1="1276.1" y1="80.26" x2="1281.3" y2="80.26" stroke="#000" stroke-width="1.6" stroke-linecap="butt"/>
<line x1="1271.1" y1="37.5" x2="1281.3" y2="37.5" stroke="#000" stroke-width="1.85" stroke-linecap="butt"/>
<text transform="matrix(0.8576 0.0000 0.0000 0.9639 1237.8136 44.2180)" font-family='"Liberation Sans", Arial, Helvetica, sans-serif' font-size="21" fill="#000" stroke="#000" stroke-width="0.45" stroke-linejoin="round">100</text>
<line x1="1281.3" y1="465.1" x2="1281.3" y2="475.3" stroke="#000" stroke-width="1.9" stroke-linecap="butt"/>
<text transform="matrix(0.7953 0.0000 0.0000 0.9508 1267.8071 496.4246)" font-family='"Liberation Sans", Arial, Helvetica, sans-serif' font-size="21" fill="#000" stroke="#000" stroke-width="0.45" stroke-linejoin="round">10</text>
<text transform="matrix(0.7857 0.0000 0.0000 0.9619 1288.2071 489.5595)" font-family='"Liberation Sans", Arial, Helvetica, sans-serif' font-size="14.5" fill="#000" stroke="#000" stroke-width="0.35" stroke-linejoin="round">3</text>
<line x1="1313.53" y1="465.1" x2="1313.53" y2="469.9" stroke="#000" stroke-width="1.6" stroke-linecap="butt"/>
<line x1="1332.38" y1="465.1" x2="1332.38" y2="469.9" stroke="#000" stroke-width="1.6" stroke-linecap="butt"/>
<line x1="1345.75" y1="465.1" x2="1345.75" y2="469.9" stroke="#000" stroke-width="1.6" stroke-linecap="butt"/>
<line x1="1356.12" y1="465.1" x2="1356.12" y2="469.9" stroke="#000" stroke-width="1.6" stroke-linecap="butt"/>
<line x1="1364.6" y1="465.1" x2="1364.6" y2="469.9" stroke="#000" stroke-width="1.6" stroke-linecap="butt"/>
<line x1="1371.77" y1="465.1" x2="1371.77" y2="469.9" stroke="#000" stroke-width="1.6" stroke-linecap="butt"/>
<line x1="1377.98" y1="465.1" x2="1377.98" y2="469.9" stroke="#000" stroke-width="1.6" stroke-linecap="butt"/>
<line x1="1383.45" y1="465.1" x2="1383.45" y2="469.9" stroke="#000" stroke-width="1.6" stroke-linecap="butt"/>
<line x1="1388.35" y1="465.1" x2="1388.35" y2="475.3" stroke="#000" stroke-width="1.9" stroke-linecap="butt"/>
<text transform="matrix(0.7953 0.0000 0.0000 0.9508 1374.8571 496.4246)" font-family='"Liberation Sans", Arial, Helvetica, sans-serif' font-size="21" fill="#000" stroke="#000" stroke-width="0.45" stroke-linejoin="round">10</text>
<text transform="matrix(0.7333 0.0000 0.0000 0.9854 1395.4667 489.5537)" font-family='"Liberation Sans", Arial, Helvetica, sans-serif' font-size="14.5" fill="#000" stroke="#000" stroke-width="0.35" stroke-linejoin="round">4</text>
<line x1="1420.58" y1="465.1" x2="1420.58" y2="469.9" stroke="#000" stroke-width="1.6" stroke-linecap="butt"/>
<line x1="1439.43" y1="465.1" x2="1439.43" y2="469.9" stroke="#000" stroke-width="1.6" stroke-linecap="butt"/>
<line x1="1452.8" y1="465.1" x2="1452.8" y2="469.9" stroke="#000" stroke-width="1.6" stroke-linecap="butt"/>
<line x1="1463.17" y1="465.1" x2="1463.17" y2="469.9" stroke="#000" stroke-width="1.6" stroke-linecap="butt"/>
<line x1="1471.65" y1="465.1" x2="1471.65" y2="469.9" stroke="#000" stroke-width="1.6" stroke-linecap="butt"/>
<line x1="1478.82" y1="465.1" x2="1478.82" y2="469.9" stroke="#000" stroke-width="1.6" stroke-linecap="butt"/>
<line x1="1485.03" y1="465.1" x2="1485.03" y2="469.9" stroke="#000" stroke-width="1.6" stroke-linecap="butt"/>
<line x1="1490.5" y1="465.1" x2="1490.5" y2="469.9" stroke="#000" stroke-width="1.6" stroke-linecap="butt"/>
<line x1="1495.4" y1="465.1" x2="1495.4" y2="475.3" stroke="#000" stroke-width="1.9" stroke-linecap="butt"/>
<text transform="matrix(0.7953 0.0000 0.0000 0.9508 1481.9071 496.4246)" font-family='"Liberation Sans", Arial, Helvetica, sans-serif' font-size="21" fill="#000" stroke="#000" stroke-width="0.45" stroke-linejoin="round">10</text>
<text transform="matrix(0.7857 0.0000 0.0000 0.9854 1502.3071 489.5537)" font-family='"Liberation Sans", Arial, Helvetica, sans-serif' font-size="14.5" fill="#000" stroke="#000" stroke-width="0.35" stroke-linejoin="round">5</text>
<line x1="1527.63" y1="465.1" x2="1527.63" y2="469.9" stroke="#000" stroke-width="1.6" stroke-linecap="butt"/>
<line x1="1546.48" y1="465.1" x2="1546.48" y2="469.9" stroke="#000" stroke-width="1.6" stroke-linecap="butt"/>
<line x1="1559.85" y1="465.1" x2="1559.85" y2="469.9" stroke="#000" stroke-width="1.6" stroke-linecap="butt"/>
<line x1="1570.22" y1="465.1" x2="1570.22" y2="469.9" stroke="#000" stroke-width="1.6" stroke-linecap="butt"/>
<line x1="1578.7" y1="465.1" x2="1578.7" y2="469.9" stroke="#000" stroke-width="1.6" stroke-linecap="butt"/>
<line x1="1585.87" y1="465.1" x2="1585.87" y2="469.9" stroke="#000" stroke-width="1.6" stroke-linecap="butt"/>
<line x1="1592.08" y1="465.1" x2="1592.08" y2="469.9" stroke="#000" stroke-width="1.6" stroke-linecap="butt"/>
<line x1="1597.55" y1="465.1" x2="1597.55" y2="469.9" stroke="#000" stroke-width="1.6" stroke-linecap="butt"/>
<line x1="1602.45" y1="465.1" x2="1602.45" y2="475.3" stroke="#000" stroke-width="1.9" stroke-linecap="butt"/>
<text transform="matrix(0.7953 0.0000 0.0000 0.9508 1588.9571 496.4246)" font-family='"Liberation Sans", Arial, Helvetica, sans-serif' font-size="21" fill="#000" stroke="#000" stroke-width="0.45" stroke-linejoin="round">10</text>
<text transform="matrix(0.7857 0.0000 0.0000 0.9619 1609.3571 489.5595)" font-family='"Liberation Sans", Arial, Helvetica, sans-serif' font-size="14.5" fill="#000" stroke="#000" stroke-width="0.35" stroke-linejoin="round">6</text>
<line x1="1634.68" y1="465.1" x2="1634.68" y2="469.9" stroke="#000" stroke-width="1.6" stroke-linecap="butt"/>
<line x1="1653.53" y1="465.1" x2="1653.53" y2="469.9" stroke="#000" stroke-width="1.6" stroke-linecap="butt"/>
<line x1="1666.9" y1="465.1" x2="1666.9" y2="469.9" stroke="#000" stroke-width="1.6" stroke-linecap="butt"/>
<line x1="1677.27" y1="465.1" x2="1677.27" y2="469.9" stroke="#000" stroke-width="1.6" stroke-linecap="butt"/>
<line x1="1685.75" y1="465.1" x2="1685.75" y2="469.9" stroke="#000" stroke-width="1.6" stroke-linecap="butt"/>
<line x1="1692.92" y1="465.1" x2="1692.92" y2="469.9" stroke="#000" stroke-width="1.6" stroke-linecap="butt"/>
<line x1="1699.13" y1="465.1" x2="1699.13" y2="469.9" stroke="#000" stroke-width="1.6" stroke-linecap="butt"/>
<line x1="1704.6" y1="465.1" x2="1704.6" y2="469.9" stroke="#000" stroke-width="1.6" stroke-linecap="butt"/>
<line x1="1709.5" y1="465.1" x2="1709.5" y2="475.3" stroke="#000" stroke-width="1.9" stroke-linecap="butt"/>
<text transform="matrix(0.7953 0.0000 0.0000 0.9508 1696.0071 496.4246)" font-family='"Liberation Sans", Arial, Helvetica, sans-serif' font-size="21" fill="#000" stroke="#000" stroke-width="0.45" stroke-linejoin="round">10</text>
<text transform="matrix(0.7857 0.0000 0.0000 0.9854 1716.4071 489.5537)" font-family='"Liberation Sans", Arial, Helvetica, sans-serif' font-size="14.5" fill="#000" stroke="#000" stroke-width="0.35" stroke-linejoin="round">7</text>
<text transform="matrix(0.8456 0.0000 0.0000 0.9259 1295.2702 71.0556)" font-family='"Liberation Sans", Arial, Helvetica, sans-serif' font-size="27" fill="#000" stroke="#000" stroke-width="1.15" stroke-linejoin="round">MES-OV</text>
<text transform="matrix(0.9091 0.0000 0.0000 0.8550 1643.5909 67.5588)" font-family='"Liberation Sans", Arial, Helvetica, sans-serif' font-size="27" fill="#ff0000" stroke="#ff0000" stroke-width="0.9" stroke-linejoin="round">CD9</text>
<text transform="matrix(0.9288 0.0000 0.0000 0.9500 1612.6424 99.3000)" font-family='"Liberation Sans", Arial, Helvetica, sans-serif' font-size="27" fill="#808080" stroke="#808080" stroke-width="0.9" stroke-linejoin="round">Isotype</text>
<line x1="1483.5" y1="295.25" x2="1653.5" y2="295.25" stroke="#000" stroke-width="1.5" stroke-linecap="butt"/>
<line x1="1483.5" y1="285.75" x2="1483.5" y2="303.2" stroke="#000" stroke-width="1.5" stroke-linecap="butt"/>
<line x1="1653.5" y1="285.75" x2="1653.5" y2="303.2" stroke="#000" stroke-width="1.5" stroke-linecap="butt"/>
<text transform="matrix(1.0047 0.0000 0.0000 0.9383 1603.2465 286.2963)" font-family='"Liberation Sans", Arial, Helvetica, sans-serif' font-size="27" fill="#000" stroke="#000" stroke-width="1.25" stroke-linejoin="round">97%</text>
<text transform="matrix(1.0238 0.0000 0.0000 1.0000 1471.4405 529.7500)" font-family='"Liberation Sans", Arial, Helvetica, sans-serif' font-size="30" fill="#000">FITC</text>
<path d="M1758.6,37L1720.25,37L1720.25,109.5L1758.6,109.5" fill="none" stroke="#cbcbcb" stroke-width="1.5"/>
<rect x="1725.4" y="42.15" width="28.45" height="27.7" fill="#fff1f1" stroke="#f20000" stroke-width="2.8"/>
<rect x="1724.9" y="77.15" width="29.45" height="28.7" fill="#c0bfc3" stroke="#38383a" stroke-width="1.8"/>
<text transform="matrix(0.0000 -0.8378 1.1039 0.0000 1213.1981 282.6284)" font-family='"Liberation Sans", Arial, Helvetica, sans-serif' font-size="27" fill="#000" stroke="#000" stroke-width="0.3" stroke-linejoin="round">%Max</text>
<g clip-path="url(#cpB1)"><path d="M140,1026.3L150,1023.75L151.25,1022.97L152.5,1022.08L153.7,1021.33L155,1020.45L156.02,1019.38L156.99,1018.33L157.99,1017.19L158.99,1016.06L159.99,1014.89L160.65,1013.4L161.28,1012.02L162.03,1010.55L162.66,1009.02L163.28,1007.4L164.05,1005.96L164.5,1004.45L165.01,1002.87L165.42,1001.25L166,999.7L166.53,998.19L167.01,996.59L167.49,994.79L167.75,993.4L168.07,992L168.4,990.25L168.65,988.91L168.9,987.34L169.13,985.57L169.46,984.18L169.77,982.38L170.08,981.1L170.17,979.49L170.46,977.93L170.52,976.58L170.78,974.72L170.98,973.3L171.25,972.06L171.42,970.11L171.69,968.73L171.91,967.4L172.18,965.5L172.3,964.2L172.59,962.56L172.68,960.9L172.82,959.48L173.13,958L173.18,956.25L173.31,954.44L173.56,952.6L173.78,951.4L173.91,949.83L174.11,948.25L174.27,946.53L174.52,945.02L174.65,943.58L174.88,942.32L174.85,940.36L175.08,938.73L175.18,937.53L175.29,935.44L175.4,933.91L175.7,932.75L175.76,930.9L175.78,929.53L175.94,928.14L176.06,926.41L176.29,925.08L176.43,923.36L176.51,921.83L176.67,920.24L176.72,918.83L176.86,917.37L176.96,915.65L177.1,914.16L177.3,912.56L177.24,910.95L177.47,909.24L177.64,908.16L177.74,906.21L177.81,904.62L177.8,903.18L178.2,901.5L178.29,899.97L178.26,898.49L178.44,896.62L178.53,895.27L178.65,893.86L178.74,892.15L178.94,890.62L178.91,889.05L179.06,887.66L179.24,885.73L179.39,884.54L179.35,882.86L179.63,881.32L179.75,879.83L179.93,878.29L179.98,876.68L180.04,875.41L180.09,873.35L180.23,871.93L180.2,870.46L180.28,868.58L180.38,867.28L180.57,865.48L180.67,863.91L180.78,862.2L180.91,860.81L180.97,859.16L181.1,857.57L181.2,856.23L181.33,854.36L181.24,852.72L181.43,851.27L181.47,849.88L181.76,848.1L181.66,846.54L181.81,845.01L181.94,843.33L182.06,841.65L182.01,839.86L182.16,838.45L182.35,836.81L182.37,835.14L182.54,833.66L182.53,832.05L182.64,830.35L182.66,828.79L182.69,827.29L183.06,825.62L183,823.74L183.17,822.13L183.3,820.62L183.35,819.22L183.42,817.24L183.59,815.76L183.57,814.1L183.61,812.55L183.75,811.17L183.92,809.35L183.86,807.72L184.07,805.97L184.21,804.43L184.17,802.68L184.21,801.19L184.34,799.44L184.48,797.81L184.47,796.4L184.55,794.56L184.77,792.86L184.8,791.1L184.79,789.8L185.02,788.01L184.83,786.18L185.13,784.87L185.22,783.38L185.13,781.84L185.31,780.07L185.4,778.51L185.51,776.68L185.69,775.26L185.72,773.6L185.82,772.2L185.95,770.58L185.9,769.05L186.14,767.58L186.27,766.09L186.3,764.46L186.35,762.9L186.51,760.98L186.61,759.64L186.79,758.29L186.75,756.47L186.96,755.13L187.1,753.4L187.25,751.92L187.33,750.3L187.4,748.66L187.54,747.18L187.67,745.65L187.74,744.2L187.95,742.49L188,741.19L188.16,739.38L188.23,738.06L188.4,736.15L188.45,734.89L188.44,733L188.65,731.53L188.76,730.2L188.89,728.56L189,727.09L189.12,725.15L189.22,723.71L189.33,722.13L189.39,720.51L189.57,718.88L189.63,717.62L189.83,715.94L190.03,714.47L190,712.48L190.2,711.28L190.25,709.55L190.4,708.2L190.5,706.54L190.62,704.94L190.63,703.42L190.88,701.81L191.01,700.11L191.17,698.9L191.17,697.17L191.31,695.63L191.45,693.93L191.55,692.5L191.67,690.8L191.69,689.37L191.85,687.86L192.11,686.4L192.18,684.59L192.31,682.87L192.35,681.58L192.65,680.13L192.76,678.1L192.77,676.59L192.94,674.99L193.19,673.54L193.36,671.51L193.58,670.07L193.67,668.05L193.85,666.77L194.07,665.26L194.27,663.34L194.45,662.11L194.57,660.49L194.72,658.92L194.8,657.29L195.16,655.6L195.34,654.22L195.48,652.48L195.86,650.76L196.08,649.38L196.43,647.38L196.69,645.68L197.05,644.02L197.68,642.59L198.18,641.42L198.87,639.98L199.33,641.51L199.83,642.46L200.61,644L200.81,645.83L201.32,647.52L201.73,648.91L201.99,650.66L202.47,652.71L202.72,653.83L202.91,655.47L203.12,656.83L203.33,658.33L203.5,659.66L203.65,661.42L203.95,663.47L204.09,664.59L204.31,665.89L204.41,667.72L204.73,669.1L205.04,670.6L205.3,672.05L205.29,673.88L205.59,675.47L205.85,676.69L206.15,678.45L206.12,680.01L206.45,681.71L206.84,683.14L206.98,684.81L207.28,686.4L207.65,687.94L207.83,689.26L208.18,691.22L208.48,692.43L208.66,693.8L208.93,695.59L209.13,697.43L209.41,699.09L209.76,700.47L209.94,702.05L210.26,703.59L210.53,704.93L210.88,706.74L211.18,708.22L211.54,709.89L211.74,711.25L211.98,713.07L212.23,714.58L212.68,716.13L212.86,718.02L213.14,719.45L213.5,721.04L213.77,722.53L213.94,724.15L214.33,725.89L214.56,727.41L214.7,728.93L215.16,730.69L215.41,732.29L215.75,733.72L215.9,735.35L216.19,737.12L216.41,738.59L216.67,740.49L217.01,742.18L217.31,743.72L217.42,744.86L217.57,746.58L217.85,748.48L218.15,749.72L218.3,751.31L218.67,753.17L218.93,754.77L219.11,756.05L219.25,757.67L219.52,759.36L219.85,760.83L219.96,762.69L220.19,764.11L220.42,765.55L220.62,767.13L220.87,768.78L221.15,770.31L221.43,772.08L221.54,773.71L221.8,774.99L222.01,776.76L222.27,778.35L222.48,780.07L222.85,781.48L223.1,783.13L223.3,784.69L223.48,786.07L223.68,787.9L223.87,789.46L224.07,790.83L224.38,792.3L224.72,794.13L224.88,795.53L225.07,797.01L225.34,798.74L225.51,800.21L225.68,801.82L225.99,803.4L226.27,805.03L226.48,806.76L226.54,808.27L226.68,809.59L226.91,811.38L226.91,812.56L227.28,814.69L227.35,816.06L227.57,817.36L227.7,819.31L227.99,820.52L228.02,822.34L228.19,823.96L228.5,825.77L228.56,827.14L228.8,828.39L228.88,830.23L229.14,832L229.14,833.27L229.36,834.69L229.69,836.26L229.9,838.36L229.98,839.99L230.09,841.52L230.25,842.92L230.53,844.2L230.62,846.23L230.82,847.88L231.16,849.61L231.13,850.63L231.45,852.65L231.51,853.84L231.85,855.76L231.95,857.24L232.28,858.85L232.28,860.54L232.53,862.02L232.65,863.67L232.96,865.04L233.02,866.85L233.34,868.12L233.4,869.98L233.66,871.06L233.81,872.85L234.02,874.58L234.25,876.16L234.5,877.51L234.66,879.17L234.86,880.82L234.96,882.26L235.15,883.88L235.49,885.71L235.49,887.15L235.78,888.62L236.02,890.07L236.25,891.83L236.49,893.3L236.67,894.5L236.75,896.28L237.1,897.96L237.3,899.32L237.57,900.77L237.71,902.5L237.96,903.76L238.06,905.56L238.42,907L238.56,908.84L238.77,910.02L239.08,911.54L239.26,912.99L239.53,914.8L239.74,916.45L240.08,917.72L240.28,919.37L240.51,921.33L240.74,922.76L241.07,924.1L241.31,925.57L241.54,927.29L241.69,928.95L242.15,930.57L242.49,932.12L242.83,933.79L243.15,935.47L243.4,937.13L243.5,938.43L244.11,940.09L244.24,941.49L244.74,943.26L244.96,945.14L245.18,946.53L245.65,948.3L245.9,949.89L246.24,951.39L246.52,953.11L246.71,954.56L247.17,956.34L247.38,957.84L247.61,959.39L248.02,961.03L248.41,962.74L248.81,964.18L249.11,965.69L249.4,967.2L249.89,968.66L250.14,970.63L250.45,972.01L250.94,973.51L251.26,974.93L251.72,976.46L252.23,977.81L252.69,979.7L253.15,981.08L253.61,982.65L254.03,984.12L254.49,985.4L254.99,986.93L255.5,988.63L256.09,990.11L256.64,991.62L257.16,993.14L257.63,994.39L258.18,995.95L258.79,997.48L259.63,998.79L260.43,1000.3L261.37,1001.67L262.15,1003.08L263.01,1004.61L264.17,1005.72L265.24,1007.27L266.39,1008.66L267.55,1009.97L268.75,1010.88L269.88,1012.06L271.18,1012.92L272.29,1013.95L273.51,1014.95L274.76,1015.72L276.11,1016.46L277.4,1017.31L278.7,1017.96L279.99,1018.71L281.41,1019.39L282.8,1019.69L284.2,1020.29L285.6,1020.8L287.02,1021.4L288.61,1021.72L290.19,1022.1L291.75,1022.54L293.37,1022.83L295.01,1023.32L296.47,1023.45L298,1023.64L299.5,1023.83L301,1024.03L302.5,1024.22L304,1024.41L305.5,1024.61L307,1024.8L320,1025.75L345,1026.3L345,1026.6L140,1026.6Z" fill="#9e9da4" fill-opacity="0.66" stroke="none"/>
<path d="M140,1026.3L150,1023.75L151.25,1022.97L152.5,1022.08L153.7,1021.33L155,1020.45L156.02,1019.38L156.99,1018.33L157.99,1017.19L158.99,1016.06L159.99,1014.89L160.65,1013.4L161.28,1012.02L162.03,1010.55L162.66,1009.02L163.28,1007.4L164.05,1005.96L164.5,1004.45L165.01,1002.87L165.42,1001.25L166,999.7L166.53,998.19L167.01,996.59L167.49,994.79L167.75,993.4L168.07,992L168.4,990.25L168.65,988.91L168.9,987.34L169.13,985.57L169.46,984.18L169.77,982.38L170.08,981.1L170.17,979.49L170.46,977.93L170.52,976.58L170.78,974.72L170.98,973.3L171.25,972.06L171.42,970.11L171.69,968.73L171.91,967.4L172.18,965.5L172.3,964.2L172.59,962.56L172.68,960.9L172.82,959.48L173.13,958L173.18,956.25L173.31,954.44L173.56,952.6L173.78,951.4L173.91,949.83L174.11,948.25L174.27,946.53L174.52,945.02L174.65,943.58L174.88,942.32L174.85,940.36L175.08,938.73L175.18,937.53L175.29,935.44L175.4,933.91L175.7,932.75L175.76,930.9L175.78,929.53L175.94,928.14L176.06,926.41L176.29,925.08L176.43,923.36L176.51,921.83L176.67,920.24L176.72,918.83L176.86,917.37L176.96,915.65L177.1,914.16L177.3,912.56L177.24,910.95L177.47,909.24L177.64,908.16L177.74,906.21L177.81,904.62L177.8,903.18L178.2,901.5L178.29,899.97L178.26,898.49L178.44,896.62L178.53,895.27L178.65,893.86L178.74,892.15L178.94,890.62L178.91,889.05L179.06,887.66L179.24,885.73L179.39,884.54L179.35,882.86L179.63,881.32L179.75,879.83L179.93,878.29L179.98,876.68L180.04,875.41L180.09,873.35L180.23,871.93L180.2,870.46L180.28,868.58L180.38,867.28L180.57,865.48L180.67,863.91L180.78,862.2L180.91,860.81L180.97,859.16L181.1,857.57L181.2,856.23L181.33,854.36L181.24,852.72L181.43,851.27L181.47,849.88L181.76,848.1L181.66,846.54L181.81,845.01L181.94,843.33L182.06,841.65L182.01,839.86L182.16,838.45L182.35,836.81L182.37,835.14L182.54,833.66L182.53,832.05L182.64,830.35L182.66,828.79L182.69,827.29L183.06,825.62L183,823.74L183.17,822.13L183.3,820.62L183.35,819.22L183.42,817.24L183.59,815.76L183.57,814.1L183.61,812.55L183.75,811.17L183.92,809.35L183.86,807.72L184.07,805.97L184.21,804.43L184.17,802.68L184.21,801.19L184.34,799.44L184.48,797.81L184.47,796.4L184.55,794.56L184.77,792.86L184.8,791.1L184.79,789.8L185.02,788.01L184.83,786.18L185.13,784.87L185.22,783.38L185.13,781.84L185.31,780.07L185.4,778.51L185.51,776.68L185.69,775.26L185.72,773.6L185.82,772.2L185.95,770.58L185.9,769.05L186.14,767.58L186.27,766.09L186.3,764.46L186.35,762.9L186.51,760.98L186.61,759.64L186.79,758.29L186.75,756.47L186.96,755.13L187.1,753.4L187.25,751.92L187.33,750.3L187.4,748.66L187.54,747.18L187.67,745.65L187.74,744.2L187.95,742.49L188,741.19L188.16,739.38L188.23,738.06L188.4,736.15L188.45,734.89L188.44,733L188.65,731.53L188.76,730.2L188.89,728.56L189,727.09L189.12,725.15L189.22,723.71L189.33,722.13L189.39,720.51L189.57,718.88L189.63,717.62L189.83,715.94L190.03,714.47L190,712.48L190.2,711.28L190.25,709.55L190.4,708.2L190.5,706.54L190.62,704.94L190.63,703.42L190.88,701.81L191.01,700.11L191.17,698.9L191.17,697.17L191.31,695.63L191.45,693.93L191.55,692.5L191.67,690.8L191.69,689.37L191.85,687.86L192.11,686.4L192.18,684.59L192.31,682.87L192.35,681.58L192.65,680.13L192.76,678.1L192.77,676.59L192.94,674.99L193.19,673.54L193.36,671.51L193.58,670.07L193.67,668.05L193.85,666.77L194.07,665.26L194.27,663.34L194.45,662.11L194.57,660.49L194.72,658.92L194.8,657.29L195.16,655.6L195.34,654.22L195.48,652.48L195.86,650.76L196.08,649.38L196.43,647.38L196.69,645.68L197.05,644.02L197.68,642.59L198.18,641.42L198.87,639.98L199.33,641.51L199.83,642.46L200.61,644L200.81,645.83L201.32,647.52L201.73,648.91L201.99,650.66L202.47,652.71L202.72,653.83L202.91,655.47L203.12,656.83L203.33,658.33L203.5,659.66L203.65,661.42L203.95,663.47L204.09,664.59L204.31,665.89L204.41,667.72L204.73,669.1L205.04,670.6L205.3,672.05L205.29,673.88L205.59,675.47L205.85,676.69L206.15,678.45L206.12,680.01L206.45,681.71L206.84,683.14L206.98,684.81L207.28,686.4L207.65,687.94L207.83,689.26L208.18,691.22L208.48,692.43L208.66,693.8L208.93,695.59L209.13,697.43L209.41,699.09L209.76,700.47L209.94,702.05L210.26,703.59L210.53,704.93L210.88,706.74L211.18,708.22L211.54,709.89L211.74,711.25L211.98,713.07L212.23,714.58L212.68,716.13L212.86,718.02L213.14,719.45L213.5,721.04L213.77,722.53L213.94,724.15L214.33,725.89L214.56,727.41L214.7,728.93L215.16,730.69L215.41,732.29L215.75,733.72L215.9,735.35L216.19,737.12L216.41,738.59L216.67,740.49L217.01,742.18L217.31,743.72L217.42,744.86L217.57,746.58L217.85,748.48L218.15,749.72L218.3,751.31L218.67,753.17L218.93,754.77L219.11,756.05L219.25,757.67L219.52,759.36L219.85,760.83L219.96,762.69L220.19,764.11L220.42,765.55L220.62,767.13L220.87,768.78L221.15,770.31L221.43,772.08L221.54,773.71L221.8,774.99L222.01,776.76L222.27,778.35L222.48,780.07L222.85,781.48L223.1,783.13L223.3,784.69L223.48,786.07L223.68,787.9L223.87,789.46L224.07,790.83L224.38,792.3L224.72,794.13L224.88,795.53L225.07,797.01L225.34,798.74L225.51,800.21L225.68,801.82L225.99,803.4L226.27,805.03L226.48,806.76L226.54,808.27L226.68,809.59L226.91,811.38L226.91,812.56L227.28,814.69L227.35,816.06L227.57,817.36L227.7,819.31L227.99,820.52L228.02,822.34L228.19,823.96L228.5,825.77L228.56,827.14L228.8,828.39L228.88,830.23L229.14,832L229.14,833.27L229.36,834.69L229.69,836.26L229.9,838.36L229.98,839.99L230.09,841.52L230.25,842.92L230.53,844.2L230.62,846.23L230.82,847.88L231.16,849.61L231.13,850.63L231.45,852.65L231.51,853.84L231.85,855.76L231.95,857.24L232.28,858.85L232.28,860.54L232.53,862.02L232.65,863.67L232.96,865.04L233.02,866.85L233.34,868.12L233.4,869.98L233.66,871.06L233.81,872.85L234.02,874.58L234.25,876.16L234.5,877.51L234.66,879.17L234.86,880.82L234.96,882.26L235.15,883.88L235.49,885.71L235.49,887.15L235.78,888.62L236.02,890.07L236.25,891.83L236.49,893.3L236.67,894.5L236.75,896.28L237.1,897.96L237.3,899.32L237.57,900.77L237.71,902.5L237.96,903.76L238.06,905.56L238.42,907L238.56,908.84L238.77,910.02L239.08,911.54L239.26,912.99L239.53,914.8L239.74,916.45L240.08,917.72L240.28,919.37L240.51,921.33L240.74,922.76L241.07,924.1L241.31,925.57L241.54,927.29L241.69,928.95L242.15,930.57L242.49,932.12L242.83,933.79L243.15,935.47L243.4,937.13L243.5,938.43L244.11,940.09L244.24,941.49L244.74,943.26L244.96,945.14L245.18,946.53L245.65,948.3L245.9,949.89L246.24,951.39L246.52,953.11L246.71,954.56L247.17,956.34L247.38,957.84L247.61,959.39L248.02,961.03L248.41,962.74L248.81,964.18L249.11,965.69L249.4,967.2L249.89,968.66L250.14,970.63L250.45,972.01L250.94,973.51L251.26,974.93L251.72,976.46L252.23,977.81L252.69,979.7L253.15,981.08L253.61,982.65L254.03,984.12L254.49,985.4L254.99,986.93L255.5,988.63L256.09,990.11L256.64,991.62L257.16,993.14L257.63,994.39L258.18,995.95L258.79,997.48L259.63,998.79L260.43,1000.3L261.37,1001.67L262.15,1003.08L263.01,1004.61L264.17,1005.72L265.24,1007.27L266.39,1008.66L267.55,1009.97L268.75,1010.88L269.88,1012.06L271.18,1012.92L272.29,1013.95L273.51,1014.95L274.76,1015.72L276.11,1016.46L277.4,1017.31L278.7,1017.96L279.99,1018.71L281.41,1019.39L282.8,1019.69L284.2,1020.29L285.6,1020.8L287.02,1021.4L288.61,1021.72L290.19,1022.1L291.75,1022.54L293.37,1022.83L295.01,1023.32L296.47,1023.45L298,1023.64L299.5,1023.83L301,1024.03L302.5,1024.22L304,1024.41L305.5,1024.61L307,1024.8L320,1025.75L345,1026.3" fill="none" stroke="#2e2e30" stroke-width="1.9" stroke-linejoin="round" stroke-linecap="butt"/></g>
<g clip-path="url(#cpB1)"><path d="M97.4,1026.36L99.5,1026.36L120,1026.45L140,1026.4L150,1026.18L160,1023.75L161.73,1023.35L163.47,1023.16L165.41,1022.59L166.86,1022.06L168.33,1021.59L169.74,1020.58L171.4,1020.65L172.4,1020.14L173.3,1018.56L174.56,1017.44L175.4,1016.44L176.48,1015.32L177.17,1013.68L177.83,1012.43L178.49,1010.67L179.37,1008.74L180.08,1007.61L180.44,1005.9L180.84,1004.49L181.31,1003.04L182.15,1001.32L182.11,999.74L182.79,998.29L183.3,996.46L183.78,994.94L183.86,993.31L184.36,992.91L184.99,991.65L185.23,989.8L185.28,988.67L185.27,987.44L186.07,984.83L186.59,983.57L186.94,982.74L187.01,980.89L187.28,978.89L187.89,977.61L188.1,976.38L188.45,974.09L188.65,972.4L189.15,970.79L188.99,969.82L189.63,968.19L189.69,966.82L190.11,965.44L190.69,963.22L191.11,962.15L191.25,959.66L191.43,959.64L191.06,956.35L191.91,955.7L192.43,954.01L192.09,953.94L192.73,950.38L192.91,950.18L192.53,946.19L193.38,945.85L193.91,945.4L193.59,942.87L193.65,940.24L194.28,940.26L194.69,939.67L194.67,937.22L194.7,934.28L195.28,932.99L194.96,931.93L195.53,928.33L195.49,928.49L195.36,927.31L195.98,924.78L195.79,922.66L197.18,921.55L196.9,920.76L197.49,918.96L197.53,917.1L197.3,915.08L197.67,914.31L197.98,911.74L198.07,911.05L199.15,909.64L198.11,907.59L198.65,906.36L199.33,904.9L199.96,903.13L199.47,901.8L199.41,899.97L199.15,899.6L200.45,897.46L200.7,896.64L200.47,893.17L200.68,891.9L200.77,889.84L200.82,890.23L201.33,887.63L202.08,886.19L201.05,885.02L201.61,882.98L201.92,880.13L202,880L202.61,877.16L202.5,876.67L202.46,873.67L202.61,874.49L203.15,871.07L203.3,871.56L203.26,869.82L202.85,868.02L203.43,865.17L204.04,864.4L204.02,862.9L203.58,861.62L204.22,858.22L204.09,856.17L204.53,856.28L204.57,854.43L204.56,853.29L205.18,850.77L204.93,850.04L204.72,847.39L205.17,845.24L205.69,845.16L205.76,845.17L205.77,842.29L205.66,840.32L206.41,838.89L206.23,837.31L206.75,836.31L205.89,833.45L206.96,834.46L206.83,831.13L206.6,830.52L207.13,826.93L207.81,825.26L207.65,824.27L207.18,823.44L208.27,820.86L208.19,820.28L207.91,818.51L208.44,816L208.08,816.07L208.26,813.6L208.98,810.84L209.38,810.57L209.19,809.69L208.75,808.13L209.01,805.12L209.27,805.39L208.94,802.77L209.95,801.21L209.15,799.5L209.39,798.49L209.73,795.77L209.56,793.53L209.96,794.82L209.85,793.46L210.27,792.03L210.3,790.01L210.9,787.34L210.64,786.17L210.83,784.03L211.6,781.84L211.63,781.54L212.53,779.2L212.02,777.67L212.71,775.99L212.34,776.01L212.78,774.03L213.11,771.1L213.98,769.3L213.64,769.87L213.54,767.81L214.31,766.34L214.42,765.8L214.82,763.11L214.24,762.54L215.11,759.42L216,758.58L215.5,755.75L215.44,755.3L215.77,753.53L215.98,752.52L216.54,749.51L216.32,750.3L216.76,746.56L216.94,746.7L217.25,744.14L216.52,743.52L217.09,741.49L217.66,741.22L217.8,739.04L218.33,735.83L218.41,735.67L218.35,733.35L218.53,732.36L219.15,729.92L218.81,727.52L219.21,726.76L219.57,725.77L219.87,724.38L220.18,722.36L220.43,720.71L220.01,719.66L220.24,717.47L221.25,715.83L221.41,714.42L221.59,713.53L221.53,711.52L221.21,709.58L222.17,707.67L222.4,706.99L222.35,705.09L223.34,703.39L223.65,701.37L223.51,701.08L224.09,698.42L224.05,696.54L224.31,695.8L224.74,694.28L224.78,693.01L224.97,691.51L226.17,688.66L226.34,686.83L225.75,686.72L226.69,683.96L227.48,682.41L227.17,680.96L228.56,679.34L228.07,676.72L228.31,675.93L228.76,674L229.79,673.38L229.77,672.97L230.65,669.95L229.46,667.82L231.09,668.08L230.81,665.29L231.17,664.28L231.14,661.4L231.56,661.71L232.18,658.14L232.12,658.11L232.4,655.49L232.48,655.39L232.93,653.67L232.79,652.6L233.67,649.87L233.56,647.85L233.64,649.12L234.76,644.64L235.51,644.02L236.27,645.67L237.23,647.75L237.96,644.84L238.85,643.78L240,643.61L240.55,643.25L242.3,642.3L243.08,640.36L244.86,639.18L245.53,638.3L247.8,640.29L247.6,641.45L248.04,642.46L248.42,642.97L249.66,647.02L249.96,645.67L250.89,647.93L252.07,647L253.79,646.08L254.22,645.45L254.96,643.45L255.36,642.3L256.57,642.48L257.2,640.49L257.45,644.27L257.77,646.27L258.74,646.34L259.76,649.05L260.56,650.17L260.66,650.24L261.91,651.32L261.42,653.62L261.79,656.8L262.55,657.47L262.24,658.59L262.9,659.74L262.94,661.67L263.4,663.71L263.48,666.13L263.88,666.86L264.29,667.92L264.52,669.16L264.89,671.21L264.85,672.23L265.6,673.11L265.96,674.49L266.09,676.15L267.07,677.25L267.09,679.99L267.31,681.46L267.66,681.53L268.39,684.56L268.56,686.43L268.48,687.64L269.12,688.08L270,690.77L269.59,693.45L270.63,694.17L270.49,696.32L270.98,697.18L270.99,698.87L272.1,701.45L272.3,701.65L272.1,704.9L272.54,703.04L273.23,706.78L273.49,708.38L274.69,709.92L274.78,710.28L274.57,714.27L275.28,715.84L275.69,715.71L276.96,716.64L277.63,718.02L278.38,719.62L278.4,722.03L278.21,720.81L278.96,724.62L279.78,725.25L280.72,726.45L281.25,727.52L282.85,729.47L282.93,730.34L283.17,734.14L283.82,734.05L284.66,736.16L284.7,738.18L284.99,740.33L285.98,740.46L286.57,741.62L287.45,744.27L287.78,746.78L288.3,746.51L288.91,747.76L289.64,750.22L289.88,752.38L290.19,752.91L290.31,755.03L290.73,756.16L291.01,758.37L292.02,758.33L291.7,761.49L291.92,761.61L292.12,762.41L293.33,764.46L293.68,766.62L294.33,768.56L294.58,770.38L295.18,770.83L295.04,773.09L295.39,774.36L296.04,776.38L295.99,777.41L296.33,779.49L296.94,779.5L297.34,783.78L297.93,783.6L298.22,786.8L298.94,788.82L299.84,789.61L300.12,790.35L300.12,793.64L300.68,793.47L301.51,795.83L301.21,796.03L302.44,798.38L302.91,799.79L303.16,799.5L304.07,803.09L304.09,803.76L304.85,806.59L304.73,808.88L305.47,808.98L305.48,810.93L305.97,811.28L306.04,813.97L306.6,814.98L307.71,816.76L307.76,817.96L308.73,819.36L308.83,821.17L308.93,822.74L309.13,824.14L309.46,825.86L309.99,827.31L310.98,828.49L311.53,831.83L312.6,831.75L313.6,834.25L314.25,835.22L315.42,836.24L315.81,836.96L316.53,839.9L317.32,840.62L318.25,842.15L318.45,842.82L319.5,845.14L319.91,846.19L319.38,848.06L320.05,848.93L320.62,850.66L321.53,850.99L321.78,853.71L322.65,855.26L323.19,856.92L323.61,857.72L324.11,858.89L324.47,859.08L325.1,863.72L324.93,863.84L325.73,866.7L326.22,868.22L326.23,868.88L326.41,869.62L326.82,870.65L326.52,874.07L327.76,875.05L328.05,874.93L328.76,878.37L328.58,879.44L329.26,880.43L329.4,882.03L329.9,883.98L329.73,884.71L330.85,886.67L330.64,888.16L331.47,889.33L331.58,891.44L332.16,892.52L332.77,894.97L333.29,894.19L333.39,898.42L334.24,899.15L334.62,899.89L335.24,901.88L335.54,902.36L336.25,905.16L336.47,907.51L337.29,908.85L338.1,909.12L338.66,910.4L339.12,912.9L340.82,914.93L341.17,913.24L342.13,910.26L344.03,911L344.51,910.5L345.43,914.53L345.84,915.75L345.83,916.5L346.44,917.15L347.27,920.65L348.3,920.07L348.18,923.55L349.32,924.86L349.4,926.08L349.85,927.8L350.76,927.22L351.25,930.09L351.64,930.93L352.53,932.96L353.71,933.77L354.72,936.46L355.71,936.65L356.87,937.22L357.37,939.9L358.93,940.27L359.61,941.23L360.4,943.87L361.68,944.14L361.93,944.58L362.61,945L363.55,947.38L363.9,948.09L365.28,950.79L365.96,951.07L366.24,952.41L367.94,954.59L368.29,955.97L369.74,957.12L370.55,958.69L370.99,959.55L371.03,962.06L372.36,963.36L373.52,962.86L374.71,964.12L376.15,965.98L377.14,967.23L378.07,968.53L379.46,968.86L380.01,970.49L381.72,972.32L382.34,971.41L383.6,974.24L384.68,975.1L386.66,975.23L387.38,976.91L388.5,977.54L390.07,978.22L390.9,980.97L392.48,981.83L393.1,983.16L395.18,983.5L396.08,985.17L397.5,985.47L398.62,985.92L399.87,987.71L401.47,986.84L402.74,985.87L403.9,986.2L405.6,986.54L407.52,986.5L408.58,987.86L409.67,988.14L410.62,989.33L412.01,990.77L413.43,992.97L415.44,993.58L416.82,994.09L418.34,994.91L419.98,994.85L421.77,996.44L423.3,997.88L424.9,998.2L426.37,998.77L428.08,999.61L429.38,1000.93L430.83,1001.44L432.43,1001.88L433.66,1003.3L434.73,1003.82L436.31,1004.34L437.36,1004.84L439.12,1005.98L440.36,1006.45L442.26,1007.96L443.56,1008.98L444.81,1010.04L446.38,1010.48L448.09,1010.61L449.35,1010.9L451.12,1010.33L452.33,1010.22L453.56,1010.86L455.24,1010.97L456.57,1011.31L458.42,1011.88L459.98,1012.88L461.74,1012.65L463.39,1014.01L465.21,1014.67L466.85,1014.86L468.31,1014.78L469.9,1015.76L471.46,1016.19L473.57,1016.82L474.84,1017.73L476.76,1017.86L478.34,1017.3L480.19,1017.65L481.66,1018.05L483.29,1017.96L485.25,1018.79L486.8,1018.81L488.31,1020.18L490.09,1019.99L491.81,1020.42L493.61,1020.61L494.96,1021.13L496.81,1022.1L498.49,1022.48L500.3,1022.4L501.51,1023.03L503.31,1023.74L505,1023.75L506.29,1023.31L507.63,1022.28L508.9,1022.42L510.53,1022.65L512.6,1021.57L514.11,1022.16L515.64,1022.86L517.01,1023.45L518.27,1023.07L519.83,1023.6L521.25,1023.75L522.97,1023.93L524.3,1023.4L524.3,1026.6L97.4,1026.6Z" fill="#ee00ee" fill-opacity="0.09" stroke="none"/>
<path d="M97.4,1026.36L99.5,1026.36L120,1026.45L140,1026.4L150,1026.18L160,1023.75L161.73,1023.35L163.47,1023.16L165.41,1022.59L166.86,1022.06L168.33,1021.59L169.74,1020.58L171.4,1020.65L172.4,1020.14L173.3,1018.56L174.56,1017.44L175.4,1016.44L176.48,1015.32L177.17,1013.68L177.83,1012.43L178.49,1010.67L179.37,1008.74L180.08,1007.61L180.44,1005.9L180.84,1004.49L181.31,1003.04L182.15,1001.32L182.11,999.74L182.79,998.29L183.3,996.46L183.78,994.94L183.86,993.31L184.36,992.91L184.99,991.65L185.23,989.8L185.28,988.67L185.27,987.44L186.07,984.83L186.59,983.57L186.94,982.74L187.01,980.89L187.28,978.89L187.89,977.61L188.1,976.38L188.45,974.09L188.65,972.4L189.15,970.79L188.99,969.82L189.63,968.19L189.69,966.82L190.11,965.44L190.69,963.22L191.11,962.15L191.25,959.66L191.43,959.64L191.06,956.35L191.91,955.7L192.43,954.01L192.09,953.94L192.73,950.38L192.91,950.18L192.53,946.19L193.38,945.85L193.91,945.4L193.59,942.87L193.65,940.24L194.28,940.26L194.69,939.67L194.67,937.22L194.7,934.28L195.28,932.99L194.96,931.93L195.53,928.33L195.49,928.49L195.36,927.31L195.98,924.78L195.79,922.66L197.18,921.55L196.9,920.76L197.49,918.96L197.53,917.1L197.3,915.08L197.67,914.31L197.98,911.74L198.07,911.05L199.15,909.64L198.11,907.59L198.65,906.36L199.33,904.9L199.96,903.13L199.47,901.8L199.41,899.97L199.15,899.6L200.45,897.46L200.7,896.64L200.47,893.17L200.68,891.9L200.77,889.84L200.82,890.23L201.33,887.63L202.08,886.19L201.05,885.02L201.61,882.98L201.92,880.13L202,880L202.61,877.16L202.5,876.67L202.46,873.67L202.61,874.49L203.15,871.07L203.3,871.56L203.26,869.82L202.85,868.02L203.43,865.17L204.04,864.4L204.02,862.9L203.58,861.62L204.22,858.22L204.09,856.17L204.53,856.28L204.57,854.43L204.56,853.29L205.18,850.77L204.93,850.04L204.72,847.39L205.17,845.24L205.69,845.16L205.76,845.17L205.77,842.29L205.66,840.32L206.41,838.89L206.23,837.31L206.75,836.31L205.89,833.45L206.96,834.46L206.83,831.13L206.6,830.52L207.13,826.93L207.81,825.26L207.65,824.27L207.18,823.44L208.27,820.86L208.19,820.28L207.91,818.51L208.44,816L208.08,816.07L208.26,813.6L208.98,810.84L209.38,810.57L209.19,809.69L208.75,808.13L209.01,805.12L209.27,805.39L208.94,802.77L209.95,801.21L209.15,799.5L209.39,798.49L209.73,795.77L209.56,793.53L209.96,794.82L209.85,793.46L210.27,792.03L210.3,790.01L210.9,787.34L210.64,786.17L210.83,784.03L211.6,781.84L211.63,781.54L212.53,779.2L212.02,777.67L212.71,775.99L212.34,776.01L212.78,774.03L213.11,771.1L213.98,769.3L213.64,769.87L213.54,767.81L214.31,766.34L214.42,765.8L214.82,763.11L214.24,762.54L215.11,759.42L216,758.58L215.5,755.75L215.44,755.3L215.77,753.53L215.98,752.52L216.54,749.51L216.32,750.3L216.76,746.56L216.94,746.7L217.25,744.14L216.52,743.52L217.09,741.49L217.66,741.22L217.8,739.04L218.33,735.83L218.41,735.67L218.35,733.35L218.53,732.36L219.15,729.92L218.81,727.52L219.21,726.76L219.57,725.77L219.87,724.38L220.18,722.36L220.43,720.71L220.01,719.66L220.24,717.47L221.25,715.83L221.41,714.42L221.59,713.53L221.53,711.52L221.21,709.58L222.17,707.67L222.4,706.99L222.35,705.09L223.34,703.39L223.65,701.37L223.51,701.08L224.09,698.42L224.05,696.54L224.31,695.8L224.74,694.28L224.78,693.01L224.97,691.51L226.17,688.66L226.34,686.83L225.75,686.72L226.69,683.96L227.48,682.41L227.17,680.96L228.56,679.34L228.07,676.72L228.31,675.93L228.76,674L229.79,673.38L229.77,672.97L230.65,669.95L229.46,667.82L231.09,668.08L230.81,665.29L231.17,664.28L231.14,661.4L231.56,661.71L232.18,658.14L232.12,658.11L232.4,655.49L232.48,655.39L232.93,653.67L232.79,652.6L233.67,649.87L233.56,647.85L233.64,649.12L234.76,644.64L235.51,644.02L236.27,645.67L237.23,647.75L237.96,644.84L238.85,643.78L240,643.61L240.55,643.25L242.3,642.3L243.08,640.36L244.86,639.18L245.53,638.3L247.8,640.29L247.6,641.45L248.04,642.46L248.42,642.97L249.66,647.02L249.96,645.67L250.89,647.93L252.07,647L253.79,646.08L254.22,645.45L254.96,643.45L255.36,642.3L256.57,642.48L257.2,640.49L257.45,644.27L257.77,646.27L258.74,646.34L259.76,649.05L260.56,650.17L260.66,650.24L261.91,651.32L261.42,653.62L261.79,656.8L262.55,657.47L262.24,658.59L262.9,659.74L262.94,661.67L263.4,663.71L263.48,666.13L263.88,666.86L264.29,667.92L264.52,669.16L264.89,671.21L264.85,672.23L265.6,673.11L265.96,674.49L266.09,676.15L267.07,677.25L267.09,679.99L267.31,681.46L267.66,681.53L268.39,684.56L268.56,686.43L268.48,687.64L269.12,688.08L270,690.77L269.59,693.45L270.63,694.17L270.49,696.32L270.98,697.18L270.99,698.87L272.1,701.45L272.3,701.65L272.1,704.9L272.54,703.04L273.23,706.78L273.49,708.38L274.69,709.92L274.78,710.28L274.57,714.27L275.28,715.84L275.69,715.71L276.96,716.64L277.63,718.02L278.38,719.62L278.4,722.03L278.21,720.81L278.96,724.62L279.78,725.25L280.72,726.45L281.25,727.52L282.85,729.47L282.93,730.34L283.17,734.14L283.82,734.05L284.66,736.16L284.7,738.18L284.99,740.33L285.98,740.46L286.57,741.62L287.45,744.27L287.78,746.78L288.3,746.51L288.91,747.76L289.64,750.22L289.88,752.38L290.19,752.91L290.31,755.03L290.73,756.16L291.01,758.37L292.02,758.33L291.7,761.49L291.92,761.61L292.12,762.41L293.33,764.46L293.68,766.62L294.33,768.56L294.58,770.38L295.18,770.83L295.04,773.09L295.39,774.36L296.04,776.38L295.99,777.41L296.33,779.49L296.94,779.5L297.34,783.78L297.93,783.6L298.22,786.8L298.94,788.82L299.84,789.61L300.12,790.35L300.12,793.64L300.68,793.47L301.51,795.83L301.21,796.03L302.44,798.38L302.91,799.79L303.16,799.5L304.07,803.09L304.09,803.76L304.85,806.59L304.73,808.88L305.47,808.98L305.48,810.93L305.97,811.28L306.04,813.97L306.6,814.98L307.71,816.76L307.76,817.96L308.73,819.36L308.83,821.17L308.93,822.74L309.13,824.14L309.46,825.86L309.99,827.31L310.98,828.49L311.53,831.83L312.6,831.75L313.6,834.25L314.25,835.22L315.42,836.24L315.81,836.96L316.53,839.9L317.32,840.62L318.25,842.15L318.45,842.82L319.5,845.14L319.91,846.19L319.38,848.06L320.05,848.93L320.62,850.66L321.53,850.99L321.78,853.71L322.65,855.26L323.19,856.92L323.61,857.72L324.11,858.89L324.47,859.08L325.1,863.72L324.93,863.84L325.73,866.7L326.22,868.22L326.23,868.88L326.41,869.62L326.82,870.65L326.52,874.07L327.76,875.05L328.05,874.93L328.76,878.37L328.58,879.44L329.26,880.43L329.4,882.03L329.9,883.98L329.73,884.71L330.85,886.67L330.64,888.16L331.47,889.33L331.58,891.44L332.16,892.52L332.77,894.97L333.29,894.19L333.39,898.42L334.24,899.15L334.62,899.89L335.24,901.88L335.54,902.36L336.25,905.16L336.47,907.51L337.29,908.85L338.1,909.12L338.66,910.4L339.12,912.9L340.82,914.93L341.17,913.24L342.13,910.26L344.03,911L344.51,910.5L345.43,914.53L345.84,915.75L345.83,916.5L346.44,917.15L347.27,920.65L348.3,920.07L348.18,923.55L349.32,924.86L349.4,926.08L349.85,927.8L350.76,927.22L351.25,930.09L351.64,930.93L352.53,932.96L353.71,933.77L354.72,936.46L355.71,936.65L356.87,937.22L357.37,939.9L358.93,940.27L359.61,941.23L360.4,943.87L361.68,944.14L361.93,944.58L362.61,945L363.55,947.38L363.9,948.09L365.28,950.79L365.96,951.07L366.24,952.41L367.94,954.59L368.29,955.97L369.74,957.12L370.55,958.69L370.99,959.55L371.03,962.06L372.36,963.36L373.52,962.86L374.71,964.12L376.15,965.98L377.14,967.23L378.07,968.53L379.46,968.86L380.01,970.49L381.72,972.32L382.34,971.41L383.6,974.24L384.68,975.1L386.66,975.23L387.38,976.91L388.5,977.54L390.07,978.22L390.9,980.97L392.48,981.83L393.1,983.16L395.18,983.5L396.08,985.17L397.5,985.47L398.62,985.92L399.87,987.71L401.47,986.84L402.74,985.87L403.9,986.2L405.6,986.54L407.52,986.5L408.58,987.86L409.67,988.14L410.62,989.33L412.01,990.77L413.43,992.97L415.44,993.58L416.82,994.09L418.34,994.91L419.98,994.85L421.77,996.44L423.3,997.88L424.9,998.2L426.37,998.77L428.08,999.61L429.38,1000.93L430.83,1001.44L432.43,1001.88L433.66,1003.3L434.73,1003.82L436.31,1004.34L437.36,1004.84L439.12,1005.98L440.36,1006.45L442.26,1007.96L443.56,1008.98L444.81,1010.04L446.38,1010.48L448.09,1010.61L449.35,1010.9L451.12,1010.33L452.33,1010.22L453.56,1010.86L455.24,1010.97L456.57,1011.31L458.42,1011.88L459.98,1012.88L461.74,1012.65L463.39,1014.01L465.21,1014.67L466.85,1014.86L468.31,1014.78L469.9,1015.76L471.46,1016.19L473.57,1016.82L474.84,1017.73L476.76,1017.86L478.34,1017.3L480.19,1017.65L481.66,1018.05L483.29,1017.96L485.25,1018.79L486.8,1018.81L488.31,1020.18L490.09,1019.99L491.81,1020.42L493.61,1020.61L494.96,1021.13L496.81,1022.1L498.49,1022.48L500.3,1022.4L501.51,1023.03L503.31,1023.74L505,1023.75L506.29,1023.31L507.63,1022.28L508.9,1022.42L510.53,1022.65L512.6,1021.57L514.11,1022.16L515.64,1022.86L517.01,1023.45L518.27,1023.07L519.83,1023.6L521.25,1023.75L522.97,1023.93L524.3,1023.4" fill="none" stroke="#ee00ee" stroke-width="2.6" stroke-linejoin="round" stroke-linecap="butt"/></g>
<path d="M96.75,598.4L524.5,598.4L524.5,1026.6L96.75,1026.6Z" fill="none" stroke="#000" stroke-width="1.9"/>
<line x1="97" y1="943.75" x2="97" y2="1026" stroke="#ee00ee" stroke-width="2.7"/>
<line x1="524.4" y1="971.25" x2="524.4" y2="1026" stroke="#ee00ee" stroke-width="2.1"/>
<line x1="86.55" y1="1026.6" x2="96.75" y2="1026.6" stroke="#000" stroke-width="1.85" stroke-linecap="butt"/>
<text transform="matrix(0.8571 0.0000 0.0000 0.9639 73.4214 1033.3180)" font-family='"Liberation Sans", Arial, Helvetica, sans-serif' font-size="21" fill="#000" stroke="#000" stroke-width="0.45" stroke-linejoin="round">0</text>
<line x1="91.55" y1="983.78" x2="96.75" y2="983.78" stroke="#000" stroke-width="1.6" stroke-linecap="butt"/>
<line x1="86.55" y1="940.96" x2="96.75" y2="940.96" stroke="#000" stroke-width="1.85" stroke-linecap="butt"/>
<text transform="matrix(0.8727 0.0000 0.0000 0.9639 62.9955 947.6780)" font-family='"Liberation Sans", Arial, Helvetica, sans-serif' font-size="21" fill="#000" stroke="#000" stroke-width="0.45" stroke-linejoin="round">20</text>
<line x1="91.55" y1="898.14" x2="96.75" y2="898.14" stroke="#000" stroke-width="1.6" stroke-linecap="butt"/>
<line x1="86.55" y1="855.32" x2="96.75" y2="855.32" stroke="#000" stroke-width="1.85" stroke-linecap="butt"/>
<text transform="matrix(0.8533 0.0000 0.0000 0.9639 63.4367 862.0380)" font-family='"Liberation Sans", Arial, Helvetica, sans-serif' font-size="21" fill="#000" stroke="#000" stroke-width="0.45" stroke-linejoin="round">40</text>
<line x1="91.55" y1="812.5" x2="96.75" y2="812.5" stroke="#000" stroke-width="1.6" stroke-linecap="butt"/>
<line x1="86.55" y1="769.68" x2="96.75" y2="769.68" stroke="#000" stroke-width="1.85" stroke-linecap="butt"/>
<text transform="matrix(0.8727 0.0000 0.0000 0.9639 62.9955 776.3980)" font-family='"Liberation Sans", Arial, Helvetica, sans-serif' font-size="21" fill="#000" stroke="#000" stroke-width="0.45" stroke-linejoin="round">60</text>
<line x1="91.55" y1="726.86" x2="96.75" y2="726.86" stroke="#000" stroke-width="1.6" stroke-linecap="butt"/>
<line x1="86.55" y1="684.04" x2="96.75" y2="684.04" stroke="#000" stroke-width="1.85" stroke-linecap="butt"/>
<text transform="matrix(0.8727 0.0000 0.0000 0.9639 62.9955 690.7580)" font-family='"Liberation Sans", Arial, Helvetica, sans-serif' font-size="21" fill="#000" stroke="#000" stroke-width="0.45" stroke-linejoin="round">80</text>
<line x1="91.55" y1="641.22" x2="96.75" y2="641.22" stroke="#000" stroke-width="1.6" stroke-linecap="butt"/>
<line x1="86.55" y1="598.4" x2="96.75" y2="598.4" stroke="#000" stroke-width="1.85" stroke-linecap="butt"/>
<text transform="matrix(0.8576 0.0000 0.0000 0.9639 53.2636 605.1180)" font-family='"Liberation Sans", Arial, Helvetica, sans-serif' font-size="21" fill="#000" stroke="#000" stroke-width="0.45" stroke-linejoin="round">100</text>
<line x1="96.75" y1="1026.6" x2="96.75" y2="1036.8" stroke="#000" stroke-width="1.9" stroke-linecap="butt"/>
<text transform="matrix(0.7953 0.0000 0.0000 0.9508 83.2571 1057.9246)" font-family='"Liberation Sans", Arial, Helvetica, sans-serif' font-size="21" fill="#000" stroke="#000" stroke-width="0.45" stroke-linejoin="round">10</text>
<text transform="matrix(0.7857 0.0000 0.0000 0.9619 103.6571 1051.0595)" font-family='"Liberation Sans", Arial, Helvetica, sans-serif' font-size="14.5" fill="#000" stroke="#000" stroke-width="0.35" stroke-linejoin="round">2</text>
<line x1="122.49" y1="1026.6" x2="122.49" y2="1031.4" stroke="#000" stroke-width="1.6" stroke-linecap="butt"/>
<line x1="137.54" y1="1026.6" x2="137.54" y2="1031.4" stroke="#000" stroke-width="1.6" stroke-linecap="butt"/>
<line x1="148.23" y1="1026.6" x2="148.23" y2="1031.4" stroke="#000" stroke-width="1.6" stroke-linecap="butt"/>
<line x1="156.51" y1="1026.6" x2="156.51" y2="1031.4" stroke="#000" stroke-width="1.6" stroke-linecap="butt"/>
<line x1="163.28" y1="1026.6" x2="163.28" y2="1031.4" stroke="#000" stroke-width="1.6" stroke-linecap="butt"/>
<line x1="169.01" y1="1026.6" x2="169.01" y2="1031.4" stroke="#000" stroke-width="1.6" stroke-linecap="butt"/>
<line x1="173.96" y1="1026.6" x2="173.96" y2="1031.4" stroke="#000" stroke-width="1.6" stroke-linecap="butt"/>
<line x1="178.34" y1="1026.6" x2="178.34" y2="1031.4" stroke="#000" stroke-width="1.6" stroke-linecap="butt"/>
<line x1="182.25" y1="1026.6" x2="182.25" y2="1036.8" stroke="#000" stroke-width="1.9" stroke-linecap="butt"/>
<text transform="matrix(0.7953 0.0000 0.0000 0.9508 168.7571 1057.9246)" font-family='"Liberation Sans", Arial, Helvetica, sans-serif' font-size="21" fill="#000" stroke="#000" stroke-width="0.45" stroke-linejoin="round">10</text>
<text transform="matrix(0.7857 0.0000 0.0000 0.9619 189.1571 1051.0595)" font-family='"Liberation Sans", Arial, Helvetica, sans-serif' font-size="14.5" fill="#000" stroke="#000" stroke-width="0.35" stroke-linejoin="round">3</text>
<line x1="207.99" y1="1026.6" x2="207.99" y2="1031.4" stroke="#000" stroke-width="1.6" stroke-linecap="butt"/>
<line x1="223.04" y1="1026.6" x2="223.04" y2="1031.4" stroke="#000" stroke-width="1.6" stroke-linecap="butt"/>
<line x1="233.73" y1="1026.6" x2="233.73" y2="1031.4" stroke="#000" stroke-width="1.6" stroke-linecap="butt"/>
<line x1="242.01" y1="1026.6" x2="242.01" y2="1031.4" stroke="#000" stroke-width="1.6" stroke-linecap="butt"/>
<line x1="248.78" y1="1026.6" x2="248.78" y2="1031.4" stroke="#000" stroke-width="1.6" stroke-linecap="butt"/>
<line x1="254.51" y1="1026.6" x2="254.51" y2="1031.4" stroke="#000" stroke-width="1.6" stroke-linecap="butt"/>
<line x1="259.46" y1="1026.6" x2="259.46" y2="1031.4" stroke="#000" stroke-width="1.6" stroke-linecap="butt"/>
<line x1="263.84" y1="1026.6" x2="263.84" y2="1031.4" stroke="#000" stroke-width="1.6" stroke-linecap="butt"/>
<line x1="267.75" y1="1026.6" x2="267.75" y2="1036.8" stroke="#000" stroke-width="1.9" stroke-linecap="butt"/>
<text transform="matrix(0.7953 0.0000 0.0000 0.9508 254.2571 1057.9246)" font-family='"Liberation Sans", Arial, Helvetica, sans-serif' font-size="21" fill="#000" stroke="#000" stroke-width="0.45" stroke-linejoin="round">10</text>
<text transform="matrix(0.7333 0.0000 0.0000 0.9854 274.8667 1051.0537)" font-family='"Liberation Sans", Arial, Helvetica, sans-serif' font-size="14.5" fill="#000" stroke="#000" stroke-width="0.35" stroke-linejoin="round">4</text>
<line x1="293.49" y1="1026.6" x2="293.49" y2="1031.4" stroke="#000" stroke-width="1.6" stroke-linecap="butt"/>
<line x1="308.54" y1="1026.6" x2="308.54" y2="1031.4" stroke="#000" stroke-width="1.6" stroke-linecap="butt"/>
<line x1="319.23" y1="1026.6" x2="319.23" y2="1031.4" stroke="#000" stroke-width="1.6" stroke-linecap="butt"/>
<line x1="327.51" y1="1026.6" x2="327.51" y2="1031.4" stroke="#000" stroke-width="1.6" stroke-linecap="butt"/>
<line x1="334.28" y1="1026.6" x2="334.28" y2="1031.4" stroke="#000" stroke-width="1.6" stroke-linecap="butt"/>
<line x1="340.01" y1="1026.6" x2="340.01" y2="1031.4" stroke="#000" stroke-width="1.6" stroke-linecap="butt"/>
<line x1="344.96" y1="1026.6" x2="344.96" y2="1031.4" stroke="#000" stroke-width="1.6" stroke-linecap="butt"/>
<line x1="349.34" y1="1026.6" x2="349.34" y2="1031.4" stroke="#000" stroke-width="1.6" stroke-linecap="butt"/>
<line x1="353.25" y1="1026.6" x2="353.25" y2="1036.8" stroke="#000" stroke-width="1.9" stroke-linecap="butt"/>
<text transform="matrix(0.7953 0.0000 0.0000 0.9508 339.7571 1057.9246)" font-family='"Liberation Sans", Arial, Helvetica, sans-serif' font-size="21" fill="#000" stroke="#000" stroke-width="0.45" stroke-linejoin="round">10</text>
<text transform="matrix(0.7857 0.0000 0.0000 0.9854 360.1571 1051.0537)" font-family='"Liberation Sans", Arial, Helvetica, sans-serif' font-size="14.5" fill="#000" stroke="#000" stroke-width="0.35" stroke-linejoin="round">5</text>
<line x1="378.99" y1="1026.6" x2="378.99" y2="1031.4" stroke="#000" stroke-width="1.6" stroke-linecap="butt"/>
<line x1="394.04" y1="1026.6" x2="394.04" y2="1031.4" stroke="#000" stroke-width="1.6" stroke-linecap="butt"/>
<line x1="404.73" y1="1026.6" x2="404.73" y2="1031.4" stroke="#000" stroke-width="1.6" stroke-linecap="butt"/>
<line x1="413.01" y1="1026.6" x2="413.01" y2="1031.4" stroke="#000" stroke-width="1.6" stroke-linecap="butt"/>
<line x1="419.78" y1="1026.6" x2="419.78" y2="1031.4" stroke="#000" stroke-width="1.6" stroke-linecap="butt"/>
<line x1="425.51" y1="1026.6" x2="425.51" y2="1031.4" stroke="#000" stroke-width="1.6" stroke-linecap="butt"/>
<line x1="430.46" y1="1026.6" x2="430.46" y2="1031.4" stroke="#000" stroke-width="1.6" stroke-linecap="butt"/>
<line x1="434.84" y1="1026.6" x2="434.84" y2="1031.4" stroke="#000" stroke-width="1.6" stroke-linecap="butt"/>
<line x1="438.75" y1="1026.6" x2="438.75" y2="1036.8" stroke="#000" stroke-width="1.9" stroke-linecap="butt"/>
<text transform="matrix(0.7953 0.0000 0.0000 0.9508 425.2571 1057.9246)" font-family='"Liberation Sans", Arial, Helvetica, sans-serif' font-size="21" fill="#000" stroke="#000" stroke-width="0.45" stroke-linejoin="round">10</text>
<text transform="matrix(0.7857 0.0000 0.0000 0.9619 445.6571 1051.0595)" font-family='"Liberation Sans", Arial, Helvetica, sans-serif' font-size="14.5" fill="#000" stroke="#000" stroke-width="0.35" stroke-linejoin="round">6</text>
<line x1="464.49" y1="1026.6" x2="464.49" y2="1031.4" stroke="#000" stroke-width="1.6" stroke-linecap="butt"/>
<line x1="479.54" y1="1026.6" x2="479.54" y2="1031.4" stroke="#000" stroke-width="1.6" stroke-linecap="butt"/>
<line x1="490.23" y1="1026.6" x2="490.23" y2="1031.4" stroke="#000" stroke-width="1.6" stroke-linecap="butt"/>
<line x1="498.51" y1="1026.6" x2="498.51" y2="1031.4" stroke="#000" stroke-width="1.6" stroke-linecap="butt"/>
<line x1="505.28" y1="1026.6" x2="505.28" y2="1031.4" stroke="#000" stroke-width="1.6" stroke-linecap="butt"/>
<line x1="511.01" y1="1026.6" x2="511.01" y2="1031.4" stroke="#000" stroke-width="1.6" stroke-linecap="butt"/>
<line x1="515.96" y1="1026.6" x2="515.96" y2="1031.4" stroke="#000" stroke-width="1.6" stroke-linecap="butt"/>
<line x1="520.34" y1="1026.6" x2="520.34" y2="1031.4" stroke="#000" stroke-width="1.6" stroke-linecap="butt"/>
<line x1="524.25" y1="1026.6" x2="524.25" y2="1036.8" stroke="#000" stroke-width="1.9" stroke-linecap="butt"/>
<text transform="matrix(0.7953 0.0000 0.0000 0.9508 510.7571 1057.9246)" font-family='"Liberation Sans", Arial, Helvetica, sans-serif' font-size="21" fill="#000" stroke="#000" stroke-width="0.45" stroke-linejoin="round">10</text>
<text transform="matrix(0.7857 0.0000 0.0000 0.9854 531.1571 1051.0537)" font-family='"Liberation Sans", Arial, Helvetica, sans-serif' font-size="14.5" fill="#000" stroke="#000" stroke-width="0.35" stroke-linejoin="round">7</text>
<text transform="matrix(0.8955 0.0000 0.0000 0.9086 113.0784 633.3185)" font-family='"Liberation Sans", Arial, Helvetica, sans-serif' font-size="27" fill="#000" stroke="#000" stroke-width="1.15" stroke-linejoin="round">SK-OV-3</text>
<text transform="matrix(0.9688 0.0000 0.0000 0.9350 429.5312 633.2988)" font-family='"Liberation Sans", Arial, Helvetica, sans-serif' font-size="27" fill="#cc00ff" stroke="#cc00ff" stroke-width="0.9" stroke-linejoin="round">CD117</text>
<text transform="matrix(0.9288 0.0000 0.0000 0.9600 429.8924 664.2400)" font-family='"Liberation Sans", Arial, Helvetica, sans-serif' font-size="27" fill="#808080" stroke="#808080" stroke-width="0.9" stroke-linejoin="round">Isotype</text>
<line x1="289.5" y1="860" x2="519.25" y2="860" stroke="#000" stroke-width="1.5" stroke-linecap="butt"/>
<line x1="289.5" y1="850" x2="289.5" y2="868.2" stroke="#000" stroke-width="1.5" stroke-linecap="butt"/>
<line x1="519.25" y1="850" x2="519.25" y2="868.2" stroke="#000" stroke-width="1.5" stroke-linecap="butt"/>
<text transform="matrix(0.9953 0.0000 0.0000 0.9358 382.0000 849.4981)" font-family='"Liberation Sans", Arial, Helvetica, sans-serif' font-size="27" fill="#000" stroke="#000" stroke-width="1.25" stroke-linejoin="round">48%</text>
<text transform="matrix(1.0345 0.0000 0.0000 1.0366 298.6638 1097.5000)" font-family='"Liberation Sans", Arial, Helvetica, sans-serif' font-size="30" fill="#000">PE</text>
<path d="M573.6,598.25L536.25,598.25L536.25,671.6L573.6,671.6" fill="none" stroke="#cbcbcb" stroke-width="1.5"/>
<rect x="540.9" y="603.4" width="28.95" height="28.2" fill="#fdebfe" stroke="#ee00ee" stroke-width="2.8"/>
<rect x="540.4" y="637.9" width="29.95" height="29.2" fill="#c0bfc3" stroke="#38383a" stroke-width="1.8"/>
<text transform="matrix(0.0000 -0.8446 1.1169 0.0000 28.9416 844.3834)" font-family='"Liberation Sans", Arial, Helvetica, sans-serif' font-size="27" fill="#000" stroke="#000" stroke-width="0.3" stroke-linejoin="round">%Max</text>
<g clip-path="url(#cpB2)"><path d="M742,1027.3L760,1027.12L800,1027.09L817.5,1027.06L826,1026.91L835,1026.61L836.25,1025.76L837.5,1024.9L838.75,1024.05L839.97,1023.17L841.29,1022.27L842.54,1021.65L843.76,1020.64L844.96,1020.27L845.61,1018.82L846.26,1017.39L846.93,1016.52L847.73,1014.49L848.07,1013.39L848.82,1012.15L849.39,1009.85L849.52,1009.28L850.1,1008.16L850.8,1006.43L851.3,1004.75L851.8,1003.5L852.08,1002.3L852.4,999.83L853.03,998.94L853.52,997.11L853.77,996L853.94,994.76L854.7,993.49L855.02,991.54L855.1,989.85L855.45,988.37L855.84,986.59L856.39,984.85L856.4,983.57L856.74,982.59L857.67,979.89L857.57,978.61L857.8,976.86L857.92,975.26L858.39,974.02L858.42,973.15L858.74,971.35L858.65,969.63L859.38,967.55L859.78,964.94L859.92,963.63L859.99,962.86L860.33,961.12L860.61,958.87L861.13,957.32L861.89,956.39L861.88,954.49L862.39,953.48L862.31,951.52L862.68,949.37L863.53,947.18L863.93,946.18L863.85,944.23L864.36,943.27L864.61,942.08L865.26,940.64L865.04,938.76L865.65,936.14L866.65,935.33L866.28,932.9L867.18,931.44L867.43,930.61L867.97,927.75L867.74,926.49L868.91,926.09L868.59,924.26L869.36,922.6L869.42,919.91L869.51,919.97L870.39,917.56L870.33,915.42L871.07,913.99L871.35,913.41L871.61,911.17L871.67,908.67L872.17,907.28L872.38,906.28L872.7,903.62L873.45,904.24L873.75,901.09L874.11,899.62L874.32,897.87L874.51,896.56L874.77,894.44L875.11,893.7L875.02,892.55L875.88,890.23L876.68,888.23L876.79,886.91L876.82,885.32L877.47,883.83L877.81,883.1L878.17,881.02L878.69,877.84L878.77,877.01L879.42,875.38L879.7,874.06L879.82,872.33L880.49,872.05L880.56,869.4L880.37,868.08L880.54,865.5L881.8,864.15L881.66,863.4L882.15,860.76L882.43,859.08L882.71,857.14L882.77,856.66L883.37,855.5L883.49,852.26L883.77,851.29L883.93,849.76L884.41,848.46L884.16,846.86L884.28,844.92L884.69,844.17L885.08,842.99L884.88,841.75L885.3,838.9L885.2,838.04L886.03,836.43L886.07,834.46L886.63,832.76L886.68,831.5L886.67,831.07L886.96,828.71L887.65,826.65L887.96,825.38L888.78,824.15L888.74,822.18L889.24,820.92L889.92,819.12L890.2,817.36L890.07,816.91L890.68,814.18L890.72,813.23L891.07,811.34L891.42,809.03L891.59,808.47L892.49,807.64L892.11,804.77L892.82,804.18L893.01,802.5L893.73,800.8L893.57,797.73L894.03,797.75L894.44,795.04L894.4,794.45L894.74,792.82L895.27,790.48L895.84,789.81L895.99,787.1L896.16,786.08L896.59,784.02L896.83,783.35L896.58,781.78L897.05,780.66L896.71,779.06L897.09,776.56L897.73,775.65L898.19,773L898.49,772.21L898.78,769.32L898.82,769.57L898.87,767.27L899.52,765.26L899.68,763.84L900.15,762.8L900.66,760.32L900.8,760.29L901.1,757.91L901.79,756.83L902.46,754.66L902.45,753.29L902.88,751.67L903.17,750.5L903.54,749.41L904.68,746.96L905.28,745.91L905.99,743.82L906.47,741.89L906.64,741.62L907.33,739.03L907.02,738.45L907.87,736.98L908.24,735.95L907.55,733.21L909.09,732.35L908.86,730.07L909.64,728.81L910.17,727.52L910.46,726.04L910.89,724.28L911.24,723.98L912.11,721.79L912.4,720.23L912.63,718.52L913.36,716.71L913.65,716.1L914.29,713.22L914.79,712.04L915.23,710.2L915.77,709.89L916.56,708.08L916.53,706.93L917.7,704.9L917.63,702.83L918.36,702.31L918.72,700.15L919.29,698.54L919.65,698.01L919.56,696.44L920.39,694.81L920.59,692.98L921.35,691.55L922,690.31L922.39,689.83L922.62,687.7L923.06,685.46L923.7,683.52L924.27,683.9L925.32,683.54L925.96,682.55L926.7,681.45L927.61,680.45L928.57,681.72L929.32,682.8L930.65,681.94L931.02,683.8L931.55,684.94L932.05,686.21L932.31,687.1L932.91,689.29L933.11,690.99L933,691.18L933.66,694.56L933.75,695.26L933.62,697.55L933.91,698.29L934.26,700.98L934.74,702.06L934.27,704.38L934.65,704.51L935.37,705.93L935.75,707.38L936.04,709.9L936.22,711.1L936.14,712.65L936.66,713.32L936.88,714.99L937.02,717.06L937.28,718.26L937.21,720.27L937.46,721.09L937.83,723.45L938.4,724.41L938.95,726.35L938.67,728.1L939.08,729.01L939.28,731L939.94,732.29L940.97,734.24L941.73,735.29L942.64,736.81L943.32,736.84L943.84,738.72L944.06,739.98L944.18,741.72L943.79,743.07L944.32,744.87L944.83,745.82L945.03,748.53L945.33,748.51L945.32,750.69L945.49,753.06L946.13,753.83L946.28,755.65L946.09,757.5L946.94,759.72L946.85,760.76L947.34,760.27L947.21,762.73L947.57,766.27L947.87,767.17L947.76,766.76L948.15,770.15L948.72,771.22L948.96,772.94L949.02,774.22L949.31,777.5L949.34,778.3L949.79,779.71L950.11,781L949.84,782.94L950.09,784.85L950.56,785.22L950.8,787.36L950.62,788.67L950.9,791.28L951,792.7L951.82,793.84L951.34,795.31L951.6,798.01L951.56,798.91L952.36,801.35L952.41,803.14L952.5,803.9L952.49,805.49L952.85,807.12L952.86,807.77L953.13,810.75L953.28,812.28L953.6,813.09L953.96,815.17L954.26,816.9L954.29,818.59L954.19,820.64L954.71,821.09L954.78,822.75L954.82,824.48L955.13,826.45L955.12,827.8L955.46,830.19L955.7,831.38L956.02,832.42L956.5,834.47L956.66,837.51L956.22,837.96L956.63,840.74L956.75,843.07L957.5,843.5L957.71,845.86L957.97,846.07L958.09,847.34L957.95,850.73L958.27,851.95L958.27,852.33L958.91,854.99L958.69,856.49L959.18,858.31L959.57,859.73L959.58,861.66L959.26,863.94L959.89,864.08L959.68,866.32L960,868.23L959.69,868.81L960.19,870.92L960.65,872.23L960.71,872.68L960.77,876.04L960.95,876.5L961.12,878.86L961.69,881.84L961.27,881.71L961.79,883.54L961.96,885.78L961.9,887.18L962.07,887.51L962.72,890.4L962.59,891.64L962.39,893.25L962.84,894.5L963.07,895.04L963.36,896.51L963.41,899.33L963.85,900.13L963.89,901.71L964.37,903.52L964.52,905.13L965.13,907.12L964.66,908.34L965.08,910.46L965.1,911.11L965.52,912.64L965.68,914.81L965.85,916.23L966,918.36L966.91,918.84L966.7,920.29L967.32,922.68L967.25,924.68L967.59,925.01L968,927.57L968.31,928.24L968.51,929.57L968.31,932.74L968.65,932.76L969.06,935.64L969.34,936.46L969.71,937.92L969.91,938.57L970.02,940.41L970.64,941.71L970.36,944.32L971.03,945.47L971.5,947.2L971.66,949.54L971.32,949.72L972.23,950.93L972.21,953.52L972.34,954.54L972.97,955.56L972.94,958.27L973.33,958.94L973.65,960.84L973.97,962.06L973.94,964.97L974.31,964.77L974.37,966.6L974.75,968.25L975.15,970.22L975.26,971.32L975.51,972.54L976.1,974.57L975.74,976.64L976.64,978.05L976.41,979.66L976.76,980.81L976.93,982.33L977.13,983.44L977.6,984.93L977.47,986.85L977.98,987.66L978.32,990.15L978.29,990.72L978.76,992.43L979.16,994.15L979.38,996.23L979.29,996.55L979.71,998.84L980.08,1000.17L980.14,1001.74L980.49,1002.83L981.21,1005L981.47,1005.97L981.61,1007.88L981.94,1009.81L982.07,1011.13L982.52,1012.31L983.02,1013.84L983.34,1015.92L983.9,1017.07L984.62,1018.85L985.02,1020.38L985.65,1022.27L986.37,1023.6L987.38,1025.3L988.5,1026.85L991.25,1027.09L996,1027.3L996,1027L742,1027Z" fill="#00e800" fill-opacity="0.05" stroke="none"/>
<path d="M742,1027.3L760,1027.12L800,1027.09L817.5,1027.06L826,1026.91L835,1026.61L836.25,1025.76L837.5,1024.9L838.75,1024.05L839.97,1023.17L841.29,1022.27L842.54,1021.65L843.76,1020.64L844.96,1020.27L845.61,1018.82L846.26,1017.39L846.93,1016.52L847.73,1014.49L848.07,1013.39L848.82,1012.15L849.39,1009.85L849.52,1009.28L850.1,1008.16L850.8,1006.43L851.3,1004.75L851.8,1003.5L852.08,1002.3L852.4,999.83L853.03,998.94L853.52,997.11L853.77,996L853.94,994.76L854.7,993.49L855.02,991.54L855.1,989.85L855.45,988.37L855.84,986.59L856.39,984.85L856.4,983.57L856.74,982.59L857.67,979.89L857.57,978.61L857.8,976.86L857.92,975.26L858.39,974.02L858.42,973.15L858.74,971.35L858.65,969.63L859.38,967.55L859.78,964.94L859.92,963.63L859.99,962.86L860.33,961.12L860.61,958.87L861.13,957.32L861.89,956.39L861.88,954.49L862.39,953.48L862.31,951.52L862.68,949.37L863.53,947.18L863.93,946.18L863.85,944.23L864.36,943.27L864.61,942.08L865.26,940.64L865.04,938.76L865.65,936.14L866.65,935.33L866.28,932.9L867.18,931.44L867.43,930.61L867.97,927.75L867.74,926.49L868.91,926.09L868.59,924.26L869.36,922.6L869.42,919.91L869.51,919.97L870.39,917.56L870.33,915.42L871.07,913.99L871.35,913.41L871.61,911.17L871.67,908.67L872.17,907.28L872.38,906.28L872.7,903.62L873.45,904.24L873.75,901.09L874.11,899.62L874.32,897.87L874.51,896.56L874.77,894.44L875.11,893.7L875.02,892.55L875.88,890.23L876.68,888.23L876.79,886.91L876.82,885.32L877.47,883.83L877.81,883.1L878.17,881.02L878.69,877.84L878.77,877.01L879.42,875.38L879.7,874.06L879.82,872.33L880.49,872.05L880.56,869.4L880.37,868.08L880.54,865.5L881.8,864.15L881.66,863.4L882.15,860.76L882.43,859.08L882.71,857.14L882.77,856.66L883.37,855.5L883.49,852.26L883.77,851.29L883.93,849.76L884.41,848.46L884.16,846.86L884.28,844.92L884.69,844.17L885.08,842.99L884.88,841.75L885.3,838.9L885.2,838.04L886.03,836.43L886.07,834.46L886.63,832.76L886.68,831.5L886.67,831.07L886.96,828.71L887.65,826.65L887.96,825.38L888.78,824.15L888.74,822.18L889.24,820.92L889.92,819.12L890.2,817.36L890.07,816.91L890.68,814.18L890.72,813.23L891.07,811.34L891.42,809.03L891.59,808.47L892.49,807.64L892.11,804.77L892.82,804.18L893.01,802.5L893.73,800.8L893.57,797.73L894.03,797.75L894.44,795.04L894.4,794.45L894.74,792.82L895.27,790.48L895.84,789.81L895.99,787.1L896.16,786.08L896.59,784.02L896.83,783.35L896.58,781.78L897.05,780.66L896.71,779.06L897.09,776.56L897.73,775.65L898.19,773L898.49,772.21L898.78,769.32L898.82,769.57L898.87,767.27L899.52,765.26L899.68,763.84L900.15,762.8L900.66,760.32L900.8,760.29L901.1,757.91L901.79,756.83L902.46,754.66L902.45,753.29L902.88,751.67L903.17,750.5L903.54,749.41L904.68,746.96L905.28,745.91L905.99,743.82L906.47,741.89L906.64,741.62L907.33,739.03L907.02,738.45L907.87,736.98L908.24,735.95L907.55,733.21L909.09,732.35L908.86,730.07L909.64,728.81L910.17,727.52L910.46,726.04L910.89,724.28L911.24,723.98L912.11,721.79L912.4,720.23L912.63,718.52L913.36,716.71L913.65,716.1L914.29,713.22L914.79,712.04L915.23,710.2L915.77,709.89L916.56,708.08L916.53,706.93L917.7,704.9L917.63,702.83L918.36,702.31L918.72,700.15L919.29,698.54L919.65,698.01L919.56,696.44L920.39,694.81L920.59,692.98L921.35,691.55L922,690.31L922.39,689.83L922.62,687.7L923.06,685.46L923.7,683.52L924.27,683.9L925.32,683.54L925.96,682.55L926.7,681.45L927.61,680.45L928.57,681.72L929.32,682.8L930.65,681.94L931.02,683.8L931.55,684.94L932.05,686.21L932.31,687.1L932.91,689.29L933.11,690.99L933,691.18L933.66,694.56L933.75,695.26L933.62,697.55L933.91,698.29L934.26,700.98L934.74,702.06L934.27,704.38L934.65,704.51L935.37,705.93L935.75,707.38L936.04,709.9L936.22,711.1L936.14,712.65L936.66,713.32L936.88,714.99L937.02,717.06L937.28,718.26L937.21,720.27L937.46,721.09L937.83,723.45L938.4,724.41L938.95,726.35L938.67,728.1L939.08,729.01L939.28,731L939.94,732.29L940.97,734.24L941.73,735.29L942.64,736.81L943.32,736.84L943.84,738.72L944.06,739.98L944.18,741.72L943.79,743.07L944.32,744.87L944.83,745.82L945.03,748.53L945.33,748.51L945.32,750.69L945.49,753.06L946.13,753.83L946.28,755.65L946.09,757.5L946.94,759.72L946.85,760.76L947.34,760.27L947.21,762.73L947.57,766.27L947.87,767.17L947.76,766.76L948.15,770.15L948.72,771.22L948.96,772.94L949.02,774.22L949.31,777.5L949.34,778.3L949.79,779.71L950.11,781L949.84,782.94L950.09,784.85L950.56,785.22L950.8,787.36L950.62,788.67L950.9,791.28L951,792.7L951.82,793.84L951.34,795.31L951.6,798.01L951.56,798.91L952.36,801.35L952.41,803.14L952.5,803.9L952.49,805.49L952.85,807.12L952.86,807.77L953.13,810.75L953.28,812.28L953.6,813.09L953.96,815.17L954.26,816.9L954.29,818.59L954.19,820.64L954.71,821.09L954.78,822.75L954.82,824.48L955.13,826.45L955.12,827.8L955.46,830.19L955.7,831.38L956.02,832.42L956.5,834.47L956.66,837.51L956.22,837.96L956.63,840.74L956.75,843.07L957.5,843.5L957.71,845.86L957.97,846.07L958.09,847.34L957.95,850.73L958.27,851.95L958.27,852.33L958.91,854.99L958.69,856.49L959.18,858.31L959.57,859.73L959.58,861.66L959.26,863.94L959.89,864.08L959.68,866.32L960,868.23L959.69,868.81L960.19,870.92L960.65,872.23L960.71,872.68L960.77,876.04L960.95,876.5L961.12,878.86L961.69,881.84L961.27,881.71L961.79,883.54L961.96,885.78L961.9,887.18L962.07,887.51L962.72,890.4L962.59,891.64L962.39,893.25L962.84,894.5L963.07,895.04L963.36,896.51L963.41,899.33L963.85,900.13L963.89,901.71L964.37,903.52L964.52,905.13L965.13,907.12L964.66,908.34L965.08,910.46L965.1,911.11L965.52,912.64L965.68,914.81L965.85,916.23L966,918.36L966.91,918.84L966.7,920.29L967.32,922.68L967.25,924.68L967.59,925.01L968,927.57L968.31,928.24L968.51,929.57L968.31,932.74L968.65,932.76L969.06,935.64L969.34,936.46L969.71,937.92L969.91,938.57L970.02,940.41L970.64,941.71L970.36,944.32L971.03,945.47L971.5,947.2L971.66,949.54L971.32,949.72L972.23,950.93L972.21,953.52L972.34,954.54L972.97,955.56L972.94,958.27L973.33,958.94L973.65,960.84L973.97,962.06L973.94,964.97L974.31,964.77L974.37,966.6L974.75,968.25L975.15,970.22L975.26,971.32L975.51,972.54L976.1,974.57L975.74,976.64L976.64,978.05L976.41,979.66L976.76,980.81L976.93,982.33L977.13,983.44L977.6,984.93L977.47,986.85L977.98,987.66L978.32,990.15L978.29,990.72L978.76,992.43L979.16,994.15L979.38,996.23L979.29,996.55L979.71,998.84L980.08,1000.17L980.14,1001.74L980.49,1002.83L981.21,1005L981.47,1005.97L981.61,1007.88L981.94,1009.81L982.07,1011.13L982.52,1012.31L983.02,1013.84L983.34,1015.92L983.9,1017.07L984.62,1018.85L985.02,1020.38L985.65,1022.27L986.37,1023.6L987.38,1025.3L988.5,1026.85L991.25,1027.09L996,1027.3" fill="none" stroke="#00e800" stroke-width="2.6" stroke-linejoin="round" stroke-linecap="butt"/></g>
<g clip-path="url(#cpB2)"><path d="M725,1026.8L737.5,1026.4L743,1025.8L747.5,1025L748.67,1024.33L749.8,1023.63L750.99,1023.06L751.93,1022.09L752.79,1020.98L753.77,1019.95L754.41,1018.56L755.11,1017.07L755.82,1015.45L756.5,1013.89L756.9,1012.43L757.22,1011.01L757.61,1009.46L758.04,1007.91L758.35,1006.62L758.84,1004.95L759.11,1003.36L759.54,1001.81L759.85,1000.29L760.12,998.76L760.58,996.91L760.95,995.47L761.3,993.97L761.61,992.36L761.79,990.92L762.13,989.21L762.37,987.97L762.68,986.25L762.93,984.64L763.28,982.95L763.6,981.63L763.81,979.99L763.91,978.5L764.17,976.88L764.45,975.28L764.6,973.72L764.9,972.2L765.06,970.75L765.26,969.3L765.42,967.37L765.67,966.17L765.94,964.27L766.09,963.05L766.23,961.04L766.42,959.41L766.52,957.98L766.8,956.16L766.94,954.6L767.1,953.16L767.25,951.6L767.63,949.94L767.65,948.53L767.88,946.7L767.91,945.44L768.01,943.93L768.26,942.4L768.37,940.77L768.54,939.32L768.7,937.85L768.83,936.31L768.91,934.69L769.09,933.04L769.26,931.42L769.32,930.13L769.63,928.41L769.86,926.26L769.79,925.06L769.96,923.66L770.04,922.01L770.17,920.63L770.33,918.87L770.43,916.78L770.45,915.48L770.63,913.9L770.92,912.3L770.93,910.72L771.05,909.17L771.35,907.54L771.32,905.93L771.64,904.29L771.6,902.54L771.7,900.86L771.72,899.29L772.01,897.57L771.98,896.25L772.17,894.44L772.4,892.91L772.38,891.16L772.55,889.56L772.69,887.87L772.79,886.18L772.95,885.03L773.07,883.01L773.13,881.58L773.29,879.84L773.48,878.43L773.61,876.56L773.69,875.06L773.83,873.35L773.97,872.1L774.02,869.96L774.1,868.51L774.18,867.02L774.4,865.48L774.47,863.9L774.77,862.59L774.88,860.82L774.8,859.24L774.87,857.25L775.09,855.84L775.27,854.47L775.38,852.64L775.48,851.14L775.74,849.38L775.82,847.71L775.93,846.37L776.05,844.86L776.23,842.85L776.36,841.46L776.45,839.84L776.52,838.13L776.81,836.68L776.82,834.94L776.91,833.12L777.2,831.97L777.27,830.03L777.33,828.38L777.38,826.96L777.58,825.04L777.74,823.51L777.81,822.08L777.93,820.09L778.03,818.69L778.14,817.16L778.27,815.45L778.41,814.03L778.64,812.17L778.53,810.73L778.64,809.13L778.68,807.2L778.95,805.73L779.25,804.31L779.14,802.53L779.21,801.04L779.48,799.81L779.6,797.83L779.72,796.26L779.69,794.5L779.82,793.15L780,791.54L780.06,789.79L780.31,788.58L780.27,786.86L780.44,785.43L780.51,783.31L780.63,781.99L780.68,780.39L780.81,778.93L780.91,777.16L781.02,775.65L781.23,774.06L781.24,772.53L781.48,770.71L781.54,769.47L781.59,767.42L781.86,766.1L781.85,764.57L781.98,762.92L782.01,761.35L782.12,759.64L782.21,758.16L782.52,756.79L782.55,754.73L782.69,753.16L782.74,752.01L783,750.23L783.1,748.58L783.15,747.03L783.3,745.59L783.55,743.73L783.46,742L783.87,740.79L784.01,739.34L784.15,737.48L784.36,735.76L784.46,734.48L784.53,732.73L784.81,731.3L784.73,729.92L785.09,728.09L785.15,726.38L785.33,724.64L785.6,723.19L785.68,721.65L785.82,719.82L786.07,718.31L786.25,716.54L786.37,714.69L786.63,713.11L786.8,711.71L786.99,709.87L787.11,707.97L787.39,706.77L787.5,704.73L787.74,703.29L787.91,701.61L788.15,700.49L788.43,698.81L788.65,697.16L788.9,695.82L789.14,694.11L789.31,692.57L789.61,691.12L789.74,689.28L789.99,688.22L790.28,686.42L790.57,684.68L790.87,683.14L791.29,681.35L791.44,679.44L791.92,678.49L792.12,676.55L792.54,675.13L793.07,673.43L793.46,672.29L793.89,670.74L794.29,669.07L794.76,667.96L795.29,666.75L795.92,665.42L796.47,663.75L797.04,662.6L798,661.06L798.93,659.53L800.49,658.71L801.53,659.72L802.52,661.33L803.11,662.56L803.61,664.33L804.47,666L805.01,667.48L805.39,669.16L805.77,670.75L806.04,672.29L806.56,673.87L806.74,675.82L807.2,677.69L807.46,679.18L807.76,680.57L808.12,682.13L808.28,683.31L808.78,685.41L808.82,686.74L809.11,687.81L809.47,689.6L809.61,690.97L810.1,692.45L810.13,694.09L810.43,695.79L810.74,697.2L810.94,698.8L811.12,700.19L811.28,702.29L811.59,703.63L811.86,705.42L812.01,706.96L812.32,708.31L812.52,709.84L812.63,711.66L812.81,712.9L813.07,714.48L813.24,716.07L813.5,717.73L813.7,719.24L813.92,720.9L814.05,722.12L814.08,723.55L814.43,725.35L814.66,726.88L814.78,728.39L814.98,729.86L815.08,731.65L815.36,733.31L815.43,734.93L815.59,736.36L815.72,738.11L815.93,739.4L816.19,740.96L816.18,742.73L816.54,743.88L816.56,745.78L816.69,747.17L816.75,748.97L816.99,750.47L817.31,752.21L817.39,753.63L817.51,754.8L817.58,756.48L817.89,758.37L817.92,759.63L818.23,761.22L818.24,762.65L818.36,764.16L818.65,766.12L818.9,767.47L818.87,768.83L819.03,770.64L819.17,772.09L819.44,773.42L819.56,775.1L819.7,776.81L819.89,778.36L820.01,780.08L820.23,781.72L820.45,783.11L820.52,784.68L820.89,786.19L821.05,787.95L821.3,789.7L821.44,791.06L821.55,792.67L821.93,794.31L822.16,795.99L822.22,797.65L822.51,798.83L822.84,800.44L822.93,802.14L823.19,803.44L823.38,805.19L823.41,806.9L823.67,808.09L823.97,809.94L824.07,811.37L824.31,812.75L824.54,814.56L824.71,816.17L824.95,817.5L825.09,819.12L825.48,820.82L825.63,822.26L825.84,823.74L825.99,825.46L826.3,826.98L826.5,828.69L826.73,830.22L827.04,831.84L827.01,833.52L827.22,835.09L827.51,836.56L827.68,838.11L827.85,839.96L828.07,841.3L828.27,842.85L828.5,844.26L828.66,846.26L828.98,848.01L829.16,849.41L829.31,851.15L829.55,852.77L829.76,854.47L829.96,855.92L830.3,857.62L830.39,859.06L830.6,860.55L830.75,862.12L830.92,863.76L831.28,865.35L831.29,866.62L831.52,868.27L831.75,869.45L831.87,871.62L832.18,872.81L832.3,874.52L832.47,876.15L832.68,877.38L833.06,878.85L833,880.46L833.23,882.04L833.29,883.76L833.46,885.5L833.72,886.46L834,888.22L834.16,889.87L834.39,891.19L834.44,892.87L834.56,894.55L834.81,896.17L834.98,897.51L835.25,899.16L835.44,900.79L835.66,902.41L835.97,903.92L836.09,905.25L836.27,907.26L836.63,908.55L836.72,910.33L837.06,911.69L837.3,913.38L837.45,915.09L837.89,916.42L838,917.91L838.2,919.27L838.5,921.15L838.8,922.38L838.92,924.01L839.15,925.45L839.47,927.34L839.7,928.63L840.05,930.25L840.26,931.66L840.67,933.01L840.87,934.75L841.37,936.28L841.52,937.72L841.95,939.04L842.15,941.24L842.45,942.81L842.82,944.07L843.01,945.84L843.33,947.36L843.58,949.13L843.93,950.57L844.11,952.31L844.31,953.59L844.71,955.25L844.9,956.68L845.35,958.53L845.71,960.25L845.95,961.91L846.26,963.37L846.67,965.29L846.87,966.42L847.15,968.35L847.52,969.89L847.91,971.57L848.29,973.2L848.65,974.65L849,975.9L849.38,977.43L849.72,978.86L850.08,980.55L850.57,981.89L851.02,983.58L851.39,985.13L851.87,986.36L852.3,987.99L852.86,989.47L853.37,990.83L853.73,992.42L854.26,994.1L854.9,995.67L855.38,997.19L855.89,998.84L856.49,1000.48L857.02,1002.12L857.59,1003.7L858.25,1005.03L858.79,1006.83L859.36,1008.48L859.98,1009.99L860.88,1011.41L861.77,1012.78L862.59,1014.15L863.51,1015.49L864.49,1016.61L865.49,1017.94L866.47,1018.93L867.47,1020.04L868.63,1020.84L869.75,1021.77L870.9,1022.58L871.97,1023.52L873.38,1024.06L874.75,1024.62L876.12,1025.19L877.5,1025.75L885,1026.6L900,1026.9L900,1027L725,1027Z" fill="#9e9da4" fill-opacity="0.66" stroke="none"/>
<path d="M725,1026.8L737.5,1026.4L743,1025.8L747.5,1025L748.67,1024.33L749.8,1023.63L750.99,1023.06L751.93,1022.09L752.79,1020.98L753.77,1019.95L754.41,1018.56L755.11,1017.07L755.82,1015.45L756.5,1013.89L756.9,1012.43L757.22,1011.01L757.61,1009.46L758.04,1007.91L758.35,1006.62L758.84,1004.95L759.11,1003.36L759.54,1001.81L759.85,1000.29L760.12,998.76L760.58,996.91L760.95,995.47L761.3,993.97L761.61,992.36L761.79,990.92L762.13,989.21L762.37,987.97L762.68,986.25L762.93,984.64L763.28,982.95L763.6,981.63L763.81,979.99L763.91,978.5L764.17,976.88L764.45,975.28L764.6,973.72L764.9,972.2L765.06,970.75L765.26,969.3L765.42,967.37L765.67,966.17L765.94,964.27L766.09,963.05L766.23,961.04L766.42,959.41L766.52,957.98L766.8,956.16L766.94,954.6L767.1,953.16L767.25,951.6L767.63,949.94L767.65,948.53L767.88,946.7L767.91,945.44L768.01,943.93L768.26,942.4L768.37,940.77L768.54,939.32L768.7,937.85L768.83,936.31L768.91,934.69L769.09,933.04L769.26,931.42L769.32,930.13L769.63,928.41L769.86,926.26L769.79,925.06L769.96,923.66L770.04,922.01L770.17,920.63L770.33,918.87L770.43,916.78L770.45,915.48L770.63,913.9L770.92,912.3L770.93,910.72L771.05,909.17L771.35,907.54L771.32,905.93L771.64,904.29L771.6,902.54L771.7,900.86L771.72,899.29L772.01,897.57L771.98,896.25L772.17,894.44L772.4,892.91L772.38,891.16L772.55,889.56L772.69,887.87L772.79,886.18L772.95,885.03L773.07,883.01L773.13,881.58L773.29,879.84L773.48,878.43L773.61,876.56L773.69,875.06L773.83,873.35L773.97,872.1L774.02,869.96L774.1,868.51L774.18,867.02L774.4,865.48L774.47,863.9L774.77,862.59L774.88,860.82L774.8,859.24L774.87,857.25L775.09,855.84L775.27,854.47L775.38,852.64L775.48,851.14L775.74,849.38L775.82,847.71L775.93,846.37L776.05,844.86L776.23,842.85L776.36,841.46L776.45,839.84L776.52,838.13L776.81,836.68L776.82,834.94L776.91,833.12L777.2,831.97L777.27,830.03L777.33,828.38L777.38,826.96L777.58,825.04L777.74,823.51L777.81,822.08L777.93,820.09L778.03,818.69L778.14,817.16L778.27,815.45L778.41,814.03L778.64,812.17L778.53,810.73L778.64,809.13L778.68,807.2L778.95,805.73L779.25,804.31L779.14,802.53L779.21,801.04L779.48,799.81L779.6,797.83L779.72,796.26L779.69,794.5L779.82,793.15L780,791.54L780.06,789.79L780.31,788.58L780.27,786.86L780.44,785.43L780.51,783.31L780.63,781.99L780.68,780.39L780.81,778.93L780.91,777.16L781.02,775.65L781.23,774.06L781.24,772.53L781.48,770.71L781.54,769.47L781.59,767.42L781.86,766.1L781.85,764.57L781.98,762.92L782.01,761.35L782.12,759.64L782.21,758.16L782.52,756.79L782.55,754.73L782.69,753.16L782.74,752.01L783,750.23L783.1,748.58L783.15,747.03L783.3,745.59L783.55,743.73L783.46,742L783.87,740.79L784.01,739.34L784.15,737.48L784.36,735.76L784.46,734.48L784.53,732.73L784.81,731.3L784.73,729.92L785.09,728.09L785.15,726.38L785.33,724.64L785.6,723.19L785.68,721.65L785.82,719.82L786.07,718.31L786.25,716.54L786.37,714.69L786.63,713.11L786.8,711.71L786.99,709.87L787.11,707.97L787.39,706.77L787.5,704.73L787.74,703.29L787.91,701.61L788.15,700.49L788.43,698.81L788.65,697.16L788.9,695.82L789.14,694.11L789.31,692.57L789.61,691.12L789.74,689.28L789.99,688.22L790.28,686.42L790.57,684.68L790.87,683.14L791.29,681.35L791.44,679.44L791.92,678.49L792.12,676.55L792.54,675.13L793.07,673.43L793.46,672.29L793.89,670.74L794.29,669.07L794.76,667.96L795.29,666.75L795.92,665.42L796.47,663.75L797.04,662.6L798,661.06L798.93,659.53L800.49,658.71L801.53,659.72L802.52,661.33L803.11,662.56L803.61,664.33L804.47,666L805.01,667.48L805.39,669.16L805.77,670.75L806.04,672.29L806.56,673.87L806.74,675.82L807.2,677.69L807.46,679.18L807.76,680.57L808.12,682.13L808.28,683.31L808.78,685.41L808.82,686.74L809.11,687.81L809.47,689.6L809.61,690.97L810.1,692.45L810.13,694.09L810.43,695.79L810.74,697.2L810.94,698.8L811.12,700.19L811.28,702.29L811.59,703.63L811.86,705.42L812.01,706.96L812.32,708.31L812.52,709.84L812.63,711.66L812.81,712.9L813.07,714.48L813.24,716.07L813.5,717.73L813.7,719.24L813.92,720.9L814.05,722.12L814.08,723.55L814.43,725.35L814.66,726.88L814.78,728.39L814.98,729.86L815.08,731.65L815.36,733.31L815.43,734.93L815.59,736.36L815.72,738.11L815.93,739.4L816.19,740.96L816.18,742.73L816.54,743.88L816.56,745.78L816.69,747.17L816.75,748.97L816.99,750.47L817.31,752.21L817.39,753.63L817.51,754.8L817.58,756.48L817.89,758.37L817.92,759.63L818.23,761.22L818.24,762.65L818.36,764.16L818.65,766.12L818.9,767.47L818.87,768.83L819.03,770.64L819.17,772.09L819.44,773.42L819.56,775.1L819.7,776.81L819.89,778.36L820.01,780.08L820.23,781.72L820.45,783.11L820.52,784.68L820.89,786.19L821.05,787.95L821.3,789.7L821.44,791.06L821.55,792.67L821.93,794.31L822.16,795.99L822.22,797.65L822.51,798.83L822.84,800.44L822.93,802.14L823.19,803.44L823.38,805.19L823.41,806.9L823.67,808.09L823.97,809.94L824.07,811.37L824.31,812.75L824.54,814.56L824.71,816.17L824.95,817.5L825.09,819.12L825.48,820.82L825.63,822.26L825.84,823.74L825.99,825.46L826.3,826.98L826.5,828.69L826.73,830.22L827.04,831.84L827.01,833.52L827.22,835.09L827.51,836.56L827.68,838.11L827.85,839.96L828.07,841.3L828.27,842.85L828.5,844.26L828.66,846.26L828.98,848.01L829.16,849.41L829.31,851.15L829.55,852.77L829.76,854.47L829.96,855.92L830.3,857.62L830.39,859.06L830.6,860.55L830.75,862.12L830.92,863.76L831.28,865.35L831.29,866.62L831.52,868.27L831.75,869.45L831.87,871.62L832.18,872.81L832.3,874.52L832.47,876.15L832.68,877.38L833.06,878.85L833,880.46L833.23,882.04L833.29,883.76L833.46,885.5L833.72,886.46L834,888.22L834.16,889.87L834.39,891.19L834.44,892.87L834.56,894.55L834.81,896.17L834.98,897.51L835.25,899.16L835.44,900.79L835.66,902.41L835.97,903.92L836.09,905.25L836.27,907.26L836.63,908.55L836.72,910.33L837.06,911.69L837.3,913.38L837.45,915.09L837.89,916.42L838,917.91L838.2,919.27L838.5,921.15L838.8,922.38L838.92,924.01L839.15,925.45L839.47,927.34L839.7,928.63L840.05,930.25L840.26,931.66L840.67,933.01L840.87,934.75L841.37,936.28L841.52,937.72L841.95,939.04L842.15,941.24L842.45,942.81L842.82,944.07L843.01,945.84L843.33,947.36L843.58,949.13L843.93,950.57L844.11,952.31L844.31,953.59L844.71,955.25L844.9,956.68L845.35,958.53L845.71,960.25L845.95,961.91L846.26,963.37L846.67,965.29L846.87,966.42L847.15,968.35L847.52,969.89L847.91,971.57L848.29,973.2L848.65,974.65L849,975.9L849.38,977.43L849.72,978.86L850.08,980.55L850.57,981.89L851.02,983.58L851.39,985.13L851.87,986.36L852.3,987.99L852.86,989.47L853.37,990.83L853.73,992.42L854.26,994.1L854.9,995.67L855.38,997.19L855.89,998.84L856.49,1000.48L857.02,1002.12L857.59,1003.7L858.25,1005.03L858.79,1006.83L859.36,1008.48L859.98,1009.99L860.88,1011.41L861.77,1012.78L862.59,1014.15L863.51,1015.49L864.49,1016.61L865.49,1017.94L866.47,1018.93L867.47,1020.04L868.63,1020.84L869.75,1021.77L870.9,1022.58L871.97,1023.52L873.38,1024.06L874.75,1024.62L876.12,1025.19L877.5,1025.75L885,1026.6L900,1026.9" fill="none" stroke="#2e2e30" stroke-width="1.9" stroke-linejoin="round" stroke-linecap="butt"/></g>
<path d="M693.9,598.75L1122.5,598.75L1122.5,1027L693.9,1027Z" fill="none" stroke="#000" stroke-width="1.9"/>
<line x1="683.7" y1="1027" x2="693.9" y2="1027" stroke="#000" stroke-width="1.85" stroke-linecap="butt"/>
<text transform="matrix(0.8571 0.0000 0.0000 0.9639 670.5714 1033.7180)" font-family='"Liberation Sans", Arial, Helvetica, sans-serif' font-size="21" fill="#000" stroke="#000" stroke-width="0.45" stroke-linejoin="round">0</text>
<line x1="688.7" y1="987.04" x2="693.9" y2="987.04" stroke="#000" stroke-width="1.6" stroke-linecap="butt"/>
<line x1="683.7" y1="947.08" x2="693.9" y2="947.08" stroke="#000" stroke-width="1.85" stroke-linecap="butt"/>
<text transform="matrix(0.8727 0.0000 0.0000 0.9639 660.1455 953.7980)" font-family='"Liberation Sans", Arial, Helvetica, sans-serif' font-size="21" fill="#000" stroke="#000" stroke-width="0.45" stroke-linejoin="round">20</text>
<line x1="688.7" y1="907.12" x2="693.9" y2="907.12" stroke="#000" stroke-width="1.6" stroke-linecap="butt"/>
<line x1="683.7" y1="867.16" x2="693.9" y2="867.16" stroke="#000" stroke-width="1.85" stroke-linecap="butt"/>
<text transform="matrix(0.8533 0.0000 0.0000 0.9639 660.5867 873.8780)" font-family='"Liberation Sans", Arial, Helvetica, sans-serif' font-size="21" fill="#000" stroke="#000" stroke-width="0.45" stroke-linejoin="round">40</text>
<line x1="688.7" y1="827.2" x2="693.9" y2="827.2" stroke="#000" stroke-width="1.6" stroke-linecap="butt"/>
<line x1="683.7" y1="787.24" x2="693.9" y2="787.24" stroke="#000" stroke-width="1.85" stroke-linecap="butt"/>
<text transform="matrix(0.8727 0.0000 0.0000 0.9639 660.1455 793.9580)" font-family='"Liberation Sans", Arial, Helvetica, sans-serif' font-size="21" fill="#000" stroke="#000" stroke-width="0.45" stroke-linejoin="round">60</text>
<line x1="688.7" y1="747.28" x2="693.9" y2="747.28" stroke="#000" stroke-width="1.6" stroke-linecap="butt"/>
<line x1="683.7" y1="707.32" x2="693.9" y2="707.32" stroke="#000" stroke-width="1.85" stroke-linecap="butt"/>
<text transform="matrix(0.8727 0.0000 0.0000 0.9639 660.1455 714.0380)" font-family='"Liberation Sans", Arial, Helvetica, sans-serif' font-size="21" fill="#000" stroke="#000" stroke-width="0.45" stroke-linejoin="round">80</text>
<line x1="688.7" y1="667.36" x2="693.9" y2="667.36" stroke="#000" stroke-width="1.6" stroke-linecap="butt"/>
<line x1="683.7" y1="627.4" x2="693.9" y2="627.4" stroke="#000" stroke-width="1.85" stroke-linecap="butt"/>
<text transform="matrix(0.8576 0.0000 0.0000 0.9639 650.4136 634.1180)" font-family='"Liberation Sans", Arial, Helvetica, sans-serif' font-size="21" fill="#000" stroke="#000" stroke-width="0.45" stroke-linejoin="round">100</text>
<line x1="693.9" y1="1027" x2="693.9" y2="1037.2" stroke="#000" stroke-width="1.9" stroke-linecap="butt"/>
<text transform="matrix(0.7953 0.0000 0.0000 0.9508 680.4071 1058.3246)" font-family='"Liberation Sans", Arial, Helvetica, sans-serif' font-size="21" fill="#000" stroke="#000" stroke-width="0.45" stroke-linejoin="round">10</text>
<text transform="matrix(0.7857 0.0000 0.0000 0.9619 700.8071 1051.4595)" font-family='"Liberation Sans", Arial, Helvetica, sans-serif' font-size="14.5" fill="#000" stroke="#000" stroke-width="0.35" stroke-linejoin="round">2</text>
<line x1="722.5" y1="1027" x2="722.5" y2="1031.8" stroke="#000" stroke-width="1.6" stroke-linecap="butt"/>
<line x1="739.23" y1="1027" x2="739.23" y2="1031.8" stroke="#000" stroke-width="1.6" stroke-linecap="butt"/>
<line x1="751.1" y1="1027" x2="751.1" y2="1031.8" stroke="#000" stroke-width="1.6" stroke-linecap="butt"/>
<line x1="760.3" y1="1027" x2="760.3" y2="1031.8" stroke="#000" stroke-width="1.6" stroke-linecap="butt"/>
<line x1="767.82" y1="1027" x2="767.82" y2="1031.8" stroke="#000" stroke-width="1.6" stroke-linecap="butt"/>
<line x1="774.18" y1="1027" x2="774.18" y2="1031.8" stroke="#000" stroke-width="1.6" stroke-linecap="butt"/>
<line x1="779.69" y1="1027" x2="779.69" y2="1031.8" stroke="#000" stroke-width="1.6" stroke-linecap="butt"/>
<line x1="784.55" y1="1027" x2="784.55" y2="1031.8" stroke="#000" stroke-width="1.6" stroke-linecap="butt"/>
<line x1="788.9" y1="1027" x2="788.9" y2="1037.2" stroke="#000" stroke-width="1.9" stroke-linecap="butt"/>
<text transform="matrix(0.7953 0.0000 0.0000 0.9508 775.4071 1058.3246)" font-family='"Liberation Sans", Arial, Helvetica, sans-serif' font-size="21" fill="#000" stroke="#000" stroke-width="0.45" stroke-linejoin="round">10</text>
<text transform="matrix(0.7857 0.0000 0.0000 0.9619 795.8071 1051.4595)" font-family='"Liberation Sans", Arial, Helvetica, sans-serif' font-size="14.5" fill="#000" stroke="#000" stroke-width="0.35" stroke-linejoin="round">3</text>
<line x1="817.5" y1="1027" x2="817.5" y2="1031.8" stroke="#000" stroke-width="1.6" stroke-linecap="butt"/>
<line x1="834.23" y1="1027" x2="834.23" y2="1031.8" stroke="#000" stroke-width="1.6" stroke-linecap="butt"/>
<line x1="846.1" y1="1027" x2="846.1" y2="1031.8" stroke="#000" stroke-width="1.6" stroke-linecap="butt"/>
<line x1="855.3" y1="1027" x2="855.3" y2="1031.8" stroke="#000" stroke-width="1.6" stroke-linecap="butt"/>
<line x1="862.82" y1="1027" x2="862.82" y2="1031.8" stroke="#000" stroke-width="1.6" stroke-linecap="butt"/>
<line x1="869.18" y1="1027" x2="869.18" y2="1031.8" stroke="#000" stroke-width="1.6" stroke-linecap="butt"/>
<line x1="874.69" y1="1027" x2="874.69" y2="1031.8" stroke="#000" stroke-width="1.6" stroke-linecap="butt"/>
<line x1="879.55" y1="1027" x2="879.55" y2="1031.8" stroke="#000" stroke-width="1.6" stroke-linecap="butt"/>
<line x1="883.9" y1="1027" x2="883.9" y2="1037.2" stroke="#000" stroke-width="1.9" stroke-linecap="butt"/>
<text transform="matrix(0.7953 0.0000 0.0000 0.9508 870.4071 1058.3246)" font-family='"Liberation Sans", Arial, Helvetica, sans-serif' font-size="21" fill="#000" stroke="#000" stroke-width="0.45" stroke-linejoin="round">10</text>
<text transform="matrix(0.7333 0.0000 0.0000 0.9854 891.0167 1051.4537)" font-family='"Liberation Sans", Arial, Helvetica, sans-serif' font-size="14.5" fill="#000" stroke="#000" stroke-width="0.35" stroke-linejoin="round">4</text>
<line x1="912.5" y1="1027" x2="912.5" y2="1031.8" stroke="#000" stroke-width="1.6" stroke-linecap="butt"/>
<line x1="929.23" y1="1027" x2="929.23" y2="1031.8" stroke="#000" stroke-width="1.6" stroke-linecap="butt"/>
<line x1="941.1" y1="1027" x2="941.1" y2="1031.8" stroke="#000" stroke-width="1.6" stroke-linecap="butt"/>
<line x1="950.3" y1="1027" x2="950.3" y2="1031.8" stroke="#000" stroke-width="1.6" stroke-linecap="butt"/>
<line x1="957.82" y1="1027" x2="957.82" y2="1031.8" stroke="#000" stroke-width="1.6" stroke-linecap="butt"/>
<line x1="964.18" y1="1027" x2="964.18" y2="1031.8" stroke="#000" stroke-width="1.6" stroke-linecap="butt"/>
<line x1="969.69" y1="1027" x2="969.69" y2="1031.8" stroke="#000" stroke-width="1.6" stroke-linecap="butt"/>
<line x1="974.55" y1="1027" x2="974.55" y2="1031.8" stroke="#000" stroke-width="1.6" stroke-linecap="butt"/>
<line x1="978.9" y1="1027" x2="978.9" y2="1037.2" stroke="#000" stroke-width="1.9" stroke-linecap="butt"/>
<text transform="matrix(0.7953 0.0000 0.0000 0.9508 965.4071 1058.3246)" font-family='"Liberation Sans", Arial, Helvetica, sans-serif' font-size="21" fill="#000" stroke="#000" stroke-width="0.45" stroke-linejoin="round">10</text>
<text transform="matrix(0.7857 0.0000 0.0000 0.9854 985.8071 1051.4537)" font-family='"Liberation Sans", Arial, Helvetica, sans-serif' font-size="14.5" fill="#000" stroke="#000" stroke-width="0.35" stroke-linejoin="round">5</text>
<line x1="1007.5" y1="1027" x2="1007.5" y2="1031.8" stroke="#000" stroke-width="1.6" stroke-linecap="butt"/>
<line x1="1024.23" y1="1027" x2="1024.23" y2="1031.8" stroke="#000" stroke-width="1.6" stroke-linecap="butt"/>
<line x1="1036.1" y1="1027" x2="1036.1" y2="1031.8" stroke="#000" stroke-width="1.6" stroke-linecap="butt"/>
<line x1="1045.3" y1="1027" x2="1045.3" y2="1031.8" stroke="#000" stroke-width="1.6" stroke-linecap="butt"/>
<line x1="1052.82" y1="1027" x2="1052.82" y2="1031.8" stroke="#000" stroke-width="1.6" stroke-linecap="butt"/>
<line x1="1059.18" y1="1027" x2="1059.18" y2="1031.8" stroke="#000" stroke-width="1.6" stroke-linecap="butt"/>
<line x1="1064.69" y1="1027" x2="1064.69" y2="1031.8" stroke="#000" stroke-width="1.6" stroke-linecap="butt"/>
<line x1="1069.55" y1="1027" x2="1069.55" y2="1031.8" stroke="#000" stroke-width="1.6" stroke-linecap="butt"/>
<line x1="1073.9" y1="1027" x2="1073.9" y2="1037.2" stroke="#000" stroke-width="1.9" stroke-linecap="butt"/>
<text transform="matrix(0.7953 0.0000 0.0000 0.9508 1060.4071 1058.3246)" font-family='"Liberation Sans", Arial, Helvetica, sans-serif' font-size="21" fill="#000" stroke="#000" stroke-width="0.45" stroke-linejoin="round">10</text>
<text transform="matrix(0.7857 0.0000 0.0000 0.9619 1080.8071 1051.4595)" font-family='"Liberation Sans", Arial, Helvetica, sans-serif' font-size="14.5" fill="#000" stroke="#000" stroke-width="0.35" stroke-linejoin="round">6</text>
<line x1="1102.5" y1="1027" x2="1102.5" y2="1031.8" stroke="#000" stroke-width="1.6" stroke-linecap="butt"/>
<line x1="1119.23" y1="1027" x2="1119.23" y2="1031.8" stroke="#000" stroke-width="1.6" stroke-linecap="butt"/>
<text transform="matrix(0.8979 0.0000 0.0000 0.9062 708.5766 633.9204)" font-family='"Liberation Sans", Arial, Helvetica, sans-serif' font-size="27" fill="#000" stroke="#000" stroke-width="1.15" stroke-linejoin="round">SK-OV-3</text>
<text transform="matrix(0.8563 0.0000 0.0000 0.9188 1026.5014 633.1871)" font-family='"Liberation Sans", Arial, Helvetica, sans-serif' font-size="27" fill="#00a651" stroke="#00a651" stroke-width="0.9" stroke-linejoin="round">EpCam</text>
<text transform="matrix(0.9228 0.0000 0.0000 0.9600 1023.6543 664.2400)" font-family='"Liberation Sans", Arial, Helvetica, sans-serif' font-size="27" fill="#808080" stroke="#808080" stroke-width="0.9" stroke-linejoin="round">Isotype</text>
<line x1="869.25" y1="878.25" x2="998.25" y2="878.25" stroke="#000" stroke-width="1.5" stroke-linecap="butt"/>
<line x1="869.25" y1="868.75" x2="869.25" y2="886.4" stroke="#000" stroke-width="1.5" stroke-linecap="butt"/>
<line x1="998.25" y1="868.75" x2="998.25" y2="886.4" stroke="#000" stroke-width="1.5" stroke-linecap="butt"/>
<text transform="matrix(1.0047 0.0000 0.0000 0.9333 965.4965 865.7000)" font-family='"Liberation Sans", Arial, Helvetica, sans-serif' font-size="27" fill="#000" stroke="#000" stroke-width="1.25" stroke-linejoin="round">98%</text>
<text transform="matrix(1.0114 0.0000 0.0000 0.9659 869.5000 1099.0085)" font-family='"Liberation Sans", Arial, Helvetica, sans-serif' font-size="30" fill="#000">Alexa 647</text>
<path d="M1171.5,598.25L1134.5,598.25L1134.5,671.75L1171.5,671.75" fill="none" stroke="#cbcbcb" stroke-width="1.5"/>
<rect x="1138.4" y="603.4" width="29.45" height="28.7" fill="#c0bfc3" stroke="#38383a" stroke-width="1.8"/>
<rect x="1138.9" y="638.9" width="28.45" height="27.95" fill="#f4fef3" stroke="#00e800" stroke-width="2.8"/>
<text transform="matrix(0.0000 -0.8446 1.0779 0.0000 625.7110 845.1334)" font-family='"Liberation Sans", Arial, Helvetica, sans-serif' font-size="27" fill="#000" stroke="#000" stroke-width="0.3" stroke-linejoin="round">%Max</text>
<g clip-path="url(#cpB3)"><path d="M1410,1026.2C1411.17,1025.92 1414.92,1025.33 1417,1024.5C1419.08,1023.67 1421,1023 1422.5,1021.25C1424,1019.5 1424.92,1016.71 1426,1014C1427.08,1011.29 1428.08,1008.67 1429,1005C1429.92,1001.33 1430.67,997 1431.5,992C1432.33,987 1433.25,981 1434,975C1434.75,969 1435.38,962.67 1436,956C1436.62,949.33 1437.15,943.17 1437.75,935C1438.35,926.83 1438.97,917 1439.6,907C1440.22,897 1440.93,884.5 1441.5,875C1442.07,865.5 1442.5,859.58 1443,850C1443.5,840.42 1444,827.5 1444.5,817.5C1445,807.5 1445.46,802.5 1446,790C1446.54,777.5 1447.15,755 1447.75,742.5C1448.35,730 1448.97,724.58 1449.6,715C1450.22,705.42 1450.97,692.17 1451.5,685C1452.03,677.83 1452.38,676.17 1452.8,672C1453.22,667.83 1453.55,663 1454,660C1454.45,657 1455,655.46 1455.5,654C1456,652.54 1456.48,651.08 1457,651.25C1457.52,651.42 1458.06,653.12 1458.6,655C1459.14,656.88 1459.68,659 1460.25,662.5C1460.82,666 1461.38,671 1462,676C1462.62,681 1463.25,685.5 1464,692.5C1464.75,699.5 1465.67,709.67 1466.5,718C1467.33,726.33 1468.17,734.83 1469,742.5C1469.83,750.17 1470.67,756.92 1471.5,764C1472.33,771.08 1473.17,777.67 1474,785C1474.83,792.33 1475.67,800.5 1476.5,808C1477.33,815.5 1478.17,822.5 1479,830C1479.83,837.5 1480.67,845.5 1481.5,853C1482.33,860.5 1483.17,867.83 1484,875C1484.83,882.17 1485.67,888.92 1486.5,896C1487.33,903.08 1488.25,912.17 1489,917.5C1489.75,922.83 1490.38,924.58 1491,928C1491.62,931.42 1491.92,934 1492.75,938C1493.58,942 1494.96,947.5 1496,952C1497.04,956.5 1498,960.5 1499,965C1500,969.5 1500.96,974.42 1502,979C1503.04,983.58 1504,988.5 1505.25,992.5C1506.5,996.5 1508.04,999.67 1509.5,1003C1510.96,1006.33 1512.42,1010 1514,1012.5C1515.58,1015 1517.33,1016.54 1519,1018C1520.67,1019.46 1521.83,1020.32 1524,1021.25C1526.17,1022.18 1529.08,1022.98 1532,1023.6C1534.92,1024.22 1536.83,1024.6 1541.5,1025C1546.17,1025.4 1553.58,1025.78 1560,1026C1566.42,1026.22 1576.67,1026.25 1580,1026.3L1580,1026.6L1410,1026.6Z" fill="#9e9da4" fill-opacity="0.66" stroke="none"/>
<path d="M1410,1026.2C1411.17,1025.92 1414.92,1025.33 1417,1024.5C1419.08,1023.67 1421,1023 1422.5,1021.25C1424,1019.5 1424.92,1016.71 1426,1014C1427.08,1011.29 1428.08,1008.67 1429,1005C1429.92,1001.33 1430.67,997 1431.5,992C1432.33,987 1433.25,981 1434,975C1434.75,969 1435.38,962.67 1436,956C1436.62,949.33 1437.15,943.17 1437.75,935C1438.35,926.83 1438.97,917 1439.6,907C1440.22,897 1440.93,884.5 1441.5,875C1442.07,865.5 1442.5,859.58 1443,850C1443.5,840.42 1444,827.5 1444.5,817.5C1445,807.5 1445.46,802.5 1446,790C1446.54,777.5 1447.15,755 1447.75,742.5C1448.35,730 1448.97,724.58 1449.6,715C1450.22,705.42 1450.97,692.17 1451.5,685C1452.03,677.83 1452.38,676.17 1452.8,672C1453.22,667.83 1453.55,663 1454,660C1454.45,657 1455,655.46 1455.5,654C1456,652.54 1456.48,651.08 1457,651.25C1457.52,651.42 1458.06,653.12 1458.6,655C1459.14,656.88 1459.68,659 1460.25,662.5C1460.82,666 1461.38,671 1462,676C1462.62,681 1463.25,685.5 1464,692.5C1464.75,699.5 1465.67,709.67 1466.5,718C1467.33,726.33 1468.17,734.83 1469,742.5C1469.83,750.17 1470.67,756.92 1471.5,764C1472.33,771.08 1473.17,777.67 1474,785C1474.83,792.33 1475.67,800.5 1476.5,808C1477.33,815.5 1478.17,822.5 1479,830C1479.83,837.5 1480.67,845.5 1481.5,853C1482.33,860.5 1483.17,867.83 1484,875C1484.83,882.17 1485.67,888.92 1486.5,896C1487.33,903.08 1488.25,912.17 1489,917.5C1489.75,922.83 1490.38,924.58 1491,928C1491.62,931.42 1491.92,934 1492.75,938C1493.58,942 1494.96,947.5 1496,952C1497.04,956.5 1498,960.5 1499,965C1500,969.5 1500.96,974.42 1502,979C1503.04,983.58 1504,988.5 1505.25,992.5C1506.5,996.5 1508.04,999.67 1509.5,1003C1510.96,1006.33 1512.42,1010 1514,1012.5C1515.58,1015 1517.33,1016.54 1519,1018C1520.67,1019.46 1521.83,1020.32 1524,1021.25C1526.17,1022.18 1529.08,1022.98 1532,1023.6C1534.92,1024.22 1536.83,1024.6 1541.5,1025C1546.17,1025.4 1553.58,1025.78 1560,1026C1566.42,1026.22 1576.67,1026.25 1580,1026.3" fill="none" stroke="#2e2e30" stroke-width="1.9" stroke-linejoin="round" stroke-linecap="butt"/></g>
<g clip-path="url(#cpB3)"><path d="M1292,1026.18C1316.67,1026.18 1413.33,1026.25 1440,1026.18C1466.67,1026.11 1448,1026.58 1452,1025.76C1456,1024.94 1460.67,1022.29 1464,1021.25C1467.33,1020.21 1469.5,1020.12 1472,1019.5C1474.5,1018.88 1477,1018.2 1479,1017.5C1481,1016.8 1482.33,1016.13 1484,1015.3C1485.67,1014.47 1487.5,1013.52 1489,1012.5C1490.5,1011.48 1491.75,1010.45 1493,1009.2C1494.25,1007.95 1495.28,1006.87 1496.5,1005C1497.72,1003.13 1499.05,1000.5 1500.3,998C1501.55,995.5 1502.97,992.92 1504,990C1505.03,987.08 1505.67,983.83 1506.5,980.5C1507.33,977.17 1508.17,973.75 1509,970C1509.83,966.25 1510.67,962.17 1511.5,958C1512.33,953.83 1513.25,949.17 1514,945C1514.75,940.83 1515.38,937.17 1516,933C1516.62,928.83 1517.15,924.58 1517.75,920C1518.35,915.42 1518.97,910.5 1519.6,905.5C1520.22,900.5 1520.87,895.25 1521.5,890C1522.13,884.75 1522.78,879.42 1523.4,874C1524.03,868.58 1524.63,863 1525.25,857.5C1525.87,852 1526.47,846.42 1527.1,841C1527.72,835.58 1528.47,829.33 1529,825C1529.53,820.67 1529.88,818.33 1530.3,815C1530.72,811.67 1530.98,810.5 1531.5,805C1532.02,799.5 1532.78,789.5 1533.4,782C1534.03,774.5 1534.63,766.67 1535.25,760C1535.87,753.33 1536.47,747.83 1537.1,742C1537.72,736.17 1538.27,731.17 1539,725C1539.73,718.83 1540.67,711.25 1541.5,705C1542.33,698.75 1543.17,692.67 1544,687.5C1544.83,682.33 1545.67,678.17 1546.5,674C1547.33,669.83 1548.25,665.25 1549,662.5C1549.75,659.75 1550.33,658.75 1551,657.5C1551.67,656.25 1552.38,655.5 1553,655C1553.62,654.5 1554.17,654.08 1554.75,654.5C1555.33,654.92 1555.79,655.33 1556.5,657.5C1557.21,659.67 1558.17,663.42 1559,667.5C1559.83,671.58 1560.67,677 1561.5,682C1562.33,687 1563.08,692.17 1564,697.5C1564.92,702.83 1565.96,708.58 1567,714C1568.04,719.42 1569.18,724.5 1570.25,730C1571.32,735.5 1572.36,741.17 1573.4,747C1574.44,752.83 1575.57,759.08 1576.5,765C1577.43,770.92 1578.17,776.67 1579,782.5C1579.83,788.33 1580.67,794.08 1581.5,800C1582.33,805.92 1583.17,811.75 1584,818C1584.83,824.25 1585.67,831.5 1586.5,837.5C1587.33,843.5 1588.17,848.58 1589,854C1589.83,859.42 1590.67,865 1591.5,870C1592.33,875 1592.96,878.17 1594,884C1595.04,889.83 1596.6,898.92 1597.75,905C1598.9,911.08 1599.86,915.5 1600.9,920.5C1601.94,925.5 1603.07,930.92 1604,935C1604.93,939.08 1605.46,941.17 1606.5,945C1607.54,948.83 1609,953.75 1610.25,958C1611.5,962.25 1612.76,966 1614,970.5C1615.24,975 1616.45,980.08 1617.7,985C1618.95,989.92 1620.25,996.42 1621.5,1000C1622.75,1003.58 1623.95,1004.42 1625.2,1006.5C1626.45,1008.58 1627.75,1010.83 1629,1012.5C1630.25,1014.17 1631.45,1015.25 1632.7,1016.5C1633.95,1017.75 1635.12,1018.92 1636.5,1020C1637.88,1021.08 1639.33,1022.02 1641,1023C1642.67,1023.98 1644.33,1025.36 1646.5,1025.88C1648.67,1026.4 1651.5,1026.07 1654,1026.12C1656.5,1026.18 1655.5,1026.19 1661.5,1026.21C1667.5,1026.23 1680.25,1026.24 1690,1026.24C1699.75,1026.24 1715,1026.24 1720,1026.24L1720,1026.6L1292,1026.6Z" fill="#f20000" fill-opacity="0.06" stroke="none"/>
<path d="M1292,1026.18C1316.67,1026.18 1413.33,1026.25 1440,1026.18C1466.67,1026.11 1448,1026.58 1452,1025.76C1456,1024.94 1460.67,1022.29 1464,1021.25C1467.33,1020.21 1469.5,1020.12 1472,1019.5C1474.5,1018.88 1477,1018.2 1479,1017.5C1481,1016.8 1482.33,1016.13 1484,1015.3C1485.67,1014.47 1487.5,1013.52 1489,1012.5C1490.5,1011.48 1491.75,1010.45 1493,1009.2C1494.25,1007.95 1495.28,1006.87 1496.5,1005C1497.72,1003.13 1499.05,1000.5 1500.3,998C1501.55,995.5 1502.97,992.92 1504,990C1505.03,987.08 1505.67,983.83 1506.5,980.5C1507.33,977.17 1508.17,973.75 1509,970C1509.83,966.25 1510.67,962.17 1511.5,958C1512.33,953.83 1513.25,949.17 1514,945C1514.75,940.83 1515.38,937.17 1516,933C1516.62,928.83 1517.15,924.58 1517.75,920C1518.35,915.42 1518.97,910.5 1519.6,905.5C1520.22,900.5 1520.87,895.25 1521.5,890C1522.13,884.75 1522.78,879.42 1523.4,874C1524.03,868.58 1524.63,863 1525.25,857.5C1525.87,852 1526.47,846.42 1527.1,841C1527.72,835.58 1528.47,829.33 1529,825C1529.53,820.67 1529.88,818.33 1530.3,815C1530.72,811.67 1530.98,810.5 1531.5,805C1532.02,799.5 1532.78,789.5 1533.4,782C1534.03,774.5 1534.63,766.67 1535.25,760C1535.87,753.33 1536.47,747.83 1537.1,742C1537.72,736.17 1538.27,731.17 1539,725C1539.73,718.83 1540.67,711.25 1541.5,705C1542.33,698.75 1543.17,692.67 1544,687.5C1544.83,682.33 1545.67,678.17 1546.5,674C1547.33,669.83 1548.25,665.25 1549,662.5C1549.75,659.75 1550.33,658.75 1551,657.5C1551.67,656.25 1552.38,655.5 1553,655C1553.62,654.5 1554.17,654.08 1554.75,654.5C1555.33,654.92 1555.79,655.33 1556.5,657.5C1557.21,659.67 1558.17,663.42 1559,667.5C1559.83,671.58 1560.67,677 1561.5,682C1562.33,687 1563.08,692.17 1564,697.5C1564.92,702.83 1565.96,708.58 1567,714C1568.04,719.42 1569.18,724.5 1570.25,730C1571.32,735.5 1572.36,741.17 1573.4,747C1574.44,752.83 1575.57,759.08 1576.5,765C1577.43,770.92 1578.17,776.67 1579,782.5C1579.83,788.33 1580.67,794.08 1581.5,800C1582.33,805.92 1583.17,811.75 1584,818C1584.83,824.25 1585.67,831.5 1586.5,837.5C1587.33,843.5 1588.17,848.58 1589,854C1589.83,859.42 1590.67,865 1591.5,870C1592.33,875 1592.96,878.17 1594,884C1595.04,889.83 1596.6,898.92 1597.75,905C1598.9,911.08 1599.86,915.5 1600.9,920.5C1601.94,925.5 1603.07,930.92 1604,935C1604.93,939.08 1605.46,941.17 1606.5,945C1607.54,948.83 1609,953.75 1610.25,958C1611.5,962.25 1612.76,966 1614,970.5C1615.24,975 1616.45,980.08 1617.7,985C1618.95,989.92 1620.25,996.42 1621.5,1000C1622.75,1003.58 1623.95,1004.42 1625.2,1006.5C1626.45,1008.58 1627.75,1010.83 1629,1012.5C1630.25,1014.17 1631.45,1015.25 1632.7,1016.5C1633.95,1017.75 1635.12,1018.92 1636.5,1020C1637.88,1021.08 1639.33,1022.02 1641,1023C1642.67,1023.98 1644.33,1025.36 1646.5,1025.88C1648.67,1026.4 1651.5,1026.07 1654,1026.12C1656.5,1026.18 1655.5,1026.19 1661.5,1026.21C1667.5,1026.23 1680.25,1026.24 1690,1026.24C1699.75,1026.24 1715,1026.24 1720,1026.24" fill="none" stroke="#f20000" stroke-width="2.6" stroke-linejoin="round" stroke-linecap="butt"/></g>
<path d="M1291.9,598.4L1720.6,598.4L1720.6,1026.6L1291.9,1026.6Z" fill="none" stroke="#000" stroke-width="1.9"/>
<line x1="1281.7" y1="1026.6" x2="1291.9" y2="1026.6" stroke="#000" stroke-width="1.85" stroke-linecap="butt"/>
<text transform="matrix(0.8571 0.0000 0.0000 0.9639 1268.5714 1033.3180)" font-family='"Liberation Sans", Arial, Helvetica, sans-serif' font-size="21" fill="#000" stroke="#000" stroke-width="0.45" stroke-linejoin="round">0</text>
<line x1="1286.7" y1="986.62" x2="1291.9" y2="986.62" stroke="#000" stroke-width="1.6" stroke-linecap="butt"/>
<line x1="1281.7" y1="946.64" x2="1291.9" y2="946.64" stroke="#000" stroke-width="1.85" stroke-linecap="butt"/>
<text transform="matrix(0.8727 0.0000 0.0000 0.9639 1258.1455 953.3580)" font-family='"Liberation Sans", Arial, Helvetica, sans-serif' font-size="21" fill="#000" stroke="#000" stroke-width="0.45" stroke-linejoin="round">20</text>
<line x1="1286.7" y1="906.66" x2="1291.9" y2="906.66" stroke="#000" stroke-width="1.6" stroke-linecap="butt"/>
<line x1="1281.7" y1="866.68" x2="1291.9" y2="866.68" stroke="#000" stroke-width="1.85" stroke-linecap="butt"/>
<text transform="matrix(0.8533 0.0000 0.0000 0.9639 1258.5867 873.3980)" font-family='"Liberation Sans", Arial, Helvetica, sans-serif' font-size="21" fill="#000" stroke="#000" stroke-width="0.45" stroke-linejoin="round">40</text>
<line x1="1286.7" y1="826.7" x2="1291.9" y2="826.7" stroke="#000" stroke-width="1.6" stroke-linecap="butt"/>
<line x1="1281.7" y1="786.72" x2="1291.9" y2="786.72" stroke="#000" stroke-width="1.85" stroke-linecap="butt"/>
<text transform="matrix(0.8727 0.0000 0.0000 0.9639 1258.1455 793.4380)" font-family='"Liberation Sans", Arial, Helvetica, sans-serif' font-size="21" fill="#000" stroke="#000" stroke-width="0.45" stroke-linejoin="round">60</text>
<line x1="1286.7" y1="746.74" x2="1291.9" y2="746.74" stroke="#000" stroke-width="1.6" stroke-linecap="butt"/>
<line x1="1281.7" y1="706.76" x2="1291.9" y2="706.76" stroke="#000" stroke-width="1.85" stroke-linecap="butt"/>
<text transform="matrix(0.8727 0.0000 0.0000 0.9639 1258.1455 713.4780)" font-family='"Liberation Sans", Arial, Helvetica, sans-serif' font-size="21" fill="#000" stroke="#000" stroke-width="0.45" stroke-linejoin="round">80</text>
<line x1="1286.7" y1="666.78" x2="1291.9" y2="666.78" stroke="#000" stroke-width="1.6" stroke-linecap="butt"/>
<line x1="1281.7" y1="626.8" x2="1291.9" y2="626.8" stroke="#000" stroke-width="1.85" stroke-linecap="butt"/>
<text transform="matrix(0.8576 0.0000 0.0000 0.9639 1248.4136 633.5180)" font-family='"Liberation Sans", Arial, Helvetica, sans-serif' font-size="21" fill="#000" stroke="#000" stroke-width="0.45" stroke-linejoin="round">100</text>
<line x1="1300.34" y1="1026.6" x2="1300.34" y2="1031.4" stroke="#000" stroke-width="1.6" stroke-linecap="butt"/>
<line x1="1307.88" y1="1026.6" x2="1307.88" y2="1031.4" stroke="#000" stroke-width="1.6" stroke-linecap="butt"/>
<line x1="1314.04" y1="1026.6" x2="1314.04" y2="1031.4" stroke="#000" stroke-width="1.6" stroke-linecap="butt"/>
<line x1="1319.25" y1="1026.6" x2="1319.25" y2="1031.4" stroke="#000" stroke-width="1.6" stroke-linecap="butt"/>
<line x1="1323.76" y1="1026.6" x2="1323.76" y2="1031.4" stroke="#000" stroke-width="1.6" stroke-linecap="butt"/>
<line x1="1327.74" y1="1026.6" x2="1327.74" y2="1031.4" stroke="#000" stroke-width="1.6" stroke-linecap="butt"/>
<line x1="1331.3" y1="1026.6" x2="1331.3" y2="1036.8" stroke="#000" stroke-width="1.9" stroke-linecap="butt"/>
<text transform="matrix(0.7953 0.0000 0.0000 0.9508 1317.8071 1057.9246)" font-family='"Liberation Sans", Arial, Helvetica, sans-serif' font-size="21" fill="#000" stroke="#000" stroke-width="0.45" stroke-linejoin="round">10</text>
<text transform="matrix(0.7857 0.0000 0.0000 0.9619 1338.2071 1051.0595)" font-family='"Liberation Sans", Arial, Helvetica, sans-serif' font-size="14.5" fill="#000" stroke="#000" stroke-width="0.35" stroke-linejoin="round">2</text>
<line x1="1354.72" y1="1026.6" x2="1354.72" y2="1031.4" stroke="#000" stroke-width="1.6" stroke-linecap="butt"/>
<line x1="1368.42" y1="1026.6" x2="1368.42" y2="1031.4" stroke="#000" stroke-width="1.6" stroke-linecap="butt"/>
<line x1="1378.14" y1="1026.6" x2="1378.14" y2="1031.4" stroke="#000" stroke-width="1.6" stroke-linecap="butt"/>
<line x1="1385.68" y1="1026.6" x2="1385.68" y2="1031.4" stroke="#000" stroke-width="1.6" stroke-linecap="butt"/>
<line x1="1391.84" y1="1026.6" x2="1391.84" y2="1031.4" stroke="#000" stroke-width="1.6" stroke-linecap="butt"/>
<line x1="1397.05" y1="1026.6" x2="1397.05" y2="1031.4" stroke="#000" stroke-width="1.6" stroke-linecap="butt"/>
<line x1="1401.56" y1="1026.6" x2="1401.56" y2="1031.4" stroke="#000" stroke-width="1.6" stroke-linecap="butt"/>
<line x1="1405.54" y1="1026.6" x2="1405.54" y2="1031.4" stroke="#000" stroke-width="1.6" stroke-linecap="butt"/>
<line x1="1409.1" y1="1026.6" x2="1409.1" y2="1036.8" stroke="#000" stroke-width="1.9" stroke-linecap="butt"/>
<text transform="matrix(0.7953 0.0000 0.0000 0.9508 1395.6071 1057.9246)" font-family='"Liberation Sans", Arial, Helvetica, sans-serif' font-size="21" fill="#000" stroke="#000" stroke-width="0.45" stroke-linejoin="round">10</text>
<text transform="matrix(0.7857 0.0000 0.0000 0.9619 1416.0071 1051.0595)" font-family='"Liberation Sans", Arial, Helvetica, sans-serif' font-size="14.5" fill="#000" stroke="#000" stroke-width="0.35" stroke-linejoin="round">3</text>
<line x1="1432.52" y1="1026.6" x2="1432.52" y2="1031.4" stroke="#000" stroke-width="1.6" stroke-linecap="butt"/>
<line x1="1446.22" y1="1026.6" x2="1446.22" y2="1031.4" stroke="#000" stroke-width="1.6" stroke-linecap="butt"/>
<line x1="1455.94" y1="1026.6" x2="1455.94" y2="1031.4" stroke="#000" stroke-width="1.6" stroke-linecap="butt"/>
<line x1="1463.48" y1="1026.6" x2="1463.48" y2="1031.4" stroke="#000" stroke-width="1.6" stroke-linecap="butt"/>
<line x1="1469.64" y1="1026.6" x2="1469.64" y2="1031.4" stroke="#000" stroke-width="1.6" stroke-linecap="butt"/>
<line x1="1474.85" y1="1026.6" x2="1474.85" y2="1031.4" stroke="#000" stroke-width="1.6" stroke-linecap="butt"/>
<line x1="1479.36" y1="1026.6" x2="1479.36" y2="1031.4" stroke="#000" stroke-width="1.6" stroke-linecap="butt"/>
<line x1="1483.34" y1="1026.6" x2="1483.34" y2="1031.4" stroke="#000" stroke-width="1.6" stroke-linecap="butt"/>
<line x1="1486.9" y1="1026.6" x2="1486.9" y2="1036.8" stroke="#000" stroke-width="1.9" stroke-linecap="butt"/>
<text transform="matrix(0.7953 0.0000 0.0000 0.9508 1473.4071 1057.9246)" font-family='"Liberation Sans", Arial, Helvetica, sans-serif' font-size="21" fill="#000" stroke="#000" stroke-width="0.45" stroke-linejoin="round">10</text>
<text transform="matrix(0.7333 0.0000 0.0000 0.9854 1494.0167 1051.0537)" font-family='"Liberation Sans", Arial, Helvetica, sans-serif' font-size="14.5" fill="#000" stroke="#000" stroke-width="0.35" stroke-linejoin="round">4</text>
<line x1="1510.32" y1="1026.6" x2="1510.32" y2="1031.4" stroke="#000" stroke-width="1.6" stroke-linecap="butt"/>
<line x1="1524.02" y1="1026.6" x2="1524.02" y2="1031.4" stroke="#000" stroke-width="1.6" stroke-linecap="butt"/>
<line x1="1533.74" y1="1026.6" x2="1533.74" y2="1031.4" stroke="#000" stroke-width="1.6" stroke-linecap="butt"/>
<line x1="1541.28" y1="1026.6" x2="1541.28" y2="1031.4" stroke="#000" stroke-width="1.6" stroke-linecap="butt"/>
<line x1="1547.44" y1="1026.6" x2="1547.44" y2="1031.4" stroke="#000" stroke-width="1.6" stroke-linecap="butt"/>
<line x1="1552.65" y1="1026.6" x2="1552.65" y2="1031.4" stroke="#000" stroke-width="1.6" stroke-linecap="butt"/>
<line x1="1557.16" y1="1026.6" x2="1557.16" y2="1031.4" stroke="#000" stroke-width="1.6" stroke-linecap="butt"/>
<line x1="1561.14" y1="1026.6" x2="1561.14" y2="1031.4" stroke="#000" stroke-width="1.6" stroke-linecap="butt"/>
<line x1="1564.7" y1="1026.6" x2="1564.7" y2="1036.8" stroke="#000" stroke-width="1.9" stroke-linecap="butt"/>
<text transform="matrix(0.7953 0.0000 0.0000 0.9508 1551.2071 1057.9246)" font-family='"Liberation Sans", Arial, Helvetica, sans-serif' font-size="21" fill="#000" stroke="#000" stroke-width="0.45" stroke-linejoin="round">10</text>
<text transform="matrix(0.7857 0.0000 0.0000 0.9854 1571.6071 1051.0537)" font-family='"Liberation Sans", Arial, Helvetica, sans-serif' font-size="14.5" fill="#000" stroke="#000" stroke-width="0.35" stroke-linejoin="round">5</text>
<line x1="1588.12" y1="1026.6" x2="1588.12" y2="1031.4" stroke="#000" stroke-width="1.6" stroke-linecap="butt"/>
<line x1="1601.82" y1="1026.6" x2="1601.82" y2="1031.4" stroke="#000" stroke-width="1.6" stroke-linecap="butt"/>
<line x1="1611.54" y1="1026.6" x2="1611.54" y2="1031.4" stroke="#000" stroke-width="1.6" stroke-linecap="butt"/>
<line x1="1619.08" y1="1026.6" x2="1619.08" y2="1031.4" stroke="#000" stroke-width="1.6" stroke-linecap="butt"/>
<line x1="1625.24" y1="1026.6" x2="1625.24" y2="1031.4" stroke="#000" stroke-width="1.6" stroke-linecap="butt"/>
<line x1="1630.45" y1="1026.6" x2="1630.45" y2="1031.4" stroke="#000" stroke-width="1.6" stroke-linecap="butt"/>
<line x1="1634.96" y1="1026.6" x2="1634.96" y2="1031.4" stroke="#000" stroke-width="1.6" stroke-linecap="butt"/>
<line x1="1638.94" y1="1026.6" x2="1638.94" y2="1031.4" stroke="#000" stroke-width="1.6" stroke-linecap="butt"/>
<line x1="1642.5" y1="1026.6" x2="1642.5" y2="1036.8" stroke="#000" stroke-width="1.9" stroke-linecap="butt"/>
<text transform="matrix(0.7953 0.0000 0.0000 0.9508 1629.0071 1057.9246)" font-family='"Liberation Sans", Arial, Helvetica, sans-serif' font-size="21" fill="#000" stroke="#000" stroke-width="0.45" stroke-linejoin="round">10</text>
<text transform="matrix(0.7857 0.0000 0.0000 0.9619 1649.4071 1051.0595)" font-family='"Liberation Sans", Arial, Helvetica, sans-serif' font-size="14.5" fill="#000" stroke="#000" stroke-width="0.35" stroke-linejoin="round">6</text>
<line x1="1665.92" y1="1026.6" x2="1665.92" y2="1031.4" stroke="#000" stroke-width="1.6" stroke-linecap="butt"/>
<line x1="1679.62" y1="1026.6" x2="1679.62" y2="1031.4" stroke="#000" stroke-width="1.6" stroke-linecap="butt"/>
<line x1="1689.34" y1="1026.6" x2="1689.34" y2="1031.4" stroke="#000" stroke-width="1.6" stroke-linecap="butt"/>
<line x1="1696.88" y1="1026.6" x2="1696.88" y2="1031.4" stroke="#000" stroke-width="1.6" stroke-linecap="butt"/>
<line x1="1703.04" y1="1026.6" x2="1703.04" y2="1031.4" stroke="#000" stroke-width="1.6" stroke-linecap="butt"/>
<line x1="1708.25" y1="1026.6" x2="1708.25" y2="1031.4" stroke="#000" stroke-width="1.6" stroke-linecap="butt"/>
<line x1="1712.76" y1="1026.6" x2="1712.76" y2="1031.4" stroke="#000" stroke-width="1.6" stroke-linecap="butt"/>
<line x1="1716.74" y1="1026.6" x2="1716.74" y2="1031.4" stroke="#000" stroke-width="1.6" stroke-linecap="butt"/>
<line x1="1720.3" y1="1026.6" x2="1720.3" y2="1036.8" stroke="#000" stroke-width="1.9" stroke-linecap="butt"/>
<text transform="matrix(0.7953 0.0000 0.0000 0.9508 1706.8071 1057.9246)" font-family='"Liberation Sans", Arial, Helvetica, sans-serif' font-size="21" fill="#000" stroke="#000" stroke-width="0.45" stroke-linejoin="round">10</text>
<text transform="matrix(0.7857 0.0000 0.0000 0.9854 1727.2071 1051.0537)" font-family='"Liberation Sans", Arial, Helvetica, sans-serif' font-size="14.5" fill="#000" stroke="#000" stroke-width="0.35" stroke-linejoin="round">7</text>
<rect x="1288.6" y="1020.7" width="213.4" height="6.6" fill="#fa0000"/>
<text transform="matrix(0.9002 0.0000 0.0000 0.9062 1310.0748 633.9204)" font-family='"Liberation Sans", Arial, Helvetica, sans-serif' font-size="27" fill="#000" stroke="#000" stroke-width="1.15" stroke-linejoin="round">SK-OV-3</text>
<text transform="matrix(0.9187 0.0000 0.0000 0.8950 1652.5813 634.0288)" font-family='"Liberation Sans", Arial, Helvetica, sans-serif' font-size="27" fill="#ff0000" stroke="#ff0000" stroke-width="0.9" stroke-linejoin="round">CD9</text>
<text transform="matrix(0.9258 0.0000 0.0000 0.9400 1622.1484 664.8600)" font-family='"Liberation Sans", Arial, Helvetica, sans-serif' font-size="27" fill="#808080" stroke="#808080" stroke-width="0.9" stroke-linejoin="round">Isotype</text>
<line x1="1526.5" y1="867.4" x2="1669.75" y2="867.4" stroke="#000" stroke-width="1.5" stroke-linecap="butt"/>
<line x1="1526.5" y1="857.5" x2="1526.5" y2="875.2" stroke="#000" stroke-width="1.5" stroke-linecap="butt"/>
<line x1="1669.75" y1="857.5" x2="1669.75" y2="875.2" stroke="#000" stroke-width="1.5" stroke-linecap="butt"/>
<text transform="matrix(1.0094 0.0000 0.0000 0.9580 1613.9929 861.1815)" font-family='"Liberation Sans", Arial, Helvetica, sans-serif' font-size="27" fill="#000" stroke="#000" stroke-width="1.25" stroke-linejoin="round">96%</text>
<text transform="matrix(1.0317 0.0000 0.0000 0.9647 1487.1706 1099.0088)" font-family='"Liberation Sans", Arial, Helvetica, sans-serif' font-size="30" fill="#000">FITC</text>
<path d="M1769.2,598.25L1732,598.25L1732,671.6L1769.2,671.6" fill="none" stroke="#cbcbcb" stroke-width="1.5"/>
<rect x="1737.15" y="603.9" width="28.45" height="27.4" fill="#fff1f1" stroke="#f20000" stroke-width="2.8"/>
<rect x="1736.65" y="638.4" width="29.45" height="28.4" fill="#c0bfc3" stroke="#38383a" stroke-width="1.8"/>
<text transform="matrix(0.0000 -0.8446 1.0779 0.0000 1223.9610 844.3834)" font-family='"Liberation Sans", Arial, Helvetica, sans-serif' font-size="27" fill="#000" stroke="#000" stroke-width="0.3" stroke-linejoin="round">%Max</text>
<text transform="matrix(1.0869 0.0000 0.0000 1.0392 1.3131 29.7000)" font-family='"Liberation Sans", Arial, Helvetica, sans-serif' font-size="37" fill="#000" font-weight="bold">A</text>
<text transform="matrix(1.0575 0.0000 0.0000 0.9899 1.9563 590.5000)" font-family='"Liberation Sans", Arial, Helvetica, sans-serif' font-size="36" fill="#000" font-weight="bold">B</text>
<text transform="matrix(1.0149 0.0000 0.0000 1.0297 2.2277 1174.3426)" font-family='"Liberation Sans", Arial, Helvetica, sans-serif' font-size="36" fill="#000" font-weight="bold">C</text>
<rect x="187.7" y="1322.2" width="83.85" height="151.1" fill="#ff80ff" stroke="#2a2a2a" stroke-width="1.1"/>
<rect x="400.7" y="1228.2" width="83.1" height="245.1" fill="#ff80ff" stroke="#2a2a2a" stroke-width="1.1"/>
<path d="M123.3,1182.3L548.75,1182.3L548.75,1473.3L123.3,1473.3Z" fill="none" stroke="#111" stroke-width="1.4"/>
<line x1="116.9" y1="1473.3" x2="123.3" y2="1473.3" stroke="#111" stroke-width="1.3" stroke-linecap="butt"/>
<text transform="matrix(1.0800 0.0000 0.0000 1.0378 92.4600 1477.8000)" font-family='"Liberation Sans", Arial, Helvetica, sans-serif' font-size="13.3" fill="#000" font-weight="bold">0.0</text>
<line x1="116.9" y1="1415.1" x2="123.3" y2="1415.1" stroke="#111" stroke-width="1.3" stroke-linecap="butt"/>
<text transform="matrix(1.0800 0.0000 0.0000 1.0378 92.4600 1419.6000)" font-family='"Liberation Sans", Arial, Helvetica, sans-serif' font-size="13.3" fill="#000" font-weight="bold">0.1</text>
<line x1="116.9" y1="1356.9" x2="123.3" y2="1356.9" stroke="#111" stroke-width="1.3" stroke-linecap="butt"/>
<text transform="matrix(1.0800 0.0000 0.0000 1.0378 92.4600 1361.4000)" font-family='"Liberation Sans", Arial, Helvetica, sans-serif' font-size="13.3" fill="#000" font-weight="bold">0.2</text>
<line x1="116.9" y1="1298.7" x2="123.3" y2="1298.7" stroke="#111" stroke-width="1.3" stroke-linecap="butt"/>
<text transform="matrix(1.0800 0.0000 0.0000 1.0378 92.4600 1303.2000)" font-family='"Liberation Sans", Arial, Helvetica, sans-serif' font-size="13.3" fill="#000" font-weight="bold">0.3</text>
<line x1="116.9" y1="1240.5" x2="123.3" y2="1240.5" stroke="#111" stroke-width="1.3" stroke-linecap="butt"/>
<text transform="matrix(1.0500 0.0000 0.0000 1.0378 92.4750 1245.0000)" font-family='"Liberation Sans", Arial, Helvetica, sans-serif' font-size="13.3" fill="#000" font-weight="bold">0.4</text>
<line x1="116.9" y1="1182.3" x2="123.3" y2="1182.3" stroke="#111" stroke-width="1.3" stroke-linecap="butt"/>
<text transform="matrix(1.0800 0.0000 0.0000 1.0378 92.4600 1186.8000)" font-family='"Liberation Sans", Arial, Helvetica, sans-serif' font-size="13.3" fill="#000" font-weight="bold">0.5</text>
<line x1="119.9" y1="1444.2" x2="123.3" y2="1444.2" stroke="#111" stroke-width="1.2" stroke-linecap="butt"/>
<line x1="119.9" y1="1386" x2="123.3" y2="1386" stroke="#111" stroke-width="1.2" stroke-linecap="butt"/>
<line x1="119.9" y1="1327.8" x2="123.3" y2="1327.8" stroke="#111" stroke-width="1.2" stroke-linecap="butt"/>
<line x1="119.9" y1="1269.6" x2="123.3" y2="1269.6" stroke="#111" stroke-width="1.2" stroke-linecap="butt"/>
<line x1="119.9" y1="1211.4" x2="123.3" y2="1211.4" stroke="#111" stroke-width="1.2" stroke-linecap="butt"/>
<line x1="123.3" y1="1473.3" x2="123.3" y2="1476.9" stroke="#111" stroke-width="1.3" stroke-linecap="butt"/>
<line x1="548.75" y1="1473.3" x2="548.75" y2="1476.9" stroke="#111" stroke-width="1.3" stroke-linecap="butt"/>
<line x1="336.25" y1="1470.1" x2="336.25" y2="1476.9" stroke="#111" stroke-width="1.3" stroke-linecap="butt"/>
<text transform="matrix(0.9479 0.0000 0.0000 0.8778 139.8521 1213.2611)" font-family='"Liberation Sans", Arial, Helvetica, sans-serif' font-size="24" fill="#000" stroke="#000" stroke-width="0.35" stroke-linejoin="round">CD117/CD9</text>
<text transform="matrix(0.0000 -0.9299 0.9146 0.0000 76.4484 1451.6624)" font-family='"Liberation Sans", Arial, Helvetica, sans-serif' font-size="26" fill="#000">CD117 normalized signal</text>
<text transform="matrix(0.9626 0.0000 0.0000 1.0375 190.5560 1504.9406)" font-family='"Liberation Sans", Arial, Helvetica, sans-serif' font-size="22.5" fill="#000" font-weight="bold">MES-OV</text>
<text transform="matrix(0.9831 0.0000 0.0000 1.0125 393.5127 1509.5469)" font-family='"Liberation Sans", Arial, Helvetica, sans-serif' font-size="22.5" fill="#000" font-weight="bold">SK-OV-3</text>
<rect x="783.95" y="1205.7" width="83.35" height="264.25" fill="#00ff00" stroke="#2a2a2a" stroke-width="1.1"/>
<rect x="996.45" y="1443.45" width="83.35" height="26.5" fill="#00ff00" stroke="#2a2a2a" stroke-width="1.1"/>
<path d="M719.75,1179.05L1144.5,1179.05L1144.5,1469.95L719.75,1469.95Z" fill="none" stroke="#111" stroke-width="1.4"/>
<line x1="713.35" y1="1469.95" x2="719.75" y2="1469.95" stroke="#111" stroke-width="1.3" stroke-linecap="butt"/>
<text transform="matrix(1.0800 0.0000 0.0000 1.0378 688.9100 1474.4500)" font-family='"Liberation Sans", Arial, Helvetica, sans-serif' font-size="13.3" fill="#000" font-weight="bold">0.0</text>
<line x1="713.35" y1="1433.59" x2="719.75" y2="1433.59" stroke="#111" stroke-width="1.3" stroke-linecap="butt"/>
<text transform="matrix(1.0800 0.0000 0.0000 1.0378 688.9100 1438.0875)" font-family='"Liberation Sans", Arial, Helvetica, sans-serif' font-size="13.3" fill="#000" font-weight="bold">0.5</text>
<line x1="713.35" y1="1397.22" x2="719.75" y2="1397.22" stroke="#111" stroke-width="1.3" stroke-linecap="butt"/>
<text transform="matrix(1.0957 0.0000 0.0000 1.0378 688.6283 1401.7250)" font-family='"Liberation Sans", Arial, Helvetica, sans-serif' font-size="13.3" fill="#000" font-weight="bold">1.0</text>
<line x1="713.35" y1="1360.86" x2="719.75" y2="1360.86" stroke="#111" stroke-width="1.3" stroke-linecap="butt"/>
<text transform="matrix(1.0957 0.0000 0.0000 1.0667 688.6283 1365.3625)" font-family='"Liberation Sans", Arial, Helvetica, sans-serif' font-size="13.3" fill="#000" font-weight="bold">1.5</text>
<line x1="713.35" y1="1324.5" x2="719.75" y2="1324.5" stroke="#111" stroke-width="1.3" stroke-linecap="butt"/>
<text transform="matrix(1.0800 0.0000 0.0000 1.0378 688.9100 1329.0000)" font-family='"Liberation Sans", Arial, Helvetica, sans-serif' font-size="13.3" fill="#000" font-weight="bold">2.0</text>
<line x1="713.35" y1="1288.14" x2="719.75" y2="1288.14" stroke="#111" stroke-width="1.3" stroke-linecap="butt"/>
<text transform="matrix(1.0800 0.0000 0.0000 1.0378 688.9100 1292.6375)" font-family='"Liberation Sans", Arial, Helvetica, sans-serif' font-size="13.3" fill="#000" font-weight="bold">2.5</text>
<line x1="713.35" y1="1251.78" x2="719.75" y2="1251.78" stroke="#111" stroke-width="1.3" stroke-linecap="butt"/>
<text transform="matrix(1.0648 0.0000 0.0000 1.0378 689.1838 1256.2750)" font-family='"Liberation Sans", Arial, Helvetica, sans-serif' font-size="13.3" fill="#000" font-weight="bold">3.0</text>
<line x1="713.35" y1="1215.41" x2="719.75" y2="1215.41" stroke="#111" stroke-width="1.3" stroke-linecap="butt"/>
<text transform="matrix(1.0648 0.0000 0.0000 1.0378 689.1838 1219.9125)" font-family='"Liberation Sans", Arial, Helvetica, sans-serif' font-size="13.3" fill="#000" font-weight="bold">3.5</text>
<line x1="713.35" y1="1179.05" x2="719.75" y2="1179.05" stroke="#111" stroke-width="1.3" stroke-linecap="butt"/>
<text transform="matrix(1.0648 0.0000 0.0000 1.0378 689.1838 1183.5500)" font-family='"Liberation Sans", Arial, Helvetica, sans-serif' font-size="13.3" fill="#000" font-weight="bold">4.0</text>
<line x1="716.35" y1="1451.77" x2="719.75" y2="1451.77" stroke="#111" stroke-width="1.2" stroke-linecap="butt"/>
<line x1="716.35" y1="1415.41" x2="719.75" y2="1415.41" stroke="#111" stroke-width="1.2" stroke-linecap="butt"/>
<line x1="716.35" y1="1379.04" x2="719.75" y2="1379.04" stroke="#111" stroke-width="1.2" stroke-linecap="butt"/>
<line x1="716.35" y1="1342.68" x2="719.75" y2="1342.68" stroke="#111" stroke-width="1.2" stroke-linecap="butt"/>
<line x1="716.35" y1="1306.32" x2="719.75" y2="1306.32" stroke="#111" stroke-width="1.2" stroke-linecap="butt"/>
<line x1="716.35" y1="1269.96" x2="719.75" y2="1269.96" stroke="#111" stroke-width="1.2" stroke-linecap="butt"/>
<line x1="716.35" y1="1233.59" x2="719.75" y2="1233.59" stroke="#111" stroke-width="1.2" stroke-linecap="butt"/>
<line x1="716.35" y1="1197.23" x2="719.75" y2="1197.23" stroke="#111" stroke-width="1.2" stroke-linecap="butt"/>
<line x1="719.75" y1="1469.95" x2="719.75" y2="1473.55" stroke="#111" stroke-width="1.3" stroke-linecap="butt"/>
<line x1="1144.5" y1="1469.95" x2="1144.5" y2="1473.55" stroke="#111" stroke-width="1.3" stroke-linecap="butt"/>
<line x1="932.5" y1="1466.75" x2="932.5" y2="1473.55" stroke="#111" stroke-width="1.3" stroke-linecap="butt"/>
<text transform="matrix(0.8712 0.0000 0.0000 0.9111 1010.9754 1210.2444)" font-family='"Liberation Sans", Arial, Helvetica, sans-serif' font-size="24" fill="#000" stroke="#000" stroke-width="0.35" stroke-linejoin="round">EpCam/CD9</text>
<text transform="matrix(0.0000 -0.9239 0.9146 0.0000 666.4484 1453.3287)" font-family='"Liberation Sans", Arial, Helvetica, sans-serif' font-size="26" fill="#000">EpCam normalized signal</text>
<text transform="matrix(0.9655 0.0000 0.0000 1.0125 791.5517 1505.7469)" font-family='"Liberation Sans", Arial, Helvetica, sans-serif' font-size="22.5" fill="#000" font-weight="bold">MES-OV</text>
<text transform="matrix(0.9774 0.0000 0.0000 1.0125 994.7669 1505.7469)" font-family='"Liberation Sans", Arial, Helvetica, sans-serif' font-size="22.5" fill="#000" font-weight="bold">SK-OV-3</text>
<rect x="1377.6" y="1448.95" width="83.95" height="15.65" fill="#0000ff" stroke="#14143c" stroke-width="1.1"/>
<rect x="1590.45" y="1209.7" width="83.35" height="254.9" fill="#0000ff" stroke="#14143c" stroke-width="1.1"/>
<path d="M1313.6,1173.8L1738.6,1173.8L1738.6,1464.6L1313.6,1464.6Z" fill="none" stroke="#111" stroke-width="1.4"/>
<line x1="1307.2" y1="1464.6" x2="1313.6" y2="1464.6" stroke="#111" stroke-width="1.3" stroke-linecap="butt"/>
<text transform="matrix(1.1842 0.0000 0.0000 1.0919 1290.3658 1469.1000)" font-family='"Liberation Sans", Arial, Helvetica, sans-serif' font-size="13.3" fill="#000" font-weight="bold">.0</text>
<line x1="1307.2" y1="1419.87" x2="1313.6" y2="1419.87" stroke="#111" stroke-width="1.3" stroke-linecap="butt"/>
<text transform="matrix(1.1842 0.0000 0.0000 1.0919 1290.3658 1424.3667)" font-family='"Liberation Sans", Arial, Helvetica, sans-serif' font-size="13.3" fill="#000" font-weight="bold">.2</text>
<line x1="1307.2" y1="1375.13" x2="1313.6" y2="1375.13" stroke="#111" stroke-width="1.3" stroke-linecap="butt"/>
<text transform="matrix(1.1250 0.0000 0.0000 1.1222 1290.4250 1379.6333)" font-family='"Liberation Sans", Arial, Helvetica, sans-serif' font-size="13.3" fill="#000" font-weight="bold">.4</text>
<line x1="1307.2" y1="1330.4" x2="1313.6" y2="1330.4" stroke="#111" stroke-width="1.3" stroke-linecap="butt"/>
<text transform="matrix(1.1842 0.0000 0.0000 1.0919 1290.3658 1334.9000)" font-family='"Liberation Sans", Arial, Helvetica, sans-serif' font-size="13.3" fill="#000" font-weight="bold">.6</text>
<line x1="1307.2" y1="1285.67" x2="1313.6" y2="1285.67" stroke="#111" stroke-width="1.3" stroke-linecap="butt"/>
<text transform="matrix(1.1538 0.0000 0.0000 1.0919 1290.3962 1290.1667)" font-family='"Liberation Sans", Arial, Helvetica, sans-serif' font-size="13.3" fill="#000" font-weight="bold">.8</text>
<line x1="1307.2" y1="1240.93" x2="1313.6" y2="1240.93" stroke="#111" stroke-width="1.3" stroke-linecap="butt"/>
<text transform="matrix(1.1842 0.0000 0.0000 1.0919 1290.3658 1245.4333)" font-family='"Liberation Sans", Arial, Helvetica, sans-serif' font-size="13.3" fill="#000" font-weight="bold">.0</text>
<line x1="1307.2" y1="1196.2" x2="1313.6" y2="1196.2" stroke="#111" stroke-width="1.3" stroke-linecap="butt"/>
<text transform="matrix(1.1842 0.0000 0.0000 1.0919 1290.3658 1200.7000)" font-family='"Liberation Sans", Arial, Helvetica, sans-serif' font-size="13.3" fill="#000" font-weight="bold">.2</text>
<line x1="1310.2" y1="1442.23" x2="1313.6" y2="1442.23" stroke="#111" stroke-width="1.2" stroke-linecap="butt"/>
<line x1="1310.2" y1="1397.5" x2="1313.6" y2="1397.5" stroke="#111" stroke-width="1.2" stroke-linecap="butt"/>
<line x1="1310.2" y1="1352.77" x2="1313.6" y2="1352.77" stroke="#111" stroke-width="1.2" stroke-linecap="butt"/>
<line x1="1310.2" y1="1308.03" x2="1313.6" y2="1308.03" stroke="#111" stroke-width="1.2" stroke-linecap="butt"/>
<line x1="1310.2" y1="1263.3" x2="1313.6" y2="1263.3" stroke="#111" stroke-width="1.2" stroke-linecap="butt"/>
<line x1="1310.2" y1="1218.57" x2="1313.6" y2="1218.57" stroke="#111" stroke-width="1.2" stroke-linecap="butt"/>
<line x1="1309.4" y1="1173.8" x2="1313.6" y2="1173.8" stroke="#111" stroke-width="1.3" stroke-linecap="butt"/>
<line x1="1313.6" y1="1464.6" x2="1313.6" y2="1468.2" stroke="#111" stroke-width="1.3" stroke-linecap="butt"/>
<line x1="1738.6" y1="1464.6" x2="1738.6" y2="1468.2" stroke="#111" stroke-width="1.3" stroke-linecap="butt"/>
<line x1="1526.4" y1="1461.4" x2="1526.4" y2="1468.2" stroke="#111" stroke-width="1.3" stroke-linecap="butt"/>
<text transform="matrix(0.9094 0.0000 0.0000 0.8844 1331.0906 1205.1778)" font-family='"Liberation Sans", Arial, Helvetica, sans-serif' font-size="24" fill="#000" stroke="#000" stroke-width="0.35" stroke-linejoin="round">CD117/EpCam</text>
<text transform="matrix(0.0000 -0.9310 0.9625 0.0000 1275.6469 1423.6637)" font-family='"Liberation Sans", Arial, Helvetica, sans-serif' font-size="26" fill="#000">CD117/EpCam ratio</text>
<text transform="matrix(0.9655 0.0000 0.0000 1.0187 1386.5517 1495.4453)" font-family='"Liberation Sans", Arial, Helvetica, sans-serif' font-size="22.5" fill="#000" font-weight="bold">MES-OV</text>
<text transform="matrix(0.9746 0.0000 0.0000 1.0250 1589.5191 1495.7438)" font-family='"Liberation Sans", Arial, Helvetica, sans-serif' font-size="22.5" fill="#000" font-weight="bold">SK-OV-3</text>
</svg>
</body></html>
